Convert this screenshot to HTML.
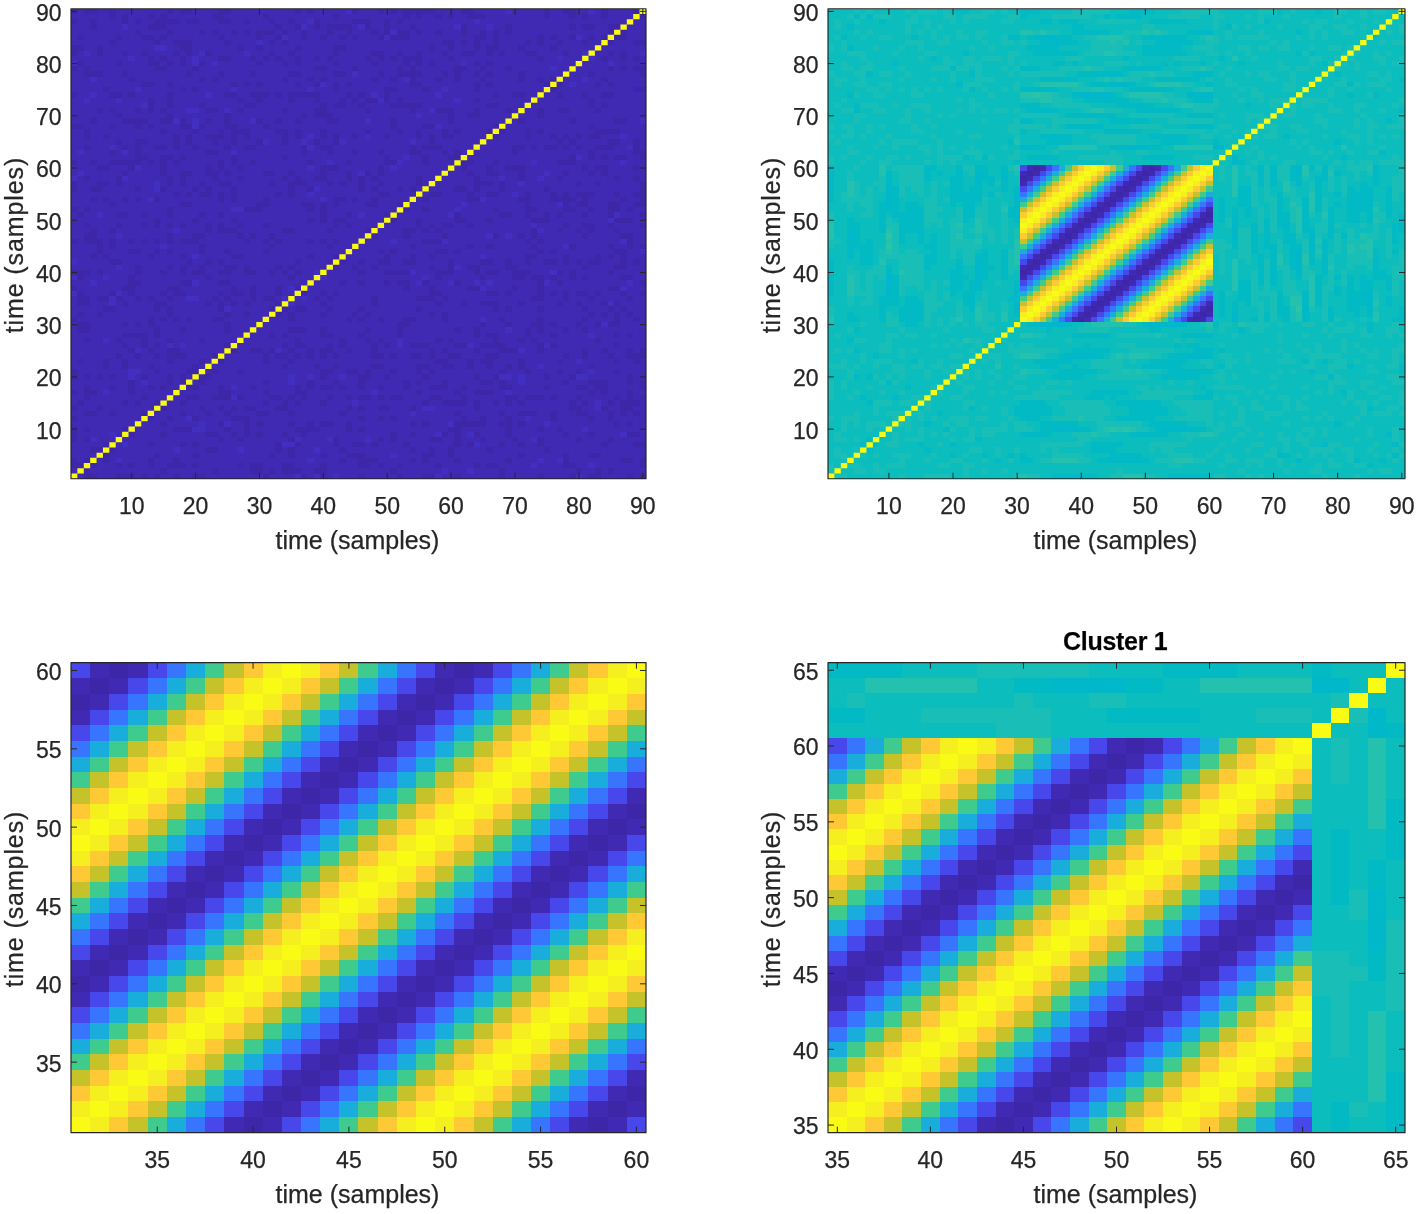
<!DOCTYPE html>
<html lang="en">
<head>
<meta charset="utf-8">
<title>Covariance matrices - time (samples)</title>
<style>
html,body{margin:0;padding:0;background:#fff;}
body{width:1418px;height:1214px;overflow:hidden;}
svg{display:block;}
text{font-kerning:normal;}
</style>
</head>
<body>
<svg width="1418" height="1214" viewBox="0 0 1418 1214">
<rect width="1418" height="1214" fill="#fff"/>
<g shape-rendering="crispEdges">
<rect x="71" y="8.75" width="575" height="470" fill="#402ab4"/>
<path fill="#3e26a8" d="M84 474h13v5h-13zM116 474h19v5h-19zM141 474h7v5h-7zM154 474h6v5h-6zM173 474h7v5h-7zM192 474h13v5h-13zM263 474h6v5h-6zM301 474h6v5h-6zM320 474h7v5h-7zM358 474h7v5h-7zM397 474h6v5h-6zM422 474h13v5h-13zM454 474h7v5h-7zM499 474h6v5h-6zM537 474h7v5h-7zM569 474h7v5h-7zM588 474h13v5h-13zM627 474h6v5h-6zM640 474h6v5h-6zM84 468h6v6h-6zM160 468h7v6h-7zM212 468h6v6h-6zM250 468h13v6h-13zM269 468h6v6h-6zM282 468h19v6h-19zM314 468h13v6h-13zM390 468h7v6h-7zM499 468h6v6h-6zM576 468h6v6h-6zM595 468h6v6h-6zM608 468h6v6h-6zM71 463h13v5h-13zM90 463h7v5h-7zM116 463h6v5h-6zM128 463h7v5h-7zM148 463h6v5h-6zM167 463h19v5h-19zM192 463h7v5h-7zM237 463h7v5h-7zM250 463h13v5h-13zM282 463h13v5h-13zM320 463h7v5h-7zM358 463h13v5h-13zM378 463h6v5h-6zM397 463h6v5h-6zM435 463h7v5h-7zM474 463h6v5h-6zM486 463h13v5h-13zM563 463h13v5h-13zM640 463h6v5h-6zM71 458h6v5h-6zM84 458h6v5h-6zM103 458h6v5h-6zM148 458h6v5h-6zM173 458h7v5h-7zM339 458h7v5h-7zM358 458h20v5h-20zM410 458h6v5h-6zM422 458h7v5h-7zM454 458h7v5h-7zM505 458h7v5h-7zM563 458h6v5h-6zM620 458h13v5h-13zM640 458h6v5h-6zM103 453h6v5h-6zM154 453h6v5h-6zM192 453h7v5h-7zM269 453h6v5h-6zM288 453h7v5h-7zM320 453h7v5h-7zM346 453h19v5h-19zM422 453h13v5h-13zM448 453h6v5h-6zM518 453h7v5h-7zM563 453h6v5h-6zM588 453h13v5h-13zM90 447h13v6h-13zM109 447h7v6h-7zM205 447h13v6h-13zM275 447h7v6h-7zM288 447h7v6h-7zM339 447h7v6h-7zM410 447h6v6h-6zM429 447h6v6h-6zM448 447h6v6h-6zM486 447h7v6h-7zM544 447h6v6h-6zM103 442h6v5h-6zM148 442h6v5h-6zM180 442h6v5h-6zM192 442h7v5h-7zM275 442h7v5h-7zM295 442h6v5h-6zM333 442h6v5h-6zM352 442h13v5h-13zM371 442h7v5h-7zM403 442h7v5h-7zM454 442h7v5h-7zM467 442h7v5h-7zM499 442h6v5h-6zM518 442h7v5h-7zM537 442h7v5h-7zM601 442h7v5h-7zM633 442h13v5h-13zM71 437h6v5h-6zM84 437h6v5h-6zM218 437h6v5h-6zM237 437h7v5h-7zM288 437h7v5h-7zM333 437h6v5h-6zM378 437h6v5h-6zM390 437h7v5h-7zM429 437h13v5h-13zM454 437h7v5h-7zM480 437h6v5h-6zM512 437h6v5h-6zM537 437h7v5h-7zM576 437h6v5h-6zM608 437h6v5h-6zM71 432h6v5h-6zM128 432h7v5h-7zM160 432h7v5h-7zM205 432h13v5h-13zM231 432h6v5h-6zM244 432h6v5h-6zM256 432h7v5h-7zM282 432h6v5h-6zM301 432h6v5h-6zM390 432h7v5h-7zM410 432h6v5h-6zM442 432h6v5h-6zM454 432h7v5h-7zM474 432h6v5h-6zM505 432h7v5h-7zM563 432h6v5h-6zM588 432h7v5h-7zM627 432h13v5h-13zM71 427h6v5h-6zM84 427h6v5h-6zM122 427h6v5h-6zM173 427h19v5h-19zM224 427h7v5h-7zM244 427h6v5h-6zM295 427h25v5h-25zM346 427h6v5h-6zM358 427h7v5h-7zM448 427h13v5h-13zM505 427h7v5h-7zM537 427h7v5h-7zM557 427h6v5h-6zM160 421h7v6h-7zM218 421h6v6h-6zM244 421h6v6h-6zM256 421h7v6h-7zM288 421h7v6h-7zM307 421h7v6h-7zM320 421h13v6h-13zM346 421h6v6h-6zM410 421h6v6h-6zM422 421h7v6h-7zM454 421h32v6h-32zM499 421h13v6h-13zM518 421h7v6h-7zM614 421h6v6h-6zM627 421h6v6h-6zM71 416h6v5h-6zM148 416h6v5h-6zM167 416h6v5h-6zM192 416h7v5h-7zM231 416h19v5h-19zM358 416h7v5h-7zM378 416h6v5h-6zM390 416h7v5h-7zM461 416h6v5h-6zM480 416h6v5h-6zM505 416h7v5h-7zM550 416h7v5h-7zM588 416h7v5h-7zM608 416h6v5h-6zM84 411h13v5h-13zM109 411h7v5h-7zM141 411h7v5h-7zM180 411h6v5h-6zM205 411h7v5h-7zM224 411h7v5h-7zM256 411h13v5h-13zM288 411h7v5h-7zM339 411h7v5h-7zM454 411h7v5h-7zM499 411h6v5h-6zM518 411h19v5h-19zM550 411h7v5h-7zM576 411h12v5h-12zM608 411h6v5h-6zM620 411h7v5h-7zM633 411h7v5h-7zM71 406h6v5h-6zM97 406h6v5h-6zM160 406h7v5h-7zM199 406h6v5h-6zM218 406h6v5h-6zM231 406h6v5h-6zM244 406h12v5h-12zM275 406h13v5h-13zM346 406h6v5h-6zM358 406h7v5h-7zM378 406h12v5h-12zM410 406h6v5h-6zM474 406h6v5h-6zM569 406h13v5h-13zM601 406h7v5h-7zM620 406h13v5h-13zM77 400h7v6h-7zM122 400h6v6h-6zM135 400h6v6h-6zM154 400h6v6h-6zM180 400h6v6h-6zM263 400h6v6h-6zM282 400h6v6h-6zM295 400h6v6h-6zM320 400h7v6h-7zM422 400h7v6h-7zM442 400h25v6h-25zM474 400h6v6h-6zM493 400h6v6h-6zM505 400h7v6h-7zM518 400h7v6h-7zM569 400h7v6h-7zM582 400h6v6h-6zM608 400h6v6h-6zM620 400h20v6h-20zM84 395h6v5h-6zM141 395h7v5h-7zM186 395h13v5h-13zM212 395h19v5h-19zM237 395h7v5h-7zM269 395h13v5h-13zM288 395h7v5h-7zM301 395h6v5h-6zM327 395h6v5h-6zM346 395h6v5h-6zM358 395h13v5h-13zM378 395h6v5h-6zM390 395h13v5h-13zM429 395h13v5h-13zM461 395h6v5h-6zM505 395h13v5h-13zM525 395h19v5h-19zM550 395h7v5h-7zM576 395h6v5h-6zM614 395h6v5h-6zM627 395h6v5h-6zM640 395h6v5h-6zM71 390h6v5h-6zM84 390h13v5h-13zM128 390h7v5h-7zM218 390h13v5h-13zM263 390h6v5h-6zM295 390h12v5h-12zM416 390h6v5h-6zM454 390h7v5h-7zM474 390h19v5h-19zM588 390h7v5h-7zM601 390h7v5h-7zM627 390h6v5h-6zM84 385h6v5h-6zM109 385h7v5h-7zM128 385h7v5h-7zM148 385h6v5h-6zM160 385h7v5h-7zM186 385h13v5h-13zM218 385h6v5h-6zM250 385h6v5h-6zM295 385h6v5h-6zM307 385h7v5h-7zM320 385h13v5h-13zM339 385h7v5h-7zM358 385h7v5h-7zM378 385h6v5h-6zM403 385h7v5h-7zM429 385h19v5h-19zM461 385h6v5h-6zM499 385h13v5h-13zM544 385h6v5h-6zM576 385h12v5h-12zM595 385h13v5h-13zM640 385h6v5h-6zM128 380h7v5h-7zM167 380h6v5h-6zM180 380h6v5h-6zM199 380h6v5h-6zM263 380h6v5h-6zM307 380h7v5h-7zM333 380h6v5h-6zM358 380h7v5h-7zM403 380h7v5h-7zM416 380h6v5h-6zM442 380h6v5h-6zM480 380h13v5h-13zM499 380h6v5h-6zM563 380h6v5h-6zM588 380h20v5h-20zM627 380h6v5h-6zM640 380h6v5h-6zM71 374h6v6h-6zM84 374h6v6h-6zM97 374h6v6h-6zM109 374h7v6h-7zM141 374h7v6h-7zM167 374h6v6h-6zM180 374h6v6h-6zM199 374h13v6h-13zM320 374h7v6h-7zM358 374h13v6h-13zM384 374h6v6h-6zM422 374h7v6h-7zM474 374h6v6h-6zM493 374h6v6h-6zM544 374h6v6h-6zM569 374h7v6h-7zM627 374h6v6h-6zM71 369h6v5h-6zM154 369h6v5h-6zM186 369h13v5h-13zM212 369h6v5h-6zM237 369h7v5h-7zM320 369h13v5h-13zM346 369h12v5h-12zM365 369h6v5h-6zM390 369h7v5h-7zM416 369h6v5h-6zM429 369h6v5h-6zM499 369h6v5h-6zM525 369h6v5h-6zM557 369h6v5h-6zM576 369h6v5h-6zM614 369h6v5h-6zM103 364h6v5h-6zM122 364h6v5h-6zM148 364h6v5h-6zM192 364h7v5h-7zM282 364h6v5h-6zM314 364h6v5h-6zM333 364h6v5h-6zM371 364h13v5h-13zM416 364h13v5h-13zM442 364h12v5h-12zM467 364h7v5h-7zM486 364h7v5h-7zM505 364h7v5h-7zM518 364h7v5h-7zM588 364h7v5h-7zM77 359h7v5h-7zM103 359h6v5h-6zM122 359h6v5h-6zM167 359h6v5h-6zM199 359h6v5h-6zM218 359h6v5h-6zM263 359h6v5h-6zM288 359h7v5h-7zM435 359h13v5h-13zM467 359h7v5h-7zM480 359h13v5h-13zM518 359h7v5h-7zM557 359h6v5h-6zM614 359h6v5h-6zM633 359h7v5h-7zM116 353h6v6h-6zM135 353h6v6h-6zM154 353h6v6h-6zM167 353h19v6h-19zM212 353h6v6h-6zM263 353h6v6h-6zM275 353h13v6h-13zM295 353h6v6h-6zM307 353h7v6h-7zM320 353h7v6h-7zM333 353h6v6h-6zM371 353h13v6h-13zM390 353h7v6h-7zM410 353h12v6h-12zM429 353h6v6h-6zM448 353h13v6h-13zM486 353h13v6h-13zM563 353h6v6h-6zM582 353h6v6h-6zM608 353h6v6h-6zM627 353h19v6h-19zM128 348h7v5h-7zM148 348h6v5h-6zM167 348h13v5h-13zM231 348h6v5h-6zM250 348h13v5h-13zM269 348h6v5h-6zM288 348h7v5h-7zM307 348h7v5h-7zM320 348h13v5h-13zM346 348h6v5h-6zM371 348h7v5h-7zM429 348h6v5h-6zM442 348h6v5h-6zM474 348h6v5h-6zM499 348h19v5h-19zM537 348h7v5h-7zM582 348h6v5h-6zM601 348h7v5h-7zM627 348h6v5h-6zM640 348h6v5h-6zM122 343h6v5h-6zM141 343h7v5h-7zM154 343h6v5h-6zM224 343h7v5h-7zM282 343h6v5h-6zM295 343h12v5h-12zM327 343h6v5h-6zM339 343h7v5h-7zM371 343h7v5h-7zM384 343h6v5h-6zM410 343h19v5h-19zM454 343h13v5h-13zM480 343h25v5h-25zM537 343h7v5h-7zM550 343h7v5h-7zM614 343h6v5h-6zM84 338h6v5h-6zM116 338h6v5h-6zM141 338h7v5h-7zM167 338h6v5h-6zM199 338h6v5h-6zM295 338h6v5h-6zM339 338h7v5h-7zM365 338h6v5h-6zM378 338h6v5h-6zM435 338h7v5h-7zM448 338h6v5h-6zM493 338h6v5h-6zM518 338h7v5h-7zM531 338h6v5h-6zM595 338h6v5h-6zM122 333h26v5h-26zM154 333h6v5h-6zM269 333h6v5h-6zM282 333h6v5h-6zM320 333h13v5h-13zM358 333h7v5h-7zM397 333h6v5h-6zM474 333h6v5h-6zM486 333h13v5h-13zM525 333h6v5h-6zM550 333h7v5h-7zM614 333h6v5h-6zM627 333h6v5h-6zM77 327h13v6h-13zM154 327h6v6h-6zM180 327h6v6h-6zM224 327h7v6h-7zM288 327h19v6h-19zM320 327h7v6h-7zM365 327h6v6h-6zM397 327h6v6h-6zM454 327h7v6h-7zM474 327h6v6h-6zM525 327h6v6h-6zM537 327h7v6h-7zM563 327h6v6h-6zM582 327h6v6h-6zM77 322h13v5h-13zM122 322h6v5h-6zM135 322h6v5h-6zM148 322h6v5h-6zM224 322h7v5h-7zM397 322h13v5h-13zM480 322h6v5h-6zM505 322h7v5h-7zM531 322h13v5h-13zM550 322h7v5h-7zM576 322h6v5h-6zM595 322h6v5h-6zM608 322h12v5h-12zM71 317h6v5h-6zM148 317h6v5h-6zM160 317h7v5h-7zM173 317h7v5h-7zM186 317h6v5h-6zM212 317h12v5h-12zM288 317h7v5h-7zM346 317h6v5h-6zM358 317h7v5h-7zM378 317h6v5h-6zM403 317h13v5h-13zM442 317h6v5h-6zM499 317h6v5h-6zM537 317h7v5h-7zM582 317h6v5h-6zM614 317h6v5h-6zM633 317h7v5h-7zM77 312h7v5h-7zM97 312h6v5h-6zM167 312h6v5h-6zM224 312h7v5h-7zM244 312h6v5h-6zM275 312h7v5h-7zM288 312h7v5h-7zM320 312h7v5h-7zM352 312h6v5h-6zM365 312h6v5h-6zM429 312h6v5h-6zM442 312h6v5h-6zM588 312h7v5h-7zM601 312h7v5h-7zM614 312h6v5h-6zM627 312h6v5h-6zM103 306h13v6h-13zM154 306h6v6h-6zM167 306h6v6h-6zM218 306h6v6h-6zM269 306h6v6h-6zM282 306h6v6h-6zM295 306h12v6h-12zM327 306h6v6h-6zM358 306h7v6h-7zM416 306h6v6h-6zM493 306h6v6h-6zM505 306h7v6h-7zM537 306h7v6h-7zM582 306h6v6h-6zM608 306h6v6h-6zM620 306h7v6h-7zM77 301h13v5h-13zM122 301h6v5h-6zM154 301h13v5h-13zM205 301h7v5h-7zM218 301h6v5h-6zM231 301h6v5h-6zM244 301h6v5h-6zM275 301h7v5h-7zM320 301h7v5h-7zM371 301h7v5h-7zM435 301h7v5h-7zM461 301h6v5h-6zM480 301h19v5h-19zM518 301h7v5h-7zM557 301h6v5h-6zM576 301h6v5h-6zM601 301h7v5h-7zM614 301h6v5h-6zM77 296h13v5h-13zM97 296h12v5h-12zM116 296h6v5h-6zM135 296h6v5h-6zM148 296h6v5h-6zM167 296h6v5h-6zM212 296h6v5h-6zM224 296h7v5h-7zM250 296h6v5h-6zM263 296h12v5h-12zM314 296h6v5h-6zM327 296h6v5h-6zM371 296h7v5h-7zM416 296h19v5h-19zM442 296h6v5h-6zM531 296h13v5h-13zM563 296h6v5h-6zM588 296h7v5h-7zM627 296h6v5h-6zM77 291h7v5h-7zM109 291h7v5h-7zM128 291h7v5h-7zM160 291h7v5h-7zM173 291h13v5h-13zM218 291h6v5h-6zM231 291h13v5h-13zM250 291h6v5h-6zM275 291h7v5h-7zM301 291h6v5h-6zM320 291h7v5h-7zM333 291h6v5h-6zM429 291h13v5h-13zM486 291h13v5h-13zM505 291h7v5h-7zM537 291h7v5h-7zM550 291h7v5h-7zM563 291h6v5h-6zM576 291h12v5h-12zM595 291h6v5h-6zM620 291h7v5h-7zM640 291h6v5h-6zM71 286h6v5h-6zM122 286h13v5h-13zM167 286h13v5h-13zM231 286h6v5h-6zM250 286h6v5h-6zM275 286h7v5h-7zM295 286h6v5h-6zM403 286h7v5h-7zM429 286h6v5h-6zM467 286h13v5h-13zM512 286h6v5h-6zM537 286h7v5h-7zM608 286h12v5h-12zM128 280h13v6h-13zM180 280h12v6h-12zM218 280h13v6h-13zM339 280h7v6h-7zM358 280h7v6h-7zM384 280h6v6h-6zM397 280h13v6h-13zM422 280h7v6h-7zM454 280h7v6h-7zM537 280h7v6h-7zM557 280h6v6h-6zM640 280h6v6h-6zM77 275h7v5h-7zM128 275h7v5h-7zM205 275h7v5h-7zM288 275h7v5h-7zM435 275h7v5h-7zM480 275h6v5h-6zM512 275h13v5h-13zM531 275h13v5h-13zM550 275h7v5h-7zM569 275h7v5h-7zM582 275h6v5h-6zM620 275h13v5h-13zM71 270h19v5h-19zM97 270h6v5h-6zM135 270h6v5h-6zM160 270h7v5h-7zM180 270h6v5h-6zM192 270h13v5h-13zM218 270h13v5h-13zM244 270h12v5h-12zM269 270h6v5h-6zM282 270h6v5h-6zM295 270h6v5h-6zM358 270h7v5h-7zM384 270h26v5h-26zM435 270h19v5h-19zM474 270h6v5h-6zM486 270h13v5h-13zM512 270h19v5h-19zM557 270h6v5h-6zM569 270h7v5h-7zM608 270h6v5h-6zM135 265h6v5h-6zM167 265h6v5h-6zM180 265h6v5h-6zM199 265h6v5h-6zM224 265h13v5h-13zM244 265h6v5h-6zM275 265h7v5h-7zM288 265h7v5h-7zM333 265h6v5h-6zM352 265h6v5h-6zM371 265h7v5h-7zM429 265h6v5h-6zM448 265h6v5h-6zM467 265h13v5h-13zM505 265h13v5h-13zM582 265h6v5h-6zM614 265h13v5h-13zM109 259h13v6h-13zM186 259h6v6h-6zM205 259h7v6h-7zM218 259h6v6h-6zM295 259h6v6h-6zM327 259h6v6h-6zM339 259h7v6h-7zM358 259h7v6h-7zM378 259h12v6h-12zM403 259h13v6h-13zM448 259h6v6h-6zM480 259h13v6h-13zM505 259h7v6h-7zM525 259h6v6h-6zM544 259h13v6h-13zM563 259h6v6h-6zM576 259h6v6h-6zM588 259h13v6h-13zM620 259h7v6h-7zM633 259h7v6h-7zM90 254h7v5h-7zM103 254h6v5h-6zM148 254h6v5h-6zM180 254h6v5h-6zM231 254h13v5h-13zM307 254h7v5h-7zM333 254h6v5h-6zM384 254h6v5h-6zM410 254h6v5h-6zM429 254h6v5h-6zM525 254h12v5h-12zM563 254h6v5h-6zM595 254h6v5h-6zM608 254h6v5h-6zM620 254h7v5h-7zM97 249h6v5h-6zM128 249h13v5h-13zM154 249h6v5h-6zM167 249h6v5h-6zM199 249h6v5h-6zM224 249h7v5h-7zM263 249h6v5h-6zM378 249h6v5h-6zM390 249h7v5h-7zM435 249h13v5h-13zM454 249h7v5h-7zM537 249h7v5h-7zM550 249h7v5h-7zM614 249h13v5h-13zM97 244h6v5h-6zM109 244h7v5h-7zM199 244h6v5h-6zM269 244h6v5h-6zM327 244h6v5h-6zM410 244h6v5h-6zM467 244h7v5h-7zM486 244h7v5h-7zM531 244h6v5h-6zM569 244h7v5h-7zM608 244h6v5h-6zM627 244h6v5h-6zM640 244h6v5h-6zM71 239h6v5h-6zM84 239h19v5h-19zM109 239h7v5h-7zM128 239h7v5h-7zM141 239h7v5h-7zM154 239h6v5h-6zM167 239h6v5h-6zM180 239h19v5h-19zM244 239h6v5h-6zM263 239h6v5h-6zM275 239h7v5h-7zM307 239h7v5h-7zM320 239h7v5h-7zM333 239h6v5h-6zM422 239h20v5h-20zM525 239h6v5h-6zM537 239h7v5h-7zM627 239h6v5h-6zM84 233h13v6h-13zM167 233h6v6h-6zM192 233h13v6h-13zM237 233h7v6h-7zM250 233h6v6h-6zM269 233h6v6h-6zM371 233h7v6h-7zM403 233h7v6h-7zM442 233h6v6h-6zM493 233h6v6h-6zM518 233h7v6h-7zM531 233h6v6h-6zM582 233h6v6h-6zM620 233h13v6h-13zM90 228h7v5h-7zM109 228h7v5h-7zM205 228h7v5h-7zM218 228h19v5h-19zM282 228h13v5h-13zM327 228h6v5h-6zM365 228h6v5h-6zM403 228h13v5h-13zM422 228h7v5h-7zM435 228h7v5h-7zM531 228h6v5h-6zM557 228h6v5h-6zM576 228h6v5h-6zM588 228h7v5h-7zM614 228h6v5h-6zM84 223h6v5h-6zM116 223h6v5h-6zM141 223h7v5h-7zM154 223h6v5h-6zM167 223h6v5h-6zM180 223h6v5h-6zM205 223h7v5h-7zM218 223h6v5h-6zM237 223h7v5h-7zM263 223h6v5h-6zM333 223h6v5h-6zM346 223h6v5h-6zM416 223h6v5h-6zM429 223h6v5h-6zM442 223h12v5h-12zM467 223h7v5h-7zM563 223h6v5h-6zM582 223h13v5h-13zM608 223h6v5h-6zM640 223h6v5h-6zM154 218h6v5h-6zM192 218h7v5h-7zM231 218h6v5h-6zM307 218h7v5h-7zM320 218h7v5h-7zM333 218h13v5h-13zM390 218h7v5h-7zM416 218h6v5h-6zM454 218h13v5h-13zM486 218h7v5h-7zM531 218h19v5h-19zM614 218h19v5h-19zM77 212h7v6h-7zM116 212h12v6h-12zM141 212h7v6h-7zM167 212h6v6h-6zM199 212h6v6h-6zM218 212h6v6h-6zM320 212h7v6h-7zM346 212h6v6h-6zM384 212h6v6h-6zM454 212h7v6h-7zM499 212h13v6h-13zM525 212h6v6h-6zM544 212h6v6h-6zM557 212h6v6h-6zM582 212h6v6h-6zM608 212h6v6h-6zM640 212h6v6h-6zM71 207h6v5h-6zM84 207h6v5h-6zM167 207h6v5h-6zM244 207h19v5h-19zM307 207h7v5h-7zM320 207h7v5h-7zM403 207h7v5h-7zM422 207h7v5h-7zM493 207h6v5h-6zM525 207h12v5h-12zM563 207h13v5h-13zM588 207h7v5h-7zM608 207h12v5h-12zM627 207h6v5h-6zM109 202h7v5h-7zM180 202h12v5h-12zM256 202h13v5h-13zM301 202h13v5h-13zM320 202h7v5h-7zM333 202h6v5h-6zM365 202h13v5h-13zM397 202h6v5h-6zM525 202h6v5h-6zM563 202h6v5h-6zM576 202h12v5h-12zM608 202h12v5h-12zM633 202h13v5h-13zM90 197h7v5h-7zM103 197h6v5h-6zM122 197h6v5h-6zM135 197h6v5h-6zM154 197h6v5h-6zM218 197h6v5h-6zM231 197h6v5h-6zM263 197h6v5h-6zM333 197h13v5h-13zM352 197h6v5h-6zM371 197h7v5h-7zM422 197h7v5h-7zM467 197h13v5h-13zM518 197h13v5h-13zM550 197h26v5h-26zM582 197h6v5h-6zM620 197h7v5h-7zM640 197h6v5h-6zM173 192h7v5h-7zM186 192h6v5h-6zM199 192h13v5h-13zM218 192h6v5h-6zM231 192h6v5h-6zM275 192h7v5h-7zM288 192h7v5h-7zM378 192h12v5h-12zM429 192h13v5h-13zM467 192h7v5h-7zM486 192h13v5h-13zM525 192h6v5h-6zM550 192h7v5h-7zM563 192h6v5h-6zM576 192h19v5h-19zM614 192h6v5h-6zM633 192h13v5h-13zM71 186h6v6h-6zM90 186h13v6h-13zM135 186h6v6h-6zM160 186h7v6h-7zM192 186h7v6h-7zM205 186h7v6h-7zM231 186h6v6h-6zM288 186h7v6h-7zM307 186h7v6h-7zM358 186h7v6h-7zM371 186h7v6h-7zM397 186h6v6h-6zM410 186h6v6h-6zM454 186h13v6h-13zM474 186h6v6h-6zM499 186h6v6h-6zM544 186h6v6h-6zM640 186h6v6h-6zM71 181h6v5h-6zM97 181h12v5h-12zM116 181h6v5h-6zM167 181h6v5h-6zM180 181h6v5h-6zM199 181h6v5h-6zM218 181h13v5h-13zM269 181h6v5h-6zM288 181h19v5h-19zM327 181h6v5h-6zM339 181h7v5h-7zM358 181h7v5h-7zM378 181h6v5h-6zM416 181h6v5h-6zM474 181h19v5h-19zM499 181h6v5h-6zM576 181h6v5h-6zM595 181h6v5h-6zM640 181h6v5h-6zM84 176h6v5h-6zM116 176h6v5h-6zM167 176h6v5h-6zM180 176h6v5h-6zM212 176h6v5h-6zM237 176h7v5h-7zM282 176h6v5h-6zM295 176h6v5h-6zM314 176h13v5h-13zM346 176h6v5h-6zM358 176h7v5h-7zM371 176h7v5h-7zM416 176h6v5h-6zM474 176h6v5h-6zM518 176h7v5h-7zM557 176h6v5h-6zM614 176h6v5h-6zM633 176h7v5h-7zM122 171h6v5h-6zM160 171h7v5h-7zM180 171h12v5h-12zM205 171h13v5h-13zM224 171h7v5h-7zM263 171h12v5h-12zM288 171h7v5h-7zM320 171h7v5h-7zM346 171h6v5h-6zM365 171h6v5h-6zM378 171h6v5h-6zM467 171h7v5h-7zM486 171h13v5h-13zM518 171h7v5h-7zM563 171h6v5h-6zM588 171h7v5h-7zM601 171h7v5h-7zM97 165h12v6h-12zM128 165h7v6h-7zM160 165h7v6h-7zM205 165h7v6h-7zM218 165h6v6h-6zM237 165h7v6h-7zM320 165h19v6h-19zM378 165h6v6h-6zM461 165h6v6h-6zM486 165h7v6h-7zM505 165h20v6h-20zM582 165h6v6h-6zM595 165h13v6h-13zM633 165h7v6h-7zM71 160h6v5h-6zM90 160h7v5h-7zM109 160h32v5h-32zM148 160h6v5h-6zM160 160h7v5h-7zM173 160h7v5h-7zM218 160h6v5h-6zM231 160h6v5h-6zM250 160h6v5h-6zM307 160h7v5h-7zM346 160h6v5h-6zM384 160h13v5h-13zM422 160h7v5h-7zM461 160h13v5h-13zM493 160h6v5h-6zM557 160h19v5h-19zM135 155h13v5h-13zM160 155h13v5h-13zM180 155h6v5h-6zM231 155h6v5h-6zM282 155h6v5h-6zM384 155h6v5h-6zM422 155h7v5h-7zM448 155h13v5h-13zM569 155h7v5h-7zM588 155h7v5h-7zM601 155h7v5h-7zM614 155h13v5h-13zM640 155h6v5h-6zM109 150h7v5h-7zM135 150h6v5h-6zM205 150h13v5h-13zM301 150h6v5h-6zM327 150h6v5h-6zM352 150h6v5h-6zM378 150h6v5h-6zM410 150h12v5h-12zM442 150h6v5h-6zM454 150h7v5h-7zM512 150h6v5h-6zM588 150h7v5h-7zM633 150h13v5h-13zM84 145h6v5h-6zM122 145h6v5h-6zM135 145h6v5h-6zM154 145h13v5h-13zM173 145h7v5h-7zM192 145h7v5h-7zM224 145h7v5h-7zM244 145h12v5h-12zM301 145h6v5h-6zM320 145h13v5h-13zM410 145h6v5h-6zM422 145h20v5h-20zM512 145h13v5h-13zM531 145h6v5h-6zM544 145h13v5h-13zM563 145h6v5h-6zM576 145h6v5h-6zM595 145h19v5h-19zM633 145h7v5h-7zM116 139h6v6h-6zM135 139h13v6h-13zM173 139h7v6h-7zM186 139h6v6h-6zM212 139h6v6h-6zM231 139h6v6h-6zM256 139h7v6h-7zM282 139h6v6h-6zM314 139h6v6h-6zM333 139h6v6h-6zM429 139h6v6h-6zM557 139h6v6h-6zM569 139h7v6h-7zM608 139h12v6h-12zM633 139h7v6h-7zM84 134h6v5h-6zM103 134h6v5h-6zM173 134h7v5h-7zM186 134h6v5h-6zM205 134h19v5h-19zM231 134h6v5h-6zM244 134h6v5h-6zM282 134h6v5h-6zM295 134h6v5h-6zM320 134h7v5h-7zM333 134h6v5h-6zM352 134h6v5h-6zM384 134h6v5h-6zM416 134h6v5h-6zM429 134h6v5h-6zM442 134h12v5h-12zM493 134h6v5h-6zM525 134h6v5h-6zM550 134h7v5h-7zM563 134h6v5h-6zM576 134h6v5h-6zM588 134h13v5h-13zM84 129h6v5h-6zM160 129h7v5h-7zM192 129h7v5h-7zM218 129h6v5h-6zM231 129h19v5h-19zM275 129h13v5h-13zM295 129h6v5h-6zM320 129h7v5h-7zM365 129h6v5h-6zM397 129h6v5h-6zM416 129h6v5h-6zM442 129h6v5h-6zM454 129h7v5h-7zM486 129h7v5h-7zM499 129h6v5h-6zM525 129h6v5h-6zM537 129h7v5h-7zM595 129h25v5h-25zM71 124h13v5h-13zM109 124h7v5h-7zM135 124h6v5h-6zM148 124h6v5h-6zM180 124h12v5h-12zM199 124h6v5h-6zM224 124h13v5h-13zM263 124h6v5h-6zM390 124h7v5h-7zM422 124h13v5h-13zM493 124h6v5h-6zM588 124h7v5h-7zM90 118h7v6h-7zM122 118h26v6h-26zM160 118h13v6h-13zM180 118h6v6h-6zM205 118h7v6h-7zM224 118h7v6h-7zM256 118h7v6h-7zM275 118h7v6h-7zM295 118h6v6h-6zM327 118h12v6h-12zM390 118h7v6h-7zM448 118h6v6h-6zM518 118h7v6h-7zM569 118h7v6h-7zM614 118h13v6h-13zM116 113h6v5h-6zM167 113h6v5h-6zM224 113h7v5h-7zM301 113h6v5h-6zM314 113h19v5h-19zM448 113h6v5h-6zM467 113h13v5h-13zM537 113h7v5h-7zM97 108h6v5h-6zM109 108h7v5h-7zM135 108h6v5h-6zM148 108h6v5h-6zM160 108h7v5h-7zM205 108h13v5h-13zM237 108h7v5h-7zM282 108h6v5h-6zM314 108h13v5h-13zM365 108h6v5h-6zM410 108h6v5h-6zM435 108h19v5h-19zM474 108h6v5h-6zM505 108h7v5h-7zM537 108h7v5h-7zM557 108h12v5h-12zM595 108h6v5h-6zM148 103h6v5h-6zM167 103h6v5h-6zM199 103h6v5h-6zM244 103h12v5h-12zM320 103h7v5h-7zM333 103h13v5h-13zM358 103h7v5h-7zM390 103h32v5h-32zM486 103h13v5h-13zM588 103h7v5h-7zM601 103h7v5h-7zM148 98h6v5h-6zM167 98h6v5h-6zM237 98h7v5h-7zM256 98h7v5h-7zM288 98h7v5h-7zM314 98h6v5h-6zM339 98h7v5h-7zM352 98h6v5h-6zM365 98h13v5h-13zM384 98h6v5h-6zM397 98h6v5h-6zM474 98h6v5h-6zM588 98h7v5h-7zM71 92h6v6h-6zM109 92h13v6h-13zM128 92h7v6h-7zM167 92h6v6h-6zM224 92h13v6h-13zM250 92h19v6h-19zM275 92h7v6h-7zM288 92h32v6h-32zM346 92h6v6h-6zM358 92h7v6h-7zM384 92h6v6h-6zM493 92h6v6h-6zM512 92h13v6h-13zM557 92h6v6h-6zM582 92h6v6h-6zM601 92h13v6h-13zM103 87h6v5h-6zM180 87h6v5h-6zM192 87h7v5h-7zM333 87h6v5h-6zM384 87h13v5h-13zM422 87h7v5h-7zM474 87h6v5h-6zM550 87h7v5h-7zM633 87h13v5h-13zM141 82h13v5h-13zM167 82h6v5h-6zM231 82h6v5h-6zM244 82h6v5h-6zM256 82h7v5h-7zM295 82h6v5h-6zM314 82h6v5h-6zM333 82h6v5h-6zM346 82h6v5h-6zM410 82h12v5h-12zM474 82h6v5h-6zM486 82h7v5h-7zM544 82h6v5h-6zM557 82h6v5h-6zM595 82h6v5h-6zM608 82h6v5h-6zM128 77h7v5h-7zM199 77h6v5h-6zM212 77h6v5h-6zM282 77h6v5h-6zM307 77h7v5h-7zM320 77h7v5h-7zM371 77h7v5h-7zM390 77h7v5h-7zM410 77h6v5h-6zM435 77h7v5h-7zM454 77h7v5h-7zM480 77h6v5h-6zM518 77h7v5h-7zM537 77h7v5h-7zM550 77h7v5h-7zM601 77h7v5h-7zM84 71h19v6h-19zM122 71h6v6h-6zM186 71h6v6h-6zM218 71h6v6h-6zM250 71h6v6h-6zM288 71h13v6h-13zM333 71h13v6h-13zM378 71h6v6h-6zM397 71h25v6h-25zM442 71h6v6h-6zM454 71h7v6h-7zM474 71h6v6h-6zM486 71h7v6h-7zM518 71h7v6h-7zM588 71h7v6h-7zM640 71h6v6h-6zM71 66h6v5h-6zM84 66h6v5h-6zM154 66h13v5h-13zM192 66h7v5h-7zM314 66h13v5h-13zM352 66h6v5h-6zM397 66h6v5h-6zM410 66h6v5h-6zM454 66h13v5h-13zM480 66h6v5h-6zM505 66h7v5h-7zM608 66h6v5h-6zM620 66h7v5h-7zM633 66h13v5h-13zM77 61h7v5h-7zM116 61h6v5h-6zM148 61h12v5h-12zM167 61h6v5h-6zM180 61h6v5h-6zM199 61h6v5h-6zM256 61h7v5h-7zM282 61h6v5h-6zM295 61h6v5h-6zM333 61h6v5h-6zM371 61h7v5h-7zM403 61h7v5h-7zM416 61h6v5h-6zM429 61h6v5h-6zM474 61h6v5h-6zM486 61h7v5h-7zM148 56h6v5h-6zM160 56h7v5h-7zM180 56h6v5h-6zM218 56h13v5h-13zM250 56h6v5h-6zM263 56h6v5h-6zM275 56h7v5h-7zM295 56h6v5h-6zM314 56h6v5h-6zM327 56h6v5h-6zM365 56h6v5h-6zM378 56h6v5h-6zM390 56h7v5h-7zM403 56h19v5h-19zM448 56h6v5h-6zM537 56h7v5h-7zM601 56h7v5h-7zM620 56h7v5h-7zM633 56h7v5h-7zM71 51h6v5h-6zM97 51h6v5h-6zM122 51h6v5h-6zM141 51h7v5h-7zM173 51h7v5h-7zM186 51h6v5h-6zM205 51h7v5h-7zM269 51h6v5h-6zM288 51h7v5h-7zM333 51h6v5h-6zM371 51h13v5h-13zM397 51h6v5h-6zM416 51h6v5h-6zM442 51h6v5h-6zM461 51h13v5h-13zM486 51h7v5h-7zM499 51h6v5h-6zM525 51h12v5h-12zM563 51h6v5h-6zM608 51h6v5h-6zM620 51h7v5h-7zM71 45h13v6h-13zM97 45h6v6h-6zM180 45h12v6h-12zM237 45h7v6h-7zM256 45h7v6h-7zM295 45h6v6h-6zM333 45h13v6h-13zM429 45h6v6h-6zM448 45h6v6h-6zM474 45h6v6h-6zM486 45h13v6h-13zM518 45h7v6h-7zM550 45h7v6h-7zM109 40h7v5h-7zM154 40h6v5h-6zM173 40h19v5h-19zM224 40h7v5h-7zM269 40h6v5h-6zM282 40h6v5h-6zM442 40h12v5h-12zM461 40h6v5h-6zM474 40h6v5h-6zM493 40h6v5h-6zM525 40h6v5h-6zM537 40h7v5h-7zM557 40h6v5h-6zM582 40h6v5h-6zM608 40h6v5h-6zM633 40h13v5h-13zM77 35h7v5h-7zM116 35h6v5h-6zM141 35h13v5h-13zM160 35h7v5h-7zM218 35h6v5h-6zM256 35h7v5h-7zM275 35h7v5h-7zM301 35h6v5h-6zM320 35h7v5h-7zM339 35h7v5h-7zM352 35h6v5h-6zM378 35h6v5h-6zM390 35h20v5h-20zM474 35h12v5h-12zM493 35h6v5h-6zM537 35h7v5h-7zM550 35h7v5h-7zM569 35h7v5h-7zM588 35h7v5h-7zM601 35h7v5h-7zM614 35h13v5h-13zM135 30h6v5h-6zM167 30h6v5h-6zM199 30h6v5h-6zM212 30h6v5h-6zM231 30h6v5h-6zM244 30h6v5h-6zM256 30h19v5h-19zM282 30h6v5h-6zM301 30h6v5h-6zM327 30h6v5h-6zM346 30h6v5h-6zM371 30h7v5h-7zM384 30h6v5h-6zM397 30h13v5h-13zM416 30h6v5h-6zM435 30h7v5h-7zM461 30h6v5h-6zM480 30h6v5h-6zM493 30h6v5h-6zM505 30h7v5h-7zM608 30h6v5h-6zM620 30h7v5h-7zM90 24h7v6h-7zM148 24h19v6h-19zM275 24h7v6h-7zM295 24h6v6h-6zM314 24h6v6h-6zM327 24h25v6h-25zM365 24h6v6h-6zM384 24h6v6h-6zM410 24h6v6h-6zM461 24h6v6h-6zM505 24h7v6h-7zM569 24h7v6h-7zM582 24h13v6h-13zM608 24h12v6h-12zM71 19h6v5h-6zM90 19h7v5h-7zM122 19h6v5h-6zM135 19h6v5h-6zM154 19h26v5h-26zM186 19h13v5h-13zM218 19h13v5h-13zM244 19h6v5h-6zM269 19h6v5h-6zM288 19h7v5h-7zM314 19h6v5h-6zM352 19h19v5h-19zM384 19h6v5h-6zM397 19h6v5h-6zM109 14h7v5h-7zM122 14h6v5h-6zM148 14h6v5h-6zM160 14h7v5h-7zM212 14h12v5h-12zM263 14h6v5h-6zM333 14h6v5h-6zM403 14h7v5h-7zM416 14h6v5h-6zM435 14h7v5h-7zM448 14h6v5h-6zM467 14h19v5h-19zM544 14h6v5h-6zM569 14h7v5h-7zM582 14h6v5h-6zM601 14h7v5h-7zM640 14h6v5h-6zM71 9h6v5h-6zM84 9h13v5h-13zM109 9h7v5h-7zM167 9h6v5h-6zM180 9h12v5h-12zM218 9h13v5h-13zM295 9h6v5h-6zM307 9h7v5h-7zM352 9h6v5h-6zM378 9h6v5h-6zM390 9h7v5h-7zM403 9h32v5h-32zM461 9h13v5h-13zM544 9h6v5h-6zM563 9h13v5h-13zM601 9h7v5h-7zM633 9h7v5h-7z"/>
<path fill="#422ec0" d="M295 474h6v5h-6zM314 474h6v5h-6zM333 474h6v5h-6zM435 474h7v5h-7zM576 474h6v5h-6zM442 468h6v6h-6zM467 468h7v6h-7zM531 463h6v5h-6zM588 463h7v5h-7zM116 458h6v5h-6zM307 458h7v5h-7zM537 458h7v5h-7zM557 458h6v5h-6zM390 453h7v5h-7zM173 447h7v6h-7zM237 447h7v6h-7zM314 447h6v6h-6zM122 442h6v5h-6zM282 442h13v5h-13zM474 442h6v5h-6zM90 437h7v5h-7zM295 437h6v5h-6zM327 437h6v5h-6zM365 437h6v5h-6zM531 437h6v5h-6zM109 432h7v5h-7zM435 432h7v5h-7zM467 432h7v5h-7zM620 432h7v5h-7zM192 427h13v5h-13zM582 427h6v5h-6zM199 421h6v6h-6zM224 421h7v6h-7zM448 421h6v6h-6zM544 421h6v6h-6zM186 416h6v5h-6zM525 416h6v5h-6zM410 411h6v5h-6zM422 406h13v5h-13zM595 406h6v5h-6zM352 400h6v6h-6zM595 400h6v6h-6zM231 395h6v5h-6zM103 390h6v5h-6zM371 390h7v5h-7zM505 390h7v5h-7zM231 385h6v5h-6zM141 380h7v5h-7zM288 380h7v5h-7zM518 380h7v5h-7zM128 374h7v6h-7zM288 374h7v6h-7zM307 374h7v6h-7zM339 374h7v6h-7zM499 374h13v6h-13zM518 374h7v6h-7zM576 374h12v6h-12zM128 369h13v5h-13zM588 369h7v5h-7zM537 364h7v5h-7zM576 359h6v5h-6zM135 348h6v5h-6zM275 348h7v5h-7zM518 348h7v5h-7zM167 343h6v5h-6zM180 343h6v5h-6zM397 343h6v5h-6zM467 343h7v5h-7zM544 343h6v5h-6zM103 338h6v5h-6zM397 338h6v5h-6zM588 333h7v5h-7zM505 327h7v6h-7zM601 322h7v5h-7zM480 317h6v5h-6zM224 306h7v6h-7zM109 301h7v5h-7zM288 301h7v5h-7zM608 301h6v5h-6zM109 296h7v5h-7zM186 296h13v5h-13zM282 296h6v5h-6zM301 296h6v5h-6zM71 291h6v5h-6zM116 291h6v5h-6zM288 286h7v5h-7zM480 286h6v5h-6zM620 286h7v5h-7zM90 280h7v6h-7zM192 280h7v6h-7zM416 280h6v6h-6zM448 280h6v6h-6zM474 280h6v6h-6zM486 280h7v6h-7zM544 280h6v6h-6zM627 280h6v6h-6zM71 275h6v5h-6zM103 275h6v5h-6zM320 275h7v5h-7zM422 275h7v5h-7zM314 270h6v5h-6zM410 270h6v5h-6zM550 270h7v5h-7zM116 265h6v5h-6zM454 265h7v5h-7zM71 259h6v6h-6zM192 254h7v5h-7zM480 254h6v5h-6zM640 249h6v5h-6zM160 244h7v5h-7zM563 244h6v5h-6zM390 239h7v5h-7zM442 239h6v5h-6zM620 239h7v5h-7zM116 233h6v6h-6zM486 233h7v6h-7zM505 233h7v6h-7zM173 228h7v5h-7zM537 228h7v5h-7zM531 223h6v5h-6zM608 218h6v5h-6zM97 212h6v6h-6zM358 212h7v6h-7zM448 212h6v6h-6zM614 212h6v6h-6zM231 207h13v5h-13zM454 207h7v5h-7zM461 202h6v5h-6zM557 202h6v5h-6zM148 197h6v5h-6zM320 197h7v5h-7zM480 197h6v5h-6zM307 192h7v5h-7zM512 192h6v5h-6zM154 186h6v6h-6zM314 186h6v6h-6zM154 181h6v5h-6zM518 181h7v5h-7zM71 176h6v5h-6zM122 176h6v5h-6zM499 176h6v5h-6zM537 176h7v5h-7zM77 171h7v5h-7zM358 171h7v5h-7zM544 171h6v5h-6zM135 165h6v6h-6zM307 165h7v6h-7zM390 165h7v6h-7zM327 160h6v5h-6zM397 160h6v5h-6zM531 160h6v5h-6zM620 160h7v5h-7zM403 155h7v5h-7zM576 155h6v5h-6zM77 150h7v5h-7zM122 150h6v5h-6zM231 150h6v5h-6zM109 145h7v5h-7zM307 145h7v5h-7zM627 145h6v5h-6zM263 139h6v6h-6zM301 139h6v6h-6zM339 139h7v6h-7zM410 139h6v6h-6zM307 134h7v5h-7zM365 134h6v5h-6zM620 134h7v5h-7zM192 124h7v5h-7zM435 124h7v5h-7zM173 118h7v6h-7zM192 118h7v6h-7zM250 118h6v6h-6zM365 118h6v6h-6zM640 118h6v6h-6zM416 113h6v5h-6zM186 108h13v5h-13zM224 108h7v5h-7zM429 108h6v5h-6zM141 103h7v5h-7zM84 98h6v5h-6zM116 98h6v5h-6zM378 98h6v5h-6zM454 98h7v5h-7zM90 92h7v6h-7zM205 92h7v6h-7zM371 92h7v6h-7zM435 92h7v6h-7zM135 87h6v5h-6zM231 87h6v5h-6zM307 87h7v5h-7zM442 87h6v5h-6zM320 82h7v5h-7zM569 82h7v5h-7zM90 77h7v5h-7zM403 77h7v5h-7zM582 77h6v5h-6zM352 71h6v6h-6zM550 66h7v5h-7zM71 61h6v5h-6zM192 61h7v5h-7zM212 61h6v5h-6zM461 61h6v5h-6zM608 61h6v5h-6zM128 56h7v5h-7zM192 56h7v5h-7zM557 56h6v5h-6zM588 56h7v5h-7zM84 51h6v5h-6zM199 51h6v5h-6zM244 51h6v5h-6zM582 51h6v5h-6zM640 51h6v5h-6zM154 45h13v6h-13zM256 40h7v5h-7zM282 35h6v5h-6zM384 35h6v5h-6zM576 35h6v5h-6zM390 30h7v5h-7zM122 24h6v6h-6zM301 24h6v6h-6zM358 24h7v6h-7zM454 24h7v6h-7zM486 24h7v6h-7zM307 19h7v5h-7zM474 19h6v5h-6zM346 9h6v5h-6zM505 9h7v5h-7zM588 9h7v5h-7z"/>
</g>
<g>
<path fill="#f9fb15" d="M71 473.53h6.39v5.22h-6.39zM77.39 468.31h6.39v5.22h-6.39zM83.78 463.08h6.39v5.22h-6.39zM90.17 457.86h6.39v5.22h-6.39zM96.56 452.64h6.39v5.22h-6.39zM102.94 447.42h6.39v5.22h-6.39zM109.33 442.19h6.39v5.22h-6.39zM115.72 436.97h6.39v5.22h-6.39zM122.11 431.75h6.39v5.22h-6.39zM128.5 426.53h6.39v5.22h-6.39zM134.89 421.31h6.39v5.22h-6.39zM141.28 416.08h6.39v5.22h-6.39zM147.67 410.86h6.39v5.22h-6.39zM154.06 405.64h6.39v5.22h-6.39zM160.44 400.42h6.39v5.22h-6.39zM166.83 395.19h6.39v5.22h-6.39zM173.22 389.97h6.39v5.22h-6.39zM179.61 384.75h6.39v5.22h-6.39zM186 379.53h6.39v5.22h-6.39zM192.39 374.31h6.39v5.22h-6.39zM198.78 369.08h6.39v5.22h-6.39zM205.17 363.86h6.39v5.22h-6.39zM211.56 358.64h6.39v5.22h-6.39zM217.94 353.42h6.39v5.22h-6.39zM224.33 348.19h6.39v5.22h-6.39zM230.72 342.97h6.39v5.22h-6.39zM237.11 337.75h6.39v5.22h-6.39zM243.5 332.53h6.39v5.22h-6.39zM249.89 327.31h6.39v5.22h-6.39zM256.28 322.08h6.39v5.22h-6.39zM262.67 316.86h6.39v5.22h-6.39zM269.06 311.64h6.39v5.22h-6.39zM275.44 306.42h6.39v5.22h-6.39zM281.83 301.19h6.39v5.22h-6.39zM288.22 295.97h6.39v5.22h-6.39zM294.61 290.75h6.39v5.22h-6.39zM301 285.53h6.39v5.22h-6.39zM307.39 280.31h6.39v5.22h-6.39zM313.78 275.08h6.39v5.22h-6.39zM320.17 269.86h6.39v5.22h-6.39zM326.56 264.64h6.39v5.22h-6.39zM332.94 259.42h6.39v5.22h-6.39zM339.33 254.19h6.39v5.22h-6.39zM345.72 248.97h6.39v5.22h-6.39zM352.11 243.75h6.39v5.22h-6.39zM358.5 238.53h6.39v5.22h-6.39zM364.89 233.31h6.39v5.22h-6.39zM371.28 228.08h6.39v5.22h-6.39zM377.67 222.86h6.39v5.22h-6.39zM384.06 217.64h6.39v5.22h-6.39zM390.44 212.42h6.39v5.22h-6.39zM396.83 207.19h6.39v5.22h-6.39zM403.22 201.97h6.39v5.22h-6.39zM409.61 196.75h6.39v5.22h-6.39zM416 191.53h6.39v5.22h-6.39zM422.39 186.31h6.39v5.22h-6.39zM428.78 181.08h6.39v5.22h-6.39zM435.17 175.86h6.39v5.22h-6.39zM441.56 170.64h6.39v5.22h-6.39zM447.94 165.42h6.39v5.22h-6.39zM454.33 160.19h6.39v5.22h-6.39zM460.72 154.97h6.39v5.22h-6.39zM467.11 149.75h6.39v5.22h-6.39zM473.5 144.53h6.39v5.22h-6.39zM479.89 139.31h6.39v5.22h-6.39zM486.28 134.08h6.39v5.22h-6.39zM492.67 128.86h6.39v5.22h-6.39zM499.06 123.64h6.39v5.22h-6.39zM505.44 118.42h6.39v5.22h-6.39zM511.83 113.19h6.39v5.22h-6.39zM518.22 107.97h6.39v5.22h-6.39zM524.61 102.75h6.39v5.22h-6.39zM531 97.53h6.39v5.22h-6.39zM537.39 92.31h6.39v5.22h-6.39zM543.78 87.08h6.39v5.22h-6.39zM550.17 81.86h6.39v5.22h-6.39zM556.56 76.64h6.39v5.22h-6.39zM562.94 71.42h6.39v5.22h-6.39zM569.33 66.19h6.39v5.22h-6.39zM575.72 60.97h6.39v5.22h-6.39zM582.11 55.75h6.39v5.22h-6.39zM588.5 50.53h6.39v5.22h-6.39zM594.89 45.31h6.39v5.22h-6.39zM601.28 40.08h6.39v5.22h-6.39zM607.67 34.86h6.39v5.22h-6.39zM614.06 29.64h6.39v5.22h-6.39zM620.44 24.42h6.39v5.22h-6.39zM626.83 19.19h6.39v5.22h-6.39zM633.22 13.97h6.39v5.22h-6.39zM639.61 8.75h6.39v5.22h-6.39z"/>
</g>
<g shape-rendering="crispEdges">
<rect x="828" y="8.75" width="577" height="470" fill="#0bbdbd"/>
<path fill="#01b8ca" d="M1072 474h6v5h-6zM1187 474h6v5h-6zM1123 458h6v5h-6zM1052 427h13v5h-13zM1072 427h6v5h-6zM1161 427h32v5h-32zM1065 353h32v6h-32zM1187 353h19v6h-19zM1193 333h7v5h-7zM1033 322h32v5h-32zM1149 322h32v5h-32zM1232 317h6v5h-6zM1232 312h6v5h-6zM1014 306h6v6h-6zM1302 306h7v6h-7zM1367 306h6v6h-6zM1014 301h6v5h-6zM1367 301h6v5h-6zM1014 296h6v5h-6zM1367 296h6v5h-6zM886 291h6v5h-6zM1014 291h6v5h-6zM1360 291h13v5h-13zM886 286h6v5h-6zM1014 286h6v5h-6zM975 280h7v6h-7zM828 275h6v5h-6zM886 275h6v5h-6zM975 275h7v5h-7zM975 270h7v5h-7zM1296 270h6v5h-6zM975 265h7v5h-7zM1296 265h6v5h-6zM975 259h7v6h-7zM1296 259h6v6h-6zM1296 254h6v5h-6zM1290 249h12v5h-12zM1309 244h6v5h-6zM1309 239h6v5h-6zM847 233h7v6h-7zM1232 233h6v6h-6zM1309 233h6v6h-6zM1232 228h6v5h-6zM1232 223h6v5h-6zM1283 223h7v5h-7zM1232 218h6v5h-6zM1014 212h6v6h-6zM1014 207h6v5h-6zM886 202h6v5h-6zM1014 202h6v5h-6zM1367 202h6v5h-6zM886 197h6v5h-6zM1014 197h6v5h-6zM886 192h6v5h-6zM1014 192h6v5h-6zM1367 192h6v5h-6zM886 186h6v6h-6zM828 181h6v5h-6zM886 181h6v5h-6zM975 181h7v5h-7zM1296 181h6v5h-6zM975 176h7v5h-7zM1001 176h7v5h-7zM975 171h7v5h-7zM1296 171h6v5h-6zM1296 165h6v6h-6zM1373 165h6v6h-6zM1232 160h6v5h-6zM1232 155h6v5h-6zM1020 145h13v5h-13zM1123 145h26v5h-26zM1213 145h12v5h-12zM1136 103h6v5h-6zM1104 98h6v5h-6zM1078 92h32v6h-32zM1187 92h6v6h-6zM1200 92h13v6h-13zM1033 87h7v5h-7zM1110 82h19v5h-19zM1052 40h7v5h-7zM1033 35h26v5h-26zM1161 35h7v5h-7zM1174 35h7v5h-7zM1206 30h7v5h-7z"/>
<path fill="#02bac3" d="M1052 474h20v5h-20zM1078 474h19v5h-19zM1168 474h19v5h-19zM1193 474h20v5h-20zM1367 463h6v5h-6zM995 458h6v5h-6zM1020 458h13v5h-13zM1097 458h26v5h-26zM1129 458h20v5h-20zM1296 458h6v5h-6zM1354 458h6v5h-6zM1379 458h7v5h-7zM950 453h6v5h-6zM982 453h6v5h-6zM1008 453h6v5h-6zM1020 453h7v5h-7zM1110 453h32v5h-32zM1277 453h13v5h-13zM1392 453h7v5h-7zM866 447h7v6h-7zM924 447h7v6h-7zM1091 447h25v6h-25zM860 442h6v5h-6zM873 442h6v5h-6zM918 442h6v5h-6zM950 442h6v5h-6zM1091 442h32v5h-32zM1322 442h6v5h-6zM1392 442h7v5h-7zM866 437h7v5h-7zM975 437h7v5h-7zM1020 432h32v5h-32zM1129 432h39v5h-39zM1386 432h6v5h-6zM943 427h7v5h-7zM1040 427h12v5h-12zM1078 427h13v5h-13zM1155 427h6v5h-6zM1193 427h13v5h-13zM924 421h7v6h-7zM1040 421h38v6h-38zM1149 421h38v6h-38zM1334 421h7v6h-7zM1020 416h20v5h-20zM1116 416h39v5h-39zM937 411h6v5h-6zM1014 411h38v5h-38zM1129 411h39v5h-39zM969 406h6v5h-6zM1014 406h38v5h-38zM1129 406h39v5h-39zM1367 406h6v5h-6zM866 400h7v6h-7zM1020 400h26v6h-26zM1116 400h45v6h-45zM860 395h6v5h-6zM892 395h7v5h-7zM1084 395h20v5h-20zM1110 395h6v5h-6zM1193 395h20v5h-20zM1091 390h38v5h-38zM1206 390h7v5h-7zM1341 390h6v5h-6zM905 385h6v5h-6zM1200 385h6v5h-6zM886 380h6v5h-6zM854 374h6v6h-6zM866 374h7v6h-7zM1052 374h32v6h-32zM1161 374h39v6h-39zM1328 374h6v6h-6zM1059 369h38v5h-38zM1168 369h45v5h-45zM1309 369h6v5h-6zM1399 369h6v5h-6zM1040 364h19v5h-19zM1072 364h6v5h-6zM1142 364h39v5h-39zM1219 364h6v5h-6zM1347 364h7v5h-7zM1399 364h6v5h-6zM911 359h7v5h-7zM1033 359h39v5h-39zM1149 359h38v5h-38zM1302 359h7v5h-7zM1322 359h6v5h-6zM873 353h6v6h-6zM1059 353h6v6h-6zM1097 353h7v6h-7zM1168 353h19v6h-19zM1206 353h7v6h-7zM854 348h6v5h-6zM1072 348h38v5h-38zM1193 348h20v5h-20zM1219 348h6v5h-6zM1084 343h7v5h-7zM1174 343h7v5h-7zM1187 343h13v5h-13zM847 338h7v5h-7zM1072 333h38v5h-38zM1181 333h12v5h-12zM1200 333h13v5h-13zM854 327h6v6h-6zM1046 327h6v6h-6zM1149 327h12v6h-12zM1238 327h7v6h-7zM1367 327h6v6h-6zM905 322h13v5h-13zM1027 322h6v5h-6zM1065 322h7v5h-7zM1142 322h7v5h-7zM1181 322h6v5h-6zM1213 322h6v5h-6zM1367 322h6v5h-6zM847 317h13v5h-13zM879 317h7v5h-7zM899 317h25v5h-25zM1251 317h7v5h-7zM1264 317h6v5h-6zM1283 317h7v5h-7zM1302 317h7v5h-7zM1328 317h6v5h-6zM1392 317h13v5h-13zM847 312h7v5h-7zM879 312h7v5h-7zM899 312h25v5h-25zM1014 312h6v5h-6zM1219 312h6v5h-6zM1264 312h6v5h-6zM1277 312h13v5h-13zM1302 312h7v5h-7zM1328 312h6v5h-6zM1354 312h6v5h-6zM1367 312h6v5h-6zM1399 312h6v5h-6zM879 306h7v6h-7zM899 306h25v6h-25zM969 306h6v6h-6zM1219 306h6v6h-6zM1232 306h6v6h-6zM1277 306h13v6h-13zM1328 306h6v6h-6zM1347 306h13v6h-13zM1399 306h6v6h-6zM879 301h20v5h-20zM905 301h19v5h-19zM963 301h12v5h-12zM1219 301h6v5h-6zM1232 301h6v5h-6zM1245 301h6v5h-6zM1277 301h6v5h-6zM1302 301h7v5h-7zM1315 301h7v5h-7zM1347 301h20v5h-20zM1386 301h6v5h-6zM879 296h20v5h-20zM905 296h13v5h-13zM963 296h12v5h-12zM1008 296h6v5h-6zM1219 296h6v5h-6zM1238 296h13v5h-13zM1277 296h6v5h-6zM1302 296h7v5h-7zM1315 296h7v5h-7zM1347 296h20v5h-20zM1386 296h6v5h-6zM828 291h6v5h-6zM892 291h7v5h-7zM950 291h6v5h-6zM963 291h12v5h-12zM1219 291h6v5h-6zM1238 291h13v5h-13zM1277 291h6v5h-6zM1302 291h7v5h-7zM1315 291h7v5h-7zM1334 291h7v5h-7zM1347 291h13v5h-13zM828 286h6v5h-6zM892 286h7v5h-7zM950 286h13v5h-13zM969 286h13v5h-13zM1238 286h13v5h-13zM1315 286h7v5h-7zM1334 286h7v5h-7zM1347 286h7v5h-7zM1360 286h13v5h-13zM1386 286h6v5h-6zM828 280h6v6h-6zM892 280h7v6h-7zM950 280h13v6h-13zM969 280h6v6h-6zM1014 280h6v6h-6zM1238 280h13v6h-13zM1258 280h6v6h-6zM1270 280h7v6h-7zM1315 280h7v6h-7zM1347 280h7v6h-7zM1360 280h13v6h-13zM1386 280h6v6h-6zM892 275h7v5h-7zM950 275h19v5h-19zM982 275h6v5h-6zM1001 275h7v5h-7zM1258 275h6v5h-6zM1270 275h7v5h-7zM1296 275h6v5h-6zM1315 275h7v5h-7zM1334 275h7v5h-7zM1347 275h7v5h-7zM1360 275h7v5h-7zM1373 275h19v5h-19zM828 270h6v5h-6zM886 270h6v5h-6zM950 270h13v5h-13zM982 270h6v5h-6zM1001 270h7v5h-7zM1258 270h6v5h-6zM1270 270h7v5h-7zM1322 270h6v5h-6zM1373 270h13v5h-13zM828 265h6v5h-6zM886 265h6v5h-6zM924 265h7v5h-7zM956 265h7v5h-7zM982 265h13v5h-13zM1001 265h7v5h-7zM1258 265h6v5h-6zM1270 265h7v5h-7zM1290 265h6v5h-6zM1322 265h6v5h-6zM1373 265h6v5h-6zM828 259h6v6h-6zM860 259h13v6h-13zM924 259h13v6h-13zM956 259h7v6h-7zM982 259h6v6h-6zM1001 259h7v6h-7zM1258 259h6v6h-6zM1270 259h7v6h-7zM1290 259h6v6h-6zM1309 259h6v6h-6zM1322 259h6v6h-6zM1373 259h6v6h-6zM847 254h7v5h-7zM860 254h13v5h-13zM924 254h13v5h-13zM975 254h13v5h-13zM1001 254h7v5h-7zM1258 254h6v5h-6zM1270 254h7v5h-7zM1290 254h6v5h-6zM1309 254h6v5h-6zM1322 254h6v5h-6zM1373 254h6v5h-6zM847 249h7v5h-7zM860 249h13v5h-13zM931 249h6v5h-6zM982 249h6v5h-6zM1001 249h7v5h-7zM1251 249h7v5h-7zM1270 249h7v5h-7zM1309 249h6v5h-6zM1322 249h6v5h-6zM1373 249h6v5h-6zM1392 249h7v5h-7zM847 244h26v5h-26zM924 244h13v5h-13zM1232 244h6v5h-6zM1251 244h7v5h-7zM1264 244h13v5h-13zM1290 244h12v5h-12zM1322 244h6v5h-6zM847 239h13v5h-13zM866 239h7v5h-7zM899 239h6v5h-6zM918 239h6v5h-6zM931 239h6v5h-6zM1232 239h6v5h-6zM1251 239h7v5h-7zM1264 239h6v5h-6zM1283 239h13v5h-13zM1322 239h6v5h-6zM1392 239h7v5h-7zM854 233h6v6h-6zM899 233h6v6h-6zM918 233h6v6h-6zM931 233h6v6h-6zM1251 233h7v6h-7zM1264 233h6v6h-6zM1283 233h13v6h-13zM1328 233h6v6h-6zM1341 233h6v6h-6zM1392 233h7v6h-7zM847 228h13v5h-13zM879 228h7v5h-7zM899 228h25v5h-25zM1251 228h7v5h-7zM1264 228h6v5h-6zM1283 228h7v5h-7zM1302 228h13v5h-13zM1328 228h6v5h-6zM1392 228h13v5h-13zM847 223h13v5h-13zM879 223h7v5h-7zM899 223h25v5h-25zM1251 223h7v5h-7zM1264 223h6v5h-6zM1277 223h6v5h-6zM1302 223h7v5h-7zM1328 223h6v5h-6zM1392 223h13v5h-13zM847 218h7v5h-7zM879 218h7v5h-7zM899 218h25v5h-25zM963 218h6v5h-6zM1014 218h6v5h-6zM1219 218h6v5h-6zM1264 218h6v5h-6zM1277 218h13v5h-13zM1302 218h7v5h-7zM1328 218h6v5h-6zM1347 218h13v5h-13zM1367 218h6v5h-6zM1399 218h6v5h-6zM879 212h7v6h-7zM892 212h32v6h-32zM963 212h12v6h-12zM1008 212h6v6h-6zM1219 212h6v6h-6zM1232 212h6v6h-6zM1245 212h6v6h-6zM1277 212h13v6h-13zM1302 212h7v6h-7zM1328 212h6v6h-6zM1347 212h13v6h-13zM1367 212h6v6h-6zM1386 212h6v6h-6zM1399 212h6v6h-6zM879 207h20v5h-20zM905 207h19v5h-19zM963 207h12v5h-12zM1008 207h6v5h-6zM1219 207h6v5h-6zM1232 207h6v5h-6zM1245 207h6v5h-6zM1277 207h6v5h-6zM1302 207h7v5h-7zM1315 207h7v5h-7zM1328 207h6v5h-6zM1347 207h26v5h-26zM1386 207h6v5h-6zM879 202h7v5h-7zM892 202h7v5h-7zM905 202h13v5h-13zM950 202h6v5h-6zM963 202h12v5h-12zM1219 202h6v5h-6zM1238 202h13v5h-13zM1277 202h6v5h-6zM1302 202h7v5h-7zM1315 202h7v5h-7zM1334 202h7v5h-7zM1347 202h20v5h-20zM1386 202h6v5h-6zM828 197h6v5h-6zM892 197h7v5h-7zM950 197h32v5h-32zM1219 197h6v5h-6zM1238 197h13v5h-13zM1277 197h6v5h-6zM1302 197h7v5h-7zM1315 197h7v5h-7zM1347 197h26v5h-26zM1386 197h6v5h-6zM828 192h6v5h-6zM892 192h7v5h-7zM950 192h32v5h-32zM988 192h7v5h-7zM1238 192h13v5h-13zM1277 192h6v5h-6zM1315 192h7v5h-7zM1334 192h7v5h-7zM1347 192h20v5h-20zM1386 192h6v5h-6zM828 186h6v6h-6zM892 186h7v6h-7zM950 186h13v6h-13zM969 186h13v6h-13zM1001 186h7v6h-7zM1014 186h6v6h-6zM1238 186h13v6h-13zM1315 186h7v6h-7zM1347 186h7v6h-7zM1360 186h13v6h-13zM1386 186h6v6h-6zM950 181h13v5h-13zM988 181h7v5h-7zM1001 181h7v5h-7zM1258 181h6v5h-6zM1270 181h7v5h-7zM1315 181h7v5h-7zM1360 181h7v5h-7zM1373 181h6v5h-6zM828 176h6v5h-6zM886 176h6v5h-6zM924 176h7v5h-7zM950 176h13v5h-13zM982 176h13v5h-13zM1258 176h6v5h-6zM1270 176h7v5h-7zM1290 176h12v5h-12zM1315 176h13v5h-13zM1373 176h6v5h-6zM828 171h6v5h-6zM886 171h6v5h-6zM924 171h7v5h-7zM937 171h6v5h-6zM956 171h7v5h-7zM982 171h6v5h-6zM1001 171h7v5h-7zM1258 171h6v5h-6zM1270 171h7v5h-7zM1290 171h6v5h-6zM1322 171h6v5h-6zM1334 171h7v5h-7zM1373 171h6v5h-6zM828 165h6v6h-6zM924 165h13v6h-13zM956 165h7v6h-7zM975 165h13v6h-13zM1001 165h7v6h-7zM1258 165h6v6h-6zM1270 165h7v6h-7zM1290 165h6v6h-6zM1309 165h6v6h-6zM1322 165h6v6h-6zM1014 160h6v5h-6zM1238 160h7v5h-7zM963 155h6v5h-6zM982 155h6v5h-6zM1027 155h32v5h-32zM1142 155h32v5h-32zM1341 155h6v5h-6zM1379 150h7v5h-7zM1033 145h13v5h-13zM1110 145h13v5h-13zM1149 145h12v5h-12zM1008 139h6v6h-6zM1046 139h26v6h-26zM1161 139h26v6h-26zM1213 139h6v6h-6zM1334 139h7v6h-7zM1040 134h32v5h-32zM1149 134h38v5h-38zM1283 134h7v5h-7zM1020 129h7v5h-7zM1104 129h38v5h-38zM1065 124h39v5h-39zM1187 124h26v5h-26zM1020 118h13v6h-13zM1110 118h39v6h-39zM1386 118h6v6h-6zM1065 113h51v5h-51zM1187 113h26v5h-26zM854 108h6v5h-6zM1027 108h32v5h-32zM1136 108h45v5h-45zM1399 108h6v5h-6zM854 103h6v5h-6zM1020 103h20v5h-20zM1116 103h20v5h-20zM1142 103h13v5h-13zM1245 103h6v5h-6zM1084 98h20v5h-20zM1110 98h19v5h-19zM1193 98h20v5h-20zM847 92h7v6h-7zM1072 92h6v6h-6zM1110 92h6v6h-6zM1193 92h7v6h-7zM1347 92h7v6h-7zM1373 92h6v6h-6zM969 87h6v5h-6zM1020 87h13v5h-13zM1040 87h19v5h-19zM1129 87h45v5h-45zM956 82h7v5h-7zM1091 82h19v5h-19zM1129 82h7v5h-7zM1206 82h7v5h-7zM1347 82h7v5h-7zM1040 77h38v5h-38zM1155 77h45v5h-45zM1399 77h6v5h-6zM866 71h7v6h-7zM969 71h6v6h-6zM1078 71h45v6h-45zM1193 71h20v6h-20zM1334 71h7v6h-7zM950 66h6v5h-6zM1020 66h20v5h-20zM1123 66h38v5h-38zM892 61h7v5h-7zM1052 61h13v5h-13zM1072 61h6v5h-6zM1161 61h7v5h-7zM1174 61h7v5h-7zM1200 61h6v5h-6zM1238 61h7v5h-7zM1322 61h6v5h-6zM931 56h6v5h-6zM1123 56h6v5h-6zM1219 56h6v5h-6zM963 51h6v5h-6zM1033 51h45v5h-45zM1142 51h45v5h-45zM1296 51h6v5h-6zM1309 51h6v5h-6zM847 45h7v6h-7zM1027 45h32v6h-32zM1142 45h39v6h-39zM1040 40h12v5h-12zM1059 40h19v5h-19zM1155 40h38v5h-38zM841 35h6v5h-6zM911 35h7v5h-7zM1008 35h12v5h-12zM1027 35h6v5h-6zM1059 35h13v5h-13zM1142 35h19v5h-19zM1168 35h6v5h-6zM1181 35h6v5h-6zM1373 35h6v5h-6zM1072 30h38v5h-38zM1187 30h19v5h-19zM1296 30h6v5h-6zM1367 30h6v5h-6zM847 24h7v6h-7zM1072 24h12v6h-12zM1225 24h7v6h-7zM879 19h7v5h-7zM1040 19h12v5h-12zM1059 19h19v5h-19zM1149 19h38v5h-38zM1264 19h6v5h-6zM854 14h6v5h-6zM866 14h7v5h-7zM1020 14h7v5h-7zM1104 14h6v5h-6zM1116 14h26v5h-26zM956 9h13v5h-13zM1020 9h20v5h-20zM1129 9h26v5h-26zM1277 9h6v5h-6zM1315 9h7v5h-7z"/>
<path fill="#08b5d0" d="M1065 427h7v5h-7zM886 280h6v6h-6z"/>
<path fill="#18addb" d="M1052 317h7v5h-7zM1104 317h6v5h-6zM1168 317h6v5h-6zM1059 312h6v5h-6zM1110 312h6v5h-6zM1174 312h7v5h-7zM1065 306h7v6h-7zM1116 306h7v6h-7zM1181 306h6v6h-6zM1072 301h6v5h-6zM1123 301h6v5h-6zM1187 301h6v5h-6zM1078 296h6v5h-6zM1129 296h7v5h-7zM1193 296h7v5h-7zM1020 291h7v5h-7zM1084 291h7v5h-7zM1136 291h6v5h-6zM1200 291h6v5h-6zM1027 286h6v5h-6zM1091 286h6v5h-6zM1142 286h7v5h-7zM1206 286h7v5h-7zM1033 280h7v6h-7zM1097 280h7v6h-7zM1149 280h6v6h-6zM1040 275h6v5h-6zM1104 275h6v5h-6zM1155 275h6v5h-6zM1046 270h6v5h-6zM1110 270h6v5h-6zM1161 270h7v5h-7zM1052 265h7v5h-7zM1116 265h7v5h-7zM1168 265h6v5h-6zM1059 259h6v6h-6zM1123 259h6v6h-6zM1174 259h7v6h-7zM1065 254h7v5h-7zM1129 254h7v5h-7zM1181 254h6v5h-6zM1020 249h7v5h-7zM1072 249h6v5h-6zM1136 249h6v5h-6zM1187 249h6v5h-6zM1027 244h6v5h-6zM1078 244h6v5h-6zM1142 244h7v5h-7zM1193 244h7v5h-7zM1033 239h7v5h-7zM1084 239h7v5h-7zM1149 239h6v5h-6zM1200 239h6v5h-6zM1040 233h6v6h-6zM1091 233h6v6h-6zM1155 233h6v6h-6zM1206 233h7v6h-7zM1046 228h6v5h-6zM1097 228h7v5h-7zM1161 228h7v5h-7zM1052 223h7v5h-7zM1104 223h6v5h-6zM1168 223h6v5h-6zM1059 218h6v5h-6zM1110 218h6v5h-6zM1174 218h7v5h-7zM1065 212h7v6h-7zM1116 212h7v6h-7zM1181 212h6v6h-6zM1072 207h6v5h-6zM1123 207h6v5h-6zM1187 207h6v5h-6zM1078 202h6v5h-6zM1129 202h7v5h-7zM1193 202h7v5h-7zM1020 197h7v5h-7zM1084 197h7v5h-7zM1136 197h6v5h-6zM1200 197h6v5h-6zM1027 192h6v5h-6zM1091 192h6v5h-6zM1142 192h7v5h-7zM1206 192h7v5h-7zM1033 186h7v6h-7zM1097 186h7v6h-7zM1149 186h6v6h-6zM1040 181h6v5h-6zM1104 181h6v5h-6zM1155 181h6v5h-6zM1046 176h6v5h-6zM1110 176h6v5h-6zM1161 176h7v5h-7zM1052 171h7v5h-7zM1116 171h7v5h-7zM1168 171h6v5h-6zM1059 165h6v6h-6zM1123 165h6v6h-6zM1174 165h7v6h-7z"/>
<path fill="#19bfb6" d="M834 474h13v5h-13zM899 474h6v5h-6zM924 474h26v5h-26zM963 474h6v5h-6zM1014 474h6v5h-6zM1027 474h13v5h-13zM1110 474h13v5h-13zM1142 474h13v5h-13zM1213 474h12v5h-12zM1245 474h6v5h-6zM1258 474h6v5h-6zM1322 474h6v5h-6zM1354 474h6v5h-6zM828 468h6v6h-6zM854 468h12v6h-12zM873 468h13v6h-13zM963 468h6v6h-6zM982 468h6v6h-6zM1001 468h7v6h-7zM1116 468h7v6h-7zM1238 468h7v6h-7zM1283 468h7v6h-7zM1309 468h13v6h-13zM1367 468h6v6h-6zM1379 468h13v6h-13zM828 463h6v5h-6zM847 463h13v5h-13zM873 463h6v5h-6zM886 463h19v5h-19zM937 463h13v5h-13zM963 463h12v5h-12zM1168 463h13v5h-13zM1219 463h6v5h-6zM1245 463h6v5h-6zM1258 463h6v5h-6zM1277 463h6v5h-6zM1290 463h6v5h-6zM1315 463h7v5h-7zM1328 463h13v5h-13zM1354 463h13v5h-13zM841 458h6v5h-6zM899 458h6v5h-6zM924 458h7v5h-7zM950 458h13v5h-13zM982 458h6v5h-6zM1008 458h6v5h-6zM1040 458h12v5h-12zM1078 458h13v5h-13zM1155 458h19v5h-19zM1193 458h13v5h-13zM1225 458h13v5h-13zM1245 458h19v5h-19zM1277 458h6v5h-6zM1328 458h6v5h-6zM1347 458h7v5h-7zM1392 458h7v5h-7zM834 453h13v5h-13zM860 453h6v5h-6zM873 453h6v5h-6zM892 453h19v5h-19zM931 453h6v5h-6zM963 453h6v5h-6zM995 453h6v5h-6zM1052 453h32v5h-32zM1168 453h25v5h-25zM1206 453h7v5h-7zM1225 453h7v5h-7zM1264 453h13v5h-13zM1296 453h6v5h-6zM1309 453h6v5h-6zM1322 453h6v5h-6zM1347 453h7v5h-7zM1373 453h6v5h-6zM1386 453h6v5h-6zM1399 453h6v5h-6zM834 447h7v6h-7zM854 447h6v6h-6zM969 447h13v6h-13zM995 447h6v6h-6zM1014 447h6v6h-6zM1040 447h6v6h-6zM1052 447h7v6h-7zM1149 447h6v6h-6zM1161 447h13v6h-13zM1213 447h6v6h-6zM1245 447h6v6h-6zM1270 447h7v6h-7zM1283 447h7v6h-7zM1309 447h25v6h-25zM1341 447h13v6h-13zM1367 447h6v6h-6zM1392 447h7v6h-7zM886 442h13v5h-13zM937 442h6v5h-6zM1040 442h44v5h-44zM1149 442h38v5h-38zM1219 442h6v5h-6zM1251 442h13v5h-13zM1283 442h7v5h-7zM1302 442h7v5h-7zM1328 442h13v5h-13zM1373 442h6v5h-6zM1399 442h6v5h-6zM834 437h13v5h-13zM854 437h6v5h-6zM892 437h7v5h-7zM905 437h19v5h-19zM950 437h6v5h-6zM963 437h12v5h-12zM1078 437h13v5h-13zM1187 437h6v5h-6zM1232 437h6v5h-6zM1277 437h13v5h-13zM1296 437h13v5h-13zM1354 437h6v5h-6zM1392 437h7v5h-7zM834 432h7v5h-7zM892 432h7v5h-7zM918 432h6v5h-6zM931 432h6v5h-6zM943 432h7v5h-7zM969 432h6v5h-6zM982 432h13v5h-13zM1072 432h19v5h-19zM1097 432h13v5h-13zM1181 432h19v5h-19zM1213 432h6v5h-6zM1238 432h7v5h-7zM1258 432h6v5h-6zM1277 432h6v5h-6zM1296 432h6v5h-6zM1309 432h6v5h-6zM1322 432h6v5h-6zM1367 432h6v5h-6zM1392 432h7v5h-7zM841 427h6v5h-6zM866 427h7v5h-7zM905 427h6v5h-6zM918 427h6v5h-6zM950 427h6v5h-6zM969 427h6v5h-6zM982 427h26v5h-26zM1014 427h19v5h-19zM1097 427h7v5h-7zM1136 427h13v5h-13zM1213 427h12v5h-12zM1245 427h6v5h-6zM1302 427h13v5h-13zM1322 427h6v5h-6zM1367 427h6v5h-6zM1392 427h7v5h-7zM841 421h6v6h-6zM854 421h6v6h-6zM866 421h20v6h-20zM899 421h12v6h-12zM943 421h7v6h-7zM956 421h13v6h-13zM1001 421h7v6h-7zM1014 421h13v6h-13zM1097 421h45v6h-45zM1206 421h7v6h-7zM1219 421h6v6h-6zM1232 421h13v6h-13zM1283 421h7v6h-7zM1347 421h7v6h-7zM828 416h6v5h-6zM841 416h19v5h-19zM892 416h7v5h-7zM905 416h6v5h-6zM918 416h6v5h-6zM931 416h6v5h-6zM950 416h19v5h-19zM975 416h13v5h-13zM1008 416h6v5h-6zM1052 416h26v5h-26zM1084 416h20v5h-20zM1174 416h39v5h-39zM1238 416h7v5h-7zM1264 416h6v5h-6zM1302 416h7v5h-7zM1315 416h7v5h-7zM1328 416h6v5h-6zM1354 416h6v5h-6zM854 411h6v5h-6zM873 411h6v5h-6zM886 411h19v5h-19zM918 411h6v5h-6zM1001 411h7v5h-7zM1065 411h45v5h-45zM1187 411h26v5h-26zM1219 411h6v5h-6zM1238 411h7v5h-7zM1264 411h19v5h-19zM1322 411h6v5h-6zM1360 411h7v5h-7zM1373 411h19v5h-19zM1399 411h6v5h-6zM873 406h6v5h-6zM924 406h7v5h-7zM963 406h6v5h-6zM982 406h6v5h-6zM1001 406h7v5h-7zM1065 406h45v5h-45zM1181 406h32v5h-32zM1238 406h7v5h-7zM1251 406h13v5h-13zM1283 406h7v5h-7zM1296 406h13v5h-13zM1360 406h7v5h-7zM1386 406h13v5h-13zM873 400h19v6h-19zM899 400h12v6h-12zM924 400h7v6h-7zM963 400h12v6h-12zM1059 400h45v6h-45zM1174 400h39v6h-39zM1232 400h6v6h-6zM1251 400h7v6h-7zM1283 400h7v6h-7zM1296 400h6v6h-6zM1341 400h6v6h-6zM1354 400h13v6h-13zM1373 400h6v6h-6zM1399 400h6v6h-6zM828 395h6v5h-6zM847 395h7v5h-7zM911 395h13v5h-13zM950 395h13v5h-13zM1014 395h45v5h-45zM1136 395h38v5h-38zM1213 395h6v5h-6zM1225 395h13v5h-13zM1264 395h6v5h-6zM1277 395h13v5h-13zM1302 395h7v5h-7zM1347 395h7v5h-7zM1379 395h13v5h-13zM1399 395h6v5h-6zM828 390h6v5h-6zM854 390h6v5h-6zM879 390h7v5h-7zM899 390h6v5h-6zM937 390h6v5h-6zM963 390h6v5h-6zM988 390h7v5h-7zM1001 390h7v5h-7zM1033 390h39v5h-39zM1142 390h51v5h-51zM1245 390h6v5h-6zM1258 390h6v5h-6zM1315 390h7v5h-7zM1328 390h6v5h-6zM1347 390h7v5h-7zM1367 390h12v5h-12zM1399 390h6v5h-6zM828 385h6v5h-6zM841 385h6v5h-6zM866 385h7v5h-7zM931 385h6v5h-6zM963 385h12v5h-12zM1014 385h13v5h-13zM1040 385h6v5h-6zM1136 385h13v5h-13zM1155 385h6v5h-6zM1213 385h32v5h-32zM1270 385h7v5h-7zM1302 385h7v5h-7zM1328 385h6v5h-6zM1360 385h7v5h-7zM1379 385h7v5h-7zM828 380h6v5h-6zM841 380h6v5h-6zM879 380h7v5h-7zM892 380h7v5h-7zM956 380h7v5h-7zM988 380h7v5h-7zM1008 380h6v5h-6zM1046 380h13v5h-13zM1065 380h7v5h-7zM1168 380h6v5h-6zM1187 380h6v5h-6zM1219 380h6v5h-6zM1328 380h19v5h-19zM1360 380h13v5h-13zM1392 380h13v5h-13zM847 374h7v6h-7zM873 374h6v6h-6zM886 374h6v6h-6zM899 374h6v6h-6zM924 374h7v6h-7zM963 374h6v6h-6zM975 374h7v6h-7zM995 374h6v6h-6zM1014 374h13v6h-13zM1097 374h52v6h-52zM1213 374h12v6h-12zM1232 374h6v6h-6zM1270 374h7v6h-7zM1315 374h13v6h-13zM1334 374h7v6h-7zM1386 374h13v6h-13zM847 369h7v5h-7zM892 369h13v5h-13zM924 369h7v5h-7zM943 369h7v5h-7zM963 369h6v5h-6zM975 369h7v5h-7zM988 369h7v5h-7zM1027 369h19v5h-19zM1110 369h13v5h-13zM1129 369h7v5h-7zM1142 369h19v5h-19zM1219 369h6v5h-6zM1251 369h7v5h-7zM1277 369h6v5h-6zM1290 369h6v5h-6zM1328 369h6v5h-6zM1367 369h12v5h-12zM828 364h19v5h-19zM854 364h6v5h-6zM873 364h6v5h-6zM892 364h13v5h-13zM911 364h13v5h-13zM931 364h12v5h-12zM950 364h13v5h-13zM1014 364h6v5h-6zM1091 364h32v5h-32zM1206 364h7v5h-7zM1225 364h7v5h-7zM1302 364h13v5h-13zM1328 364h19v5h-19zM1367 364h6v5h-6zM1386 364h13v5h-13zM841 359h6v5h-6zM860 359h6v5h-6zM873 359h19v5h-19zM918 359h6v5h-6zM937 359h6v5h-6zM982 359h6v5h-6zM995 359h6v5h-6zM1091 359h32v5h-32zM1129 359h7v5h-7zM1200 359h13v5h-13zM1225 359h13v5h-13zM1245 359h6v5h-6zM1277 359h19v5h-19zM1309 359h6v5h-6zM1334 359h13v5h-13zM1354 359h6v5h-6zM1392 359h7v5h-7zM860 353h6v6h-6zM899 353h6v6h-6zM950 353h13v6h-13zM988 353h13v6h-13zM1014 353h6v6h-6zM1040 353h6v6h-6zM1110 353h6v6h-6zM1123 353h6v6h-6zM1149 353h12v6h-12zM1219 353h13v6h-13zM1245 353h6v6h-6zM1283 353h7v6h-7zM1309 353h32v6h-32zM1367 353h12v6h-12zM1392 353h7v6h-7zM834 348h7v5h-7zM847 348h7v5h-7zM879 348h13v5h-13zM899 348h6v5h-6zM911 348h7v5h-7zM969 348h6v5h-6zM1008 348h51v5h-51zM1129 348h45v5h-45zM1264 348h6v5h-6zM1277 348h6v5h-6zM1302 348h7v5h-7zM1315 348h7v5h-7zM1341 348h6v5h-6zM1360 348h7v5h-7zM1373 348h6v5h-6zM1392 348h13v5h-13zM879 343h13v5h-13zM931 343h6v5h-6zM943 343h7v5h-7zM956 343h7v5h-7zM975 343h7v5h-7zM1008 343h6v5h-6zM1020 343h13v5h-13zM1116 343h20v5h-20zM1219 343h6v5h-6zM1296 343h6v5h-6zM1315 343h7v5h-7zM1341 343h6v5h-6zM1354 343h6v5h-6zM1399 343h6v5h-6zM854 338h12v5h-12zM886 338h6v5h-6zM950 338h6v5h-6zM969 338h13v5h-13zM1065 338h7v5h-7zM1174 338h7v5h-7zM1187 338h6v5h-6zM1277 338h6v5h-6zM1341 338h6v5h-6zM834 333h7v5h-7zM886 333h13v5h-13zM905 333h13v5h-13zM931 333h6v5h-6zM1033 333h13v5h-13zM1116 333h39v5h-39zM1161 333h7v5h-7zM1232 333h6v5h-6zM1277 333h6v5h-6zM1302 333h7v5h-7zM1328 333h6v5h-6zM1360 333h13v5h-13zM1386 333h6v5h-6zM1399 333h6v5h-6zM847 327h7v6h-7zM899 327h6v6h-6zM943 327h7v6h-7zM982 327h13v6h-13zM1078 327h32v6h-32zM1206 327h7v6h-7zM1219 327h6v6h-6zM1251 327h13v6h-13zM1322 327h6v6h-6zM1334 327h20v6h-20zM1360 327h7v6h-7zM1386 327h13v6h-13zM828 322h6v5h-6zM860 322h6v5h-6zM886 322h13v5h-13zM924 322h7v5h-7zM937 322h6v5h-6zM950 322h6v5h-6zM963 322h6v5h-6zM975 322h13v5h-13zM1084 322h7v5h-7zM1123 322h13v5h-13zM1200 322h6v5h-6zM1219 322h13v5h-13zM1245 322h25v5h-25zM1277 322h6v5h-6zM1302 322h13v5h-13zM1328 322h6v5h-6zM1347 322h7v5h-7zM1392 322h7v5h-7zM886 317h13v5h-13zM924 317h7v5h-7zM937 317h6v5h-6zM950 317h6v5h-6zM982 317h13v5h-13zM1258 317h6v5h-6zM1270 317h7v5h-7zM1290 317h6v5h-6zM1322 317h6v5h-6zM1334 317h7v5h-7zM1360 317h7v5h-7zM828 312h6v5h-6zM886 312h6v5h-6zM924 312h7v5h-7zM956 312h7v5h-7zM982 312h13v5h-13zM1258 312h6v5h-6zM1270 312h7v5h-7zM1290 312h6v5h-6zM1322 312h6v5h-6zM828 306h6v6h-6zM924 306h13v6h-13zM956 306h7v6h-7zM982 306h6v6h-6zM1001 306h7v6h-7zM1258 306h6v6h-6zM1270 306h7v6h-7zM1290 306h6v6h-6zM1309 306h6v6h-6zM1322 306h6v6h-6zM1373 306h6v6h-6zM847 301h7v5h-7zM860 301h13v5h-13zM924 301h19v5h-19zM956 301h7v5h-7zM975 301h13v5h-13zM1001 301h7v5h-7zM1251 301h13v5h-13zM1270 301h7v5h-7zM1322 301h6v5h-6zM847 296h7v5h-7zM866 296h7v5h-7zM924 296h13v5h-13zM943 296h7v5h-7zM982 296h6v5h-6zM1251 296h7v5h-7zM1270 296h7v5h-7zM1322 296h6v5h-6zM1373 296h6v5h-6zM854 291h19v5h-19zM899 291h6v5h-6zM924 291h13v5h-13zM943 291h7v5h-7zM982 291h6v5h-6zM1225 291h7v5h-7zM1251 291h26v5h-26zM1283 291h19v5h-19zM1322 291h6v5h-6zM1373 291h6v5h-6zM1392 291h7v5h-7zM854 286h6v5h-6zM866 286h7v5h-7zM899 286h6v5h-6zM918 286h6v5h-6zM931 286h6v5h-6zM1251 286h7v5h-7zM1264 286h6v5h-6zM1283 286h13v5h-13zM1322 286h12v5h-12zM1392 286h7v5h-7zM854 280h6v6h-6zM866 280h7v6h-7zM899 280h25v6h-25zM931 280h6v6h-6zM943 280h7v6h-7zM995 280h6v6h-6zM1251 280h7v6h-7zM1264 280h6v6h-6zM1283 280h13v6h-13zM1328 280h6v6h-6zM1341 280h6v6h-6zM1392 280h7v6h-7zM854 275h6v5h-6zM866 275h7v5h-7zM879 275h7v5h-7zM899 275h25v5h-25zM1251 275h7v5h-7zM1264 275h6v5h-6zM1283 275h7v5h-7zM1302 275h7v5h-7zM1328 275h6v5h-6zM1341 275h6v5h-6zM1392 275h13v5h-13zM847 270h13v5h-13zM866 270h20v5h-20zM905 270h19v5h-19zM1008 270h6v5h-6zM1219 270h6v5h-6zM1251 270h7v5h-7zM1264 270h6v5h-6zM1283 270h7v5h-7zM1302 270h13v5h-13zM1328 270h6v5h-6zM1341 270h6v5h-6zM1392 270h13v5h-13zM847 265h7v5h-7zM873 265h13v5h-13zM899 265h25v5h-25zM1008 265h12v5h-12zM1219 265h6v5h-6zM1264 265h6v5h-6zM1277 265h13v5h-13zM1302 265h7v5h-7zM1347 265h7v5h-7zM1367 265h6v5h-6zM1392 265h13v5h-13zM899 259h25v6h-25zM963 259h12v6h-12zM1008 259h6v6h-6zM1219 259h6v6h-6zM1245 259h6v6h-6zM1264 259h6v6h-6zM1328 259h6v6h-6zM1347 259h26v6h-26zM1399 259h6v6h-6zM879 254h45v5h-45zM950 254h6v5h-6zM963 254h12v5h-12zM1008 254h6v5h-6zM1219 254h6v5h-6zM1238 254h13v5h-13zM1315 254h7v5h-7zM1328 254h6v5h-6zM1347 254h20v5h-20zM1386 254h6v5h-6zM1399 254h6v5h-6zM879 249h7v5h-7zM892 249h7v5h-7zM905 249h13v5h-13zM950 249h6v5h-6zM963 249h12v5h-12zM1008 249h6v5h-6zM1213 249h12v5h-12zM1238 249h13v5h-13zM1277 249h6v5h-6zM1302 249h7v5h-7zM1334 249h7v5h-7zM1354 249h13v5h-13zM1386 249h6v5h-6zM1399 249h6v5h-6zM828 244h6v5h-6zM892 244h7v5h-7zM950 244h32v5h-32zM1213 244h19v5h-19zM1238 244h13v5h-13zM1277 244h6v5h-6zM1302 244h7v5h-7zM1315 244h7v5h-7zM1334 244h7v5h-7zM1354 244h6v5h-6zM1386 244h6v5h-6zM828 239h13v5h-13zM892 239h7v5h-7zM950 239h25v5h-25zM988 239h7v5h-7zM1001 239h7v5h-7zM1213 239h12v5h-12zM1238 239h13v5h-13zM1277 239h6v5h-6zM1302 239h7v5h-7zM1334 239h7v5h-7zM1347 239h20v5h-20zM1386 239h6v5h-6zM892 233h7v6h-7zM950 233h6v6h-6zM975 233h7v6h-7zM988 233h7v6h-7zM1001 233h7v6h-7zM1014 233h6v6h-6zM1238 233h13v6h-13zM1296 233h6v6h-6zM1315 233h7v6h-7zM1334 233h7v6h-7zM1347 233h7v6h-7zM1367 233h12v6h-12zM1386 233h6v6h-6zM892 228h7v5h-7zM950 228h13v5h-13zM969 228h6v5h-6zM982 228h13v5h-13zM1001 228h7v5h-7zM1014 228h6v5h-6zM1238 228h13v5h-13zM1258 228h6v5h-6zM1270 228h7v5h-7zM1315 228h13v5h-13zM1347 228h7v5h-7zM1373 228h6v5h-6zM1386 228h6v5h-6zM886 223h13v5h-13zM924 223h7v5h-7zM937 223h6v5h-6zM950 223h6v5h-6zM982 223h6v5h-6zM1001 223h7v5h-7zM1225 223h7v5h-7zM1258 223h6v5h-6zM1270 223h7v5h-7zM1315 223h13v5h-13zM1334 223h7v5h-7zM1360 223h7v5h-7zM1373 223h6v5h-6zM828 218h6v5h-6zM886 218h6v5h-6zM924 218h19v5h-19zM950 218h13v5h-13zM982 218h6v5h-6zM1001 218h7v5h-7zM1225 218h7v5h-7zM1258 218h6v5h-6zM1270 218h7v5h-7zM1290 218h6v5h-6zM1322 218h6v5h-6zM1379 218h7v5h-7zM828 212h6v6h-6zM860 212h13v6h-13zM924 212h13v6h-13zM956 212h7v6h-7zM975 212h13v6h-13zM1001 212h7v6h-7zM1258 212h6v6h-6zM1270 212h7v6h-7zM1290 212h6v6h-6zM1309 212h6v6h-6zM1373 212h13v6h-13zM847 207h7v5h-7zM866 207h7v5h-7zM924 207h19v5h-19zM956 207h7v5h-7zM975 207h13v5h-13zM1258 207h6v5h-6zM1270 207h7v5h-7zM1290 207h6v5h-6zM1322 207h6v5h-6zM847 202h7v5h-7zM860 202h13v5h-13zM924 202h13v5h-13zM982 202h6v5h-6zM1001 202h7v5h-7zM1251 202h7v5h-7zM1270 202h7v5h-7zM1296 202h6v5h-6zM1322 202h6v5h-6zM1373 202h6v5h-6zM841 197h32v5h-32zM924 197h13v5h-13zM943 197h7v5h-7zM982 197h6v5h-6zM1251 197h7v5h-7zM1264 197h13v5h-13zM1290 197h12v5h-12zM1322 197h6v5h-6zM1392 197h7v5h-7zM841 192h6v5h-6zM854 192h6v5h-6zM866 192h7v5h-7zM899 192h6v5h-6zM918 192h6v5h-6zM931 192h6v5h-6zM995 192h6v5h-6zM1251 192h7v5h-7zM1264 192h6v5h-6zM1283 192h13v5h-13zM1341 192h6v5h-6zM1392 192h7v5h-7zM854 186h6v6h-6zM866 186h7v6h-7zM879 186h7v6h-7zM899 186h6v6h-6zM911 186h13v6h-13zM931 186h6v6h-6zM1251 186h7v6h-7zM1264 186h6v6h-6zM1290 186h6v6h-6zM1309 186h6v6h-6zM1328 186h6v6h-6zM1341 186h6v6h-6zM1392 186h13v6h-13zM854 181h6v5h-6zM873 181h13v5h-13zM899 181h25v5h-25zM931 181h6v5h-6zM943 181h7v5h-7zM995 181h6v5h-6zM1251 181h7v5h-7zM1264 181h6v5h-6zM1309 181h6v5h-6zM1328 181h6v5h-6zM1341 181h6v5h-6zM1392 181h13v5h-13zM847 176h7v5h-7zM879 176h7v5h-7zM899 176h25v5h-25zM1219 176h6v5h-6zM1251 176h7v5h-7zM1264 176h6v5h-6zM1277 176h13v5h-13zM1302 176h7v5h-7zM1328 176h6v5h-6zM1341 176h6v5h-6zM1354 176h6v5h-6zM1392 176h13v5h-13zM847 171h7v5h-7zM899 171h25v5h-25zM969 171h6v5h-6zM1014 171h6v5h-6zM1219 171h6v5h-6zM1245 171h13v5h-13zM1264 171h6v5h-6zM1277 171h13v5h-13zM1354 171h6v5h-6zM1367 171h6v5h-6zM1399 171h6v5h-6zM854 165h6v6h-6zM892 165h32v6h-32zM963 165h12v6h-12zM1008 165h6v6h-6zM1219 165h6v6h-6zM1245 165h6v6h-6zM1264 165h6v6h-6zM1277 165h13v6h-13zM1315 165h7v6h-7zM1328 165h6v6h-6zM1347 165h20v6h-20zM1399 165h6v6h-6zM828 160h6v5h-6zM860 160h6v5h-6zM879 160h13v5h-13zM924 160h7v5h-7zM937 160h6v5h-6zM950 160h6v5h-6zM1104 160h19v5h-19zM1251 160h7v5h-7zM1283 160h13v5h-13zM1334 160h7v5h-7zM1347 160h7v5h-7zM1360 160h13v5h-13zM1379 160h26v5h-26zM828 155h6v5h-6zM841 155h6v5h-6zM866 155h7v5h-7zM886 155h13v5h-13zM905 155h6v5h-6zM937 155h26v5h-26zM975 155h7v5h-7zM988 155h7v5h-7zM1008 155h12v5h-12zM1078 155h45v5h-45zM1193 155h20v5h-20zM1225 155h7v5h-7zM1258 155h6v5h-6zM1270 155h7v5h-7zM1322 155h6v5h-6zM1392 155h7v5h-7zM847 150h13v5h-13zM924 150h7v5h-7zM937 150h6v5h-6zM963 150h19v5h-19zM1014 150h6v5h-6zM1052 150h7v5h-7zM1110 150h6v5h-6zM1136 150h13v5h-13zM1219 150h6v5h-6zM1245 150h6v5h-6zM1258 150h6v5h-6zM1309 150h13v5h-13zM1328 150h6v5h-6zM1347 150h7v5h-7zM1367 150h12v5h-12zM847 145h7v5h-7zM873 145h6v5h-6zM892 145h7v5h-7zM918 145h13v5h-13zM937 145h6v5h-6zM950 145h6v5h-6zM969 145h6v5h-6zM1001 145h7v5h-7zM1251 145h7v5h-7zM1296 145h6v5h-6zM1309 145h6v5h-6zM1379 145h7v5h-7zM834 139h7v6h-7zM879 139h7v6h-7zM892 139h26v6h-26zM937 139h6v6h-6zM1097 139h39v6h-39zM1290 139h6v6h-6zM1302 139h7v6h-7zM1354 139h6v6h-6zM1367 139h6v6h-6zM828 134h6v5h-6zM841 134h13v5h-13zM860 134h6v5h-6zM886 134h6v5h-6zM931 134h6v5h-6zM969 134h13v5h-13zM1014 134h6v5h-6zM1091 134h45v5h-45zM1200 134h13v5h-13zM1225 134h7v5h-7zM1251 134h7v5h-7zM1264 134h13v5h-13zM1322 134h6v5h-6zM1347 134h13v5h-13zM1367 134h6v5h-6zM1379 134h7v5h-7zM1392 134h7v5h-7zM847 129h7v5h-7zM866 129h7v5h-7zM911 129h13v5h-13zM956 129h7v5h-7zM1008 129h12v5h-12zM1040 129h44v5h-44zM1161 129h45v5h-45zM1213 129h6v5h-6zM1232 129h6v5h-6zM1245 129h6v5h-6zM1270 129h7v5h-7zM1296 129h13v5h-13zM1341 129h6v5h-6zM1367 129h6v5h-6zM828 124h6v5h-6zM841 124h13v5h-13zM866 124h7v5h-7zM879 124h7v5h-7zM911 124h7v5h-7zM931 124h6v5h-6zM1008 124h38v5h-38zM1052 124h7v5h-7zM1129 124h32v5h-32zM1219 124h13v5h-13zM1264 124h13v5h-13zM1290 124h12v5h-12zM1322 124h6v5h-6zM1354 124h6v5h-6zM1367 124h12v5h-12zM1386 124h19v5h-19zM854 118h6v6h-6zM899 118h12v6h-12zM924 118h7v6h-7zM982 118h6v6h-6zM1014 118h6v6h-6zM1052 118h45v6h-45zM1168 118h45v6h-45zM1245 118h6v6h-6zM1258 118h6v6h-6zM1315 118h13v6h-13zM1354 118h6v6h-6zM1367 118h6v6h-6zM1399 118h6v6h-6zM854 113h12v5h-12zM905 113h6v5h-6zM937 113h6v5h-6zM950 113h6v5h-6zM1020 113h39v5h-39zM1129 113h45v5h-45zM1219 113h6v5h-6zM1245 113h19v5h-19zM1283 113h13v5h-13zM1315 113h7v5h-7zM1360 113h7v5h-7zM1399 113h6v5h-6zM841 108h13v5h-13zM873 108h13v5h-13zM905 108h6v5h-6zM924 108h7v5h-7zM956 108h7v5h-7zM969 108h6v5h-6zM982 108h6v5h-6zM995 108h13v5h-13zM1014 108h6v5h-6zM1084 108h7v5h-7zM1104 108h19v5h-19zM1193 108h20v5h-20zM1290 108h6v5h-6zM1328 108h13v5h-13zM1354 108h6v5h-6zM1379 108h7v5h-7zM834 103h7v5h-7zM860 103h19v5h-19zM892 103h7v5h-7zM911 103h20v5h-20zM969 103h13v5h-13zM1052 103h39v5h-39zM1174 103h7v5h-7zM1193 103h26v5h-26zM1270 103h7v5h-7zM1290 103h6v5h-6zM1302 103h13v5h-13zM1328 103h6v5h-6zM1354 103h13v5h-13zM1392 103h7v5h-7zM841 98h6v5h-6zM956 98h7v5h-7zM969 98h6v5h-6zM1020 98h20v5h-20zM1052 98h20v5h-20zM1142 98h19v5h-19zM1168 98h19v5h-19zM1213 98h6v5h-6zM1238 98h7v5h-7zM1258 98h6v5h-6zM1270 98h20v5h-20zM1302 98h26v5h-26zM1399 98h6v5h-6zM854 92h6v6h-6zM873 92h13v6h-13zM911 92h13v6h-13zM988 92h7v6h-7zM1052 92h7v6h-7zM1123 92h6v6h-6zM1161 92h13v6h-13zM1232 92h6v6h-6zM1251 92h13v6h-13zM1328 92h6v6h-6zM1367 92h6v6h-6zM866 87h13v5h-13zM886 87h6v5h-6zM899 87h6v5h-6zM911 87h7v5h-7zM924 87h7v5h-7zM937 87h6v5h-6zM963 87h6v5h-6zM982 87h6v5h-6zM1001 87h7v5h-7zM1014 87h6v5h-6zM1072 87h19v5h-19zM1104 87h19v5h-19zM1193 87h7v5h-7zM1238 87h7v5h-7zM1251 87h7v5h-7zM1283 87h13v5h-13zM1328 87h6v5h-6zM1347 87h7v5h-7zM1386 87h6v5h-6zM834 82h7v5h-7zM854 82h12v5h-12zM879 82h13v5h-13zM963 82h19v5h-19zM1014 82h6v5h-6zM1033 82h7v5h-7zM1078 82h6v5h-6zM1149 82h6v5h-6zM1181 82h12v5h-12zM1225 82h13v5h-13zM1283 82h13v5h-13zM1334 82h13v5h-13zM1354 82h6v5h-6zM1367 82h19v5h-19zM834 77h13v5h-13zM860 77h6v5h-6zM899 77h6v5h-6zM931 77h6v5h-6zM950 77h6v5h-6zM975 77h20v5h-20zM1097 77h7v5h-7zM1110 77h6v5h-6zM1123 77h19v5h-19zM1206 77h7v5h-7zM1225 77h7v5h-7zM1264 77h13v5h-13zM1290 77h6v5h-6zM1341 77h6v5h-6zM1379 77h13v5h-13zM828 71h6v6h-6zM854 71h12v6h-12zM879 71h13v6h-13zM905 71h6v6h-6zM950 71h6v6h-6zM975 71h7v6h-7zM1008 71h6v6h-6zM1020 71h45v6h-45zM1129 71h20v6h-20zM1155 71h19v6h-19zM1219 71h6v6h-6zM1245 71h6v6h-6zM1258 71h12v6h-12zM1290 71h6v6h-6zM1367 71h12v6h-12zM1386 71h6v6h-6zM841 66h13v5h-13zM860 66h13v5h-13zM899 66h6v5h-6zM931 66h19v5h-19zM956 66h13v5h-13zM975 66h7v5h-7zM1001 66h7v5h-7zM1014 66h6v5h-6zM1059 66h25v5h-25zM1091 66h13v5h-13zM1181 66h19v5h-19zM1206 66h7v5h-7zM1225 66h7v5h-7zM1277 66h13v5h-13zM1296 66h13v5h-13zM1334 66h7v5h-7zM1354 66h6v5h-6zM841 61h6v5h-6zM866 61h7v5h-7zM943 61h13v5h-13zM963 61h19v5h-19zM1008 61h6v5h-6zM1020 61h7v5h-7zM1104 61h25v5h-25zM1136 61h6v5h-6zM1213 61h6v5h-6zM1277 61h6v5h-6zM1309 61h6v5h-6zM1328 61h6v5h-6zM1341 61h6v5h-6zM1354 61h6v5h-6zM1379 61h7v5h-7zM1392 61h13v5h-13zM860 56h6v5h-6zM918 56h6v5h-6zM943 56h7v5h-7zM963 56h12v5h-12zM982 56h19v5h-19zM1008 56h6v5h-6zM1065 56h19v5h-19zM1174 56h26v5h-26zM1251 56h7v5h-7zM1309 56h13v5h-13zM1334 56h7v5h-7zM1347 56h7v5h-7zM1373 56h13v5h-13zM1399 56h6v5h-6zM847 51h19v5h-19zM892 51h7v5h-7zM924 51h13v5h-13zM1008 51h12v5h-12zM1084 51h20v5h-20zM1116 51h20v5h-20zM1206 51h13v5h-13zM1225 51h7v5h-7zM1245 51h6v5h-6zM1302 51h7v5h-7zM1341 51h6v5h-6zM1354 51h6v5h-6zM1373 51h6v5h-6zM1386 51h6v5h-6zM828 45h6v6h-6zM841 45h6v6h-6zM873 45h6v6h-6zM899 45h6v6h-6zM918 45h6v6h-6zM969 45h6v6h-6zM988 45h7v6h-7zM1091 45h32v6h-32zM1193 45h20v6h-20zM1238 45h13v6h-13zM1258 45h12v6h-12zM1277 45h13v6h-13zM1309 45h6v6h-6zM1328 45h13v6h-13zM1347 45h7v6h-7zM841 40h6v5h-6zM905 40h19v5h-19zM937 40h13v5h-13zM982 40h6v5h-6zM1001 40h13v5h-13zM1020 40h7v5h-7zM1091 40h19v5h-19zM1116 40h7v5h-7zM1136 40h6v5h-6zM1206 40h13v5h-13zM1270 40h7v5h-7zM1283 40h7v5h-7zM1379 40h7v5h-7zM1392 40h13v5h-13zM834 35h7v5h-7zM860 35h6v5h-6zM879 35h13v5h-13zM931 35h6v5h-6zM943 35h7v5h-7zM956 35h13v5h-13zM975 35h7v5h-7zM1001 35h7v5h-7zM1084 35h13v5h-13zM1123 35h6v5h-6zM1200 35h6v5h-6zM1213 35h6v5h-6zM1225 35h7v5h-7zM1238 35h32v5h-32zM1296 35h6v5h-6zM1309 35h6v5h-6zM1322 35h6v5h-6zM854 30h6v5h-6zM866 30h7v5h-7zM905 30h6v5h-6zM918 30h6v5h-6zM931 30h6v5h-6zM956 30h7v5h-7zM975 30h13v5h-13zM1033 30h7v5h-7zM1046 30h13v5h-13zM1123 30h19v5h-19zM1149 30h6v5h-6zM1161 30h7v5h-7zM1225 30h7v5h-7zM1258 30h6v5h-6zM1309 30h6v5h-6zM1322 30h6v5h-6zM1341 30h13v5h-13zM1386 30h6v5h-6zM1399 30h6v5h-6zM834 24h7v6h-7zM905 24h6v6h-6zM924 24h7v6h-7zM937 24h6v6h-6zM1142 24h13v6h-13zM1213 24h6v6h-6zM1232 24h6v6h-6zM1245 24h6v6h-6zM1277 24h6v6h-6zM1309 24h13v6h-13zM1334 24h13v6h-13zM1360 24h7v6h-7zM1399 24h6v6h-6zM834 19h7v5h-7zM854 19h6v5h-6zM905 19h13v5h-13zM924 19h7v5h-7zM950 19h6v5h-6zM963 19h6v5h-6zM1001 19h13v5h-13zM1097 19h39v5h-39zM1213 19h6v5h-6zM1258 19h6v5h-6zM1302 19h7v5h-7zM1315 19h13v5h-13zM1347 19h7v5h-7zM1373 19h6v5h-6zM847 14h7v5h-7zM860 14h6v5h-6zM873 14h19v5h-19zM911 14h7v5h-7zM943 14h13v5h-13zM963 14h25v5h-25zM1008 14h12v5h-12zM1052 14h39v5h-39zM1168 14h32v5h-32zM1213 14h12v5h-12zM1245 14h6v5h-6zM1258 14h6v5h-6zM1283 14h7v5h-7zM1334 14h7v5h-7zM1360 14h7v5h-7zM854 9h6v5h-6zM866 9h7v5h-7zM905 9h6v5h-6zM918 9h19v5h-19zM943 9h7v5h-7zM982 9h13v5h-13zM1001 9h7v5h-7zM1072 9h38v5h-38zM1181 9h38v5h-38zM1258 9h19v5h-19zM1290 9h6v5h-6zM1334 9h13v5h-13zM1360 9h7v5h-7zM1373 9h13v5h-13z"/>
<path fill="#24c1ae" d="M1020 474h7v5h-7zM1123 474h19v5h-19zM1052 458h26v5h-26zM1174 458h19v5h-19zM1091 432h6v5h-6zM1200 432h13v5h-13zM1104 427h6v5h-6zM1116 427h7v5h-7zM1129 427h7v5h-7zM1078 416h6v5h-6zM1020 369h7v5h-7zM1123 369h6v5h-6zM1136 369h6v5h-6zM995 364h6v5h-6zM1020 353h20v6h-20zM1116 353h7v6h-7zM1129 353h20v6h-20zM963 338h6v5h-6zM1020 333h13v5h-13zM1155 333h6v5h-6zM1091 322h32v5h-32zM1206 322h7v5h-7zM1238 322h7v5h-7zM828 317h6v5h-6zM956 317h7v5h-7zM975 317h7v5h-7zM1001 317h7v5h-7zM1296 317h6v5h-6zM1373 317h6v5h-6zM975 312h7v5h-7zM1001 312h7v5h-7zM1296 312h6v5h-6zM1373 312h6v5h-6zM975 306h7v6h-7zM1290 301h12v5h-12zM1309 301h6v5h-6zM1373 301h6v5h-6zM1290 296h12v5h-12zM1309 296h6v5h-6zM847 291h7v5h-7zM1309 291h6v5h-6zM847 286h7v5h-7zM1232 286h6v5h-6zM1309 286h6v5h-6zM847 280h7v6h-7zM1232 280h6v6h-6zM1309 280h6v6h-6zM847 275h7v5h-7zM1232 275h6v5h-6zM1309 275h6v5h-6zM899 270h6v5h-6zM1232 270h6v5h-6zM1232 265h6v5h-6zM1328 265h6v5h-6zM879 259h7v6h-7zM1014 259h6v6h-6zM1232 259h6v6h-6zM1277 259h6v6h-6zM1302 259h7v6h-7zM1014 254h6v5h-6zM1277 254h6v5h-6zM1302 254h7v5h-7zM1367 254h6v5h-6zM886 249h6v5h-6zM1014 249h6v5h-6zM1315 249h7v5h-7zM1347 249h7v5h-7zM1367 249h6v5h-6zM1014 244h6v5h-6zM1347 244h7v5h-7zM1360 244h13v5h-13zM886 239h6v5h-6zM975 239h7v5h-7zM1014 239h6v5h-6zM1315 239h7v5h-7zM1367 239h6v5h-6zM828 233h6v6h-6zM956 233h7v6h-7zM1360 233h7v6h-7zM828 228h6v5h-6zM886 228h6v5h-6zM975 228h7v5h-7zM1296 228h6v5h-6zM828 223h6v5h-6zM956 223h7v5h-7zM975 223h7v5h-7zM1296 223h6v5h-6zM975 218h7v5h-7zM1296 218h6v5h-6zM1373 218h6v5h-6zM1296 212h6v6h-6zM1322 212h6v6h-6zM1001 207h7v5h-7zM1296 207h6v5h-6zM1309 207h6v5h-6zM1373 207h6v5h-6zM1290 202h6v5h-6zM1309 202h6v5h-6zM1309 197h6v5h-6zM847 192h7v5h-7zM1232 192h6v5h-6zM1309 192h6v5h-6zM847 186h7v6h-7zM1232 186h6v6h-6zM1283 186h7v6h-7zM847 181h7v5h-7zM1232 181h6v5h-6zM1283 181h7v5h-7zM1232 176h6v5h-6zM879 171h7v5h-7zM1232 171h6v5h-6zM1302 171h7v5h-7zM1328 171h6v5h-6zM879 165h7v6h-7zM1014 165h6v6h-6zM1232 165h6v6h-6zM1302 165h7v6h-7zM1367 165h6v6h-6zM1059 145h38v5h-38zM1174 145h39v5h-39zM1341 145h6v5h-6zM1014 139h6v6h-6zM1091 108h13v5h-13zM1181 103h12v5h-12zM1040 98h12v5h-12zM1161 98h7v5h-7zM1020 92h13v6h-13zM1040 92h12v6h-12zM1129 92h32v6h-32zM1091 87h13v5h-13zM1200 87h13v5h-13zM1040 82h38v5h-38zM1155 82h26v5h-26zM1104 77h6v5h-6zM1116 77h7v5h-7zM1149 71h6v6h-6zM1084 66h7v5h-7zM1200 66h6v5h-6zM1232 56h6v5h-6zM1104 51h12v5h-12zM1110 40h6v5h-6zM1123 40h6v5h-6zM1097 35h26v5h-26zM1206 35h7v5h-7zM1020 30h13v5h-13zM1040 30h6v5h-6zM1142 30h7v5h-7zM1155 30h6v5h-6z"/>
<path fill="#2cc4a7" d="M1110 427h6v5h-6zM1123 427h6v5h-6zM1296 306h6v6h-6zM886 244h6v5h-6zM886 233h6v6h-6zM1033 92h7v6h-7z"/>
<path fill="#3875fe" d="M1059 317h6v5h-6zM1097 317h7v5h-7zM1174 317h7v5h-7zM1065 312h7v5h-7zM1104 312h6v5h-6zM1181 312h6v5h-6zM1072 306h6v6h-6zM1110 306h6v6h-6zM1187 306h6v6h-6zM1078 301h6v5h-6zM1116 301h7v5h-7zM1193 301h7v5h-7zM1084 296h7v5h-7zM1123 296h6v5h-6zM1200 296h6v5h-6zM1091 291h6v5h-6zM1129 291h7v5h-7zM1206 291h7v5h-7zM1020 286h7v5h-7zM1097 286h7v5h-7zM1136 286h6v5h-6zM1027 280h6v6h-6zM1104 280h6v6h-6zM1142 280h7v6h-7zM1033 275h7v5h-7zM1110 275h6v5h-6zM1149 275h6v5h-6zM1040 270h6v5h-6zM1116 270h7v5h-7zM1155 270h6v5h-6zM1046 265h6v5h-6zM1123 265h6v5h-6zM1161 265h7v5h-7zM1052 259h7v6h-7zM1129 259h7v6h-7zM1168 259h6v6h-6zM1020 254h7v5h-7zM1059 254h6v5h-6zM1136 254h6v5h-6zM1174 254h7v5h-7zM1027 249h6v5h-6zM1065 249h7v5h-7zM1142 249h7v5h-7zM1181 249h6v5h-6zM1033 244h7v5h-7zM1072 244h6v5h-6zM1149 244h6v5h-6zM1187 244h6v5h-6zM1040 239h6v5h-6zM1078 239h6v5h-6zM1155 239h6v5h-6zM1193 239h7v5h-7zM1046 233h6v6h-6zM1084 233h7v6h-7zM1161 233h7v6h-7zM1200 233h6v6h-6zM1052 228h7v5h-7zM1091 228h6v5h-6zM1168 228h6v5h-6zM1206 228h7v5h-7zM1059 223h6v5h-6zM1097 223h7v5h-7zM1174 223h7v5h-7zM1065 218h7v5h-7zM1104 218h6v5h-6zM1181 218h6v5h-6zM1072 212h6v6h-6zM1110 212h6v6h-6zM1187 212h6v6h-6zM1078 207h6v5h-6zM1116 207h7v5h-7zM1193 207h7v5h-7zM1084 202h7v5h-7zM1123 202h6v5h-6zM1200 202h6v5h-6zM1091 197h6v5h-6zM1129 197h7v5h-7zM1206 197h7v5h-7zM1020 192h7v5h-7zM1097 192h7v5h-7zM1136 192h6v5h-6zM1027 186h6v6h-6zM1104 186h6v6h-6zM1142 186h7v6h-7zM1033 181h7v5h-7zM1110 181h6v5h-6zM1149 181h6v5h-6zM1040 176h6v5h-6zM1116 176h7v5h-7zM1155 176h6v5h-6zM1046 171h6v5h-6zM1123 171h6v5h-6zM1161 171h7v5h-7zM1052 165h7v6h-7zM1129 165h7v6h-7zM1168 165h6v6h-6z"/>
<path fill="#3e26a8" d="M1078 317h6v5h-6zM1193 317h7v5h-7zM1084 312h7v5h-7zM1200 312h6v5h-6zM1091 306h6v6h-6zM1206 306h7v6h-7zM1097 301h7v5h-7zM1104 296h6v5h-6zM1110 291h6v5h-6zM1116 286h7v5h-7zM1123 280h6v6h-6zM1129 275h7v5h-7zM1020 270h7v5h-7zM1136 270h6v5h-6zM1027 265h6v5h-6zM1142 265h7v5h-7zM1033 259h7v6h-7zM1149 259h6v6h-6zM1040 254h6v5h-6zM1155 254h6v5h-6zM1046 249h6v5h-6zM1161 249h7v5h-7zM1052 244h7v5h-7zM1168 244h6v5h-6zM1059 239h6v5h-6zM1174 239h7v5h-7zM1065 233h7v6h-7zM1181 233h6v6h-6zM1072 228h6v5h-6zM1187 228h6v5h-6zM1078 223h6v5h-6zM1193 223h7v5h-7zM1084 218h7v5h-7zM1200 218h6v5h-6zM1091 212h6v6h-6zM1206 212h7v6h-7zM1097 207h7v5h-7zM1104 202h6v5h-6zM1110 197h6v5h-6zM1116 192h7v5h-7zM1123 186h6v6h-6zM1129 181h7v5h-7zM1020 176h7v5h-7zM1136 176h6v5h-6zM1027 171h6v5h-6zM1142 171h7v5h-7zM1033 165h7v6h-7zM1149 165h6v6h-6z"/>
<path fill="#3fca8e" d="M1046 317h6v5h-6zM1110 317h6v5h-6zM1161 317h7v5h-7zM1052 312h7v5h-7zM1116 312h7v5h-7zM1168 312h6v5h-6zM1059 306h6v6h-6zM1123 306h6v6h-6zM1174 306h7v6h-7zM1065 301h7v5h-7zM1129 301h7v5h-7zM1181 301h6v5h-6zM1020 296h7v5h-7zM1072 296h6v5h-6zM1136 296h6v5h-6zM1187 296h6v5h-6zM1027 291h6v5h-6zM1078 291h6v5h-6zM1142 291h7v5h-7zM1193 291h7v5h-7zM1033 286h7v5h-7zM1084 286h7v5h-7zM1149 286h6v5h-6zM1200 286h6v5h-6zM1040 280h6v6h-6zM1091 280h6v6h-6zM1155 280h6v6h-6zM1206 280h7v6h-7zM1046 275h6v5h-6zM1097 275h7v5h-7zM1161 275h7v5h-7zM1052 270h7v5h-7zM1104 270h6v5h-6zM1168 270h6v5h-6zM1059 265h6v5h-6zM1110 265h6v5h-6zM1174 265h7v5h-7zM1065 259h7v6h-7zM1116 259h7v6h-7zM1181 259h6v6h-6zM1072 254h6v5h-6zM1123 254h6v5h-6zM1187 254h6v5h-6zM1078 249h6v5h-6zM1129 249h7v5h-7zM1193 249h7v5h-7zM1020 244h7v5h-7zM1084 244h7v5h-7zM1136 244h6v5h-6zM1200 244h6v5h-6zM1027 239h6v5h-6zM1091 239h6v5h-6zM1142 239h7v5h-7zM1206 239h7v5h-7zM1033 233h7v6h-7zM1097 233h7v6h-7zM1149 233h6v6h-6zM1040 228h6v5h-6zM1104 228h6v5h-6zM1155 228h6v5h-6zM1046 223h6v5h-6zM1110 223h6v5h-6zM1161 223h7v5h-7zM1052 218h7v5h-7zM1116 218h7v5h-7zM1168 218h6v5h-6zM1059 212h6v6h-6zM1123 212h6v6h-6zM1174 212h7v6h-7zM1065 207h7v5h-7zM1129 207h7v5h-7zM1181 207h6v5h-6zM1020 202h7v5h-7zM1072 202h6v5h-6zM1136 202h6v5h-6zM1187 202h6v5h-6zM1027 197h6v5h-6zM1078 197h6v5h-6zM1142 197h7v5h-7zM1193 197h7v5h-7zM1033 192h7v5h-7zM1084 192h7v5h-7zM1149 192h6v5h-6zM1200 192h6v5h-6zM1040 186h6v6h-6zM1091 186h6v6h-6zM1155 186h6v6h-6zM1206 186h7v6h-7zM1046 181h6v5h-6zM1097 181h7v5h-7zM1161 181h7v5h-7zM1052 176h7v5h-7zM1104 176h6v5h-6zM1168 176h6v5h-6zM1059 171h6v5h-6zM1110 171h6v5h-6zM1174 171h7v5h-7zM1065 165h7v6h-7zM1116 165h7v6h-7zM1181 165h6v6h-6z"/>
<path fill="#402ab4" d="M1072 317h6v5h-6zM1084 317h7v5h-7zM1187 317h6v5h-6zM1200 317h6v5h-6zM1078 312h6v5h-6zM1091 312h6v5h-6zM1193 312h7v5h-7zM1206 312h7v5h-7zM1084 306h7v6h-7zM1097 306h7v6h-7zM1200 306h6v6h-6zM1091 301h6v5h-6zM1104 301h6v5h-6zM1206 301h7v5h-7zM1097 296h7v5h-7zM1110 296h6v5h-6zM1104 291h6v5h-6zM1116 291h7v5h-7zM1110 286h6v5h-6zM1123 286h6v5h-6zM1116 280h7v6h-7zM1129 280h7v6h-7zM1020 275h7v5h-7zM1123 275h6v5h-6zM1136 275h6v5h-6zM1027 270h6v5h-6zM1129 270h7v5h-7zM1142 270h7v5h-7zM1020 265h7v5h-7zM1033 265h7v5h-7zM1136 265h6v5h-6zM1149 265h6v5h-6zM1027 259h6v6h-6zM1040 259h6v6h-6zM1142 259h7v6h-7zM1155 259h6v6h-6zM1033 254h7v5h-7zM1046 254h6v5h-6zM1149 254h6v5h-6zM1161 254h7v5h-7zM1040 249h6v5h-6zM1052 249h7v5h-7zM1155 249h6v5h-6zM1168 249h6v5h-6zM1046 244h6v5h-6zM1059 244h6v5h-6zM1161 244h7v5h-7zM1174 244h7v5h-7zM1052 239h7v5h-7zM1065 239h7v5h-7zM1168 239h6v5h-6zM1181 239h6v5h-6zM1059 233h6v6h-6zM1072 233h6v6h-6zM1174 233h7v6h-7zM1187 233h6v6h-6zM1065 228h7v5h-7zM1078 228h6v5h-6zM1181 228h6v5h-6zM1193 228h7v5h-7zM1072 223h6v5h-6zM1084 223h7v5h-7zM1187 223h6v5h-6zM1200 223h6v5h-6zM1078 218h6v5h-6zM1091 218h6v5h-6zM1193 218h7v5h-7zM1206 218h7v5h-7zM1084 212h7v6h-7zM1097 212h7v6h-7zM1200 212h6v6h-6zM1091 207h6v5h-6zM1104 207h6v5h-6zM1206 207h7v5h-7zM1097 202h7v5h-7zM1110 202h6v5h-6zM1104 197h6v5h-6zM1116 197h7v5h-7zM1110 192h6v5h-6zM1123 192h6v5h-6zM1116 186h7v6h-7zM1129 186h7v6h-7zM1020 181h7v5h-7zM1123 181h6v5h-6zM1136 181h6v5h-6zM1027 176h6v5h-6zM1129 176h7v5h-7zM1142 176h7v5h-7zM1020 171h7v5h-7zM1033 171h7v5h-7zM1136 171h6v5h-6zM1149 171h6v5h-6zM1027 165h6v6h-6zM1040 165h6v6h-6zM1142 165h7v6h-7zM1155 165h6v6h-6z"/>
<path fill="#4747eb" d="M1065 317h7v5h-7zM1091 317h6v5h-6zM1181 317h6v5h-6zM1206 317h7v5h-7zM1072 312h6v5h-6zM1097 312h7v5h-7zM1187 312h6v5h-6zM1078 306h6v6h-6zM1104 306h6v6h-6zM1193 306h7v6h-7zM1084 301h7v5h-7zM1110 301h6v5h-6zM1200 301h6v5h-6zM1091 296h6v5h-6zM1116 296h7v5h-7zM1206 296h7v5h-7zM1097 291h7v5h-7zM1123 291h6v5h-6zM1104 286h6v5h-6zM1129 286h7v5h-7zM1020 280h7v6h-7zM1110 280h6v6h-6zM1136 280h6v6h-6zM1027 275h6v5h-6zM1116 275h7v5h-7zM1142 275h7v5h-7zM1033 270h7v5h-7zM1123 270h6v5h-6zM1149 270h6v5h-6zM1040 265h6v5h-6zM1129 265h7v5h-7zM1155 265h6v5h-6zM1020 259h7v6h-7zM1046 259h6v6h-6zM1136 259h6v6h-6zM1161 259h7v6h-7zM1027 254h6v5h-6zM1052 254h7v5h-7zM1142 254h7v5h-7zM1168 254h6v5h-6zM1033 249h7v5h-7zM1059 249h6v5h-6zM1149 249h6v5h-6zM1174 249h7v5h-7zM1040 244h6v5h-6zM1065 244h7v5h-7zM1155 244h6v5h-6zM1181 244h6v5h-6zM1046 239h6v5h-6zM1072 239h6v5h-6zM1161 239h7v5h-7zM1187 239h6v5h-6zM1052 233h7v6h-7zM1078 233h6v6h-6zM1168 233h6v6h-6zM1193 233h7v6h-7zM1059 228h6v5h-6zM1084 228h7v5h-7zM1174 228h7v5h-7zM1200 228h6v5h-6zM1065 223h7v5h-7zM1091 223h6v5h-6zM1181 223h6v5h-6zM1206 223h7v5h-7zM1072 218h6v5h-6zM1097 218h7v5h-7zM1187 218h6v5h-6zM1078 212h6v6h-6zM1104 212h6v6h-6zM1193 212h7v6h-7zM1084 207h7v5h-7zM1110 207h6v5h-6zM1200 207h6v5h-6zM1091 202h6v5h-6zM1116 202h7v5h-7zM1206 202h7v5h-7zM1097 197h7v5h-7zM1123 197h6v5h-6zM1104 192h6v5h-6zM1129 192h7v5h-7zM1020 186h7v6h-7zM1110 186h6v6h-6zM1136 186h6v6h-6zM1027 181h6v5h-6zM1116 181h7v5h-7zM1142 181h7v5h-7zM1033 176h7v5h-7zM1123 176h6v5h-6zM1149 176h6v5h-6zM1040 171h6v5h-6zM1129 171h7v5h-7zM1155 171h6v5h-6zM1020 165h7v6h-7zM1046 165h6v6h-6zM1136 165h6v6h-6zM1161 165h7v6h-7z"/>
<path fill="#c5c22a" d="M1040 317h6v5h-6zM1116 317h7v5h-7zM1155 317h6v5h-6zM1046 312h6v5h-6zM1123 312h6v5h-6zM1161 312h7v5h-7zM1052 306h7v6h-7zM1129 306h7v6h-7zM1168 306h6v6h-6zM1020 301h7v5h-7zM1059 301h6v5h-6zM1136 301h6v5h-6zM1174 301h7v5h-7zM1027 296h6v5h-6zM1065 296h7v5h-7zM1142 296h7v5h-7zM1181 296h6v5h-6zM1033 291h7v5h-7zM1072 291h6v5h-6zM1149 291h6v5h-6zM1187 291h6v5h-6zM1040 286h6v5h-6zM1078 286h6v5h-6zM1155 286h6v5h-6zM1193 286h7v5h-7zM1046 280h6v6h-6zM1084 280h7v6h-7zM1161 280h7v6h-7zM1200 280h6v6h-6zM1052 275h7v5h-7zM1091 275h6v5h-6zM1168 275h6v5h-6zM1206 275h7v5h-7zM1059 270h6v5h-6zM1097 270h7v5h-7zM1174 270h7v5h-7zM1065 265h7v5h-7zM1104 265h6v5h-6zM1181 265h6v5h-6zM1072 259h6v6h-6zM1110 259h6v6h-6zM1187 259h6v6h-6zM1078 254h6v5h-6zM1116 254h7v5h-7zM1193 254h7v5h-7zM1084 249h7v5h-7zM1123 249h6v5h-6zM1200 249h6v5h-6zM1091 244h6v5h-6zM1129 244h7v5h-7zM1206 244h7v5h-7zM1020 239h7v5h-7zM1097 239h7v5h-7zM1136 239h6v5h-6zM1027 233h6v6h-6zM1104 233h6v6h-6zM1142 233h7v6h-7zM1033 228h7v5h-7zM1110 228h6v5h-6zM1149 228h6v5h-6zM1040 223h6v5h-6zM1116 223h7v5h-7zM1155 223h6v5h-6zM1046 218h6v5h-6zM1123 218h6v5h-6zM1161 218h7v5h-7zM1052 212h7v6h-7zM1129 212h7v6h-7zM1168 212h6v6h-6zM1020 207h7v5h-7zM1059 207h6v5h-6zM1136 207h6v5h-6zM1174 207h7v5h-7zM1027 202h6v5h-6zM1065 202h7v5h-7zM1142 202h7v5h-7zM1181 202h6v5h-6zM1033 197h7v5h-7zM1072 197h6v5h-6zM1149 197h6v5h-6zM1187 197h6v5h-6zM1040 192h6v5h-6zM1078 192h6v5h-6zM1155 192h6v5h-6zM1193 192h7v5h-7zM1046 186h6v6h-6zM1084 186h7v6h-7zM1161 186h7v6h-7zM1200 186h6v6h-6zM1052 181h7v5h-7zM1091 181h6v5h-6zM1168 181h6v5h-6zM1206 181h7v5h-7zM1059 176h6v5h-6zM1097 176h7v5h-7zM1174 176h7v5h-7zM1065 171h7v5h-7zM1104 171h6v5h-6zM1181 171h6v5h-6zM1072 165h6v6h-6zM1110 165h6v6h-6zM1187 165h6v6h-6z"/>
<path fill="#f6ef20" d="M1027 317h6v5h-6zM1129 317h7v5h-7zM1142 317h7v5h-7zM1020 312h7v5h-7zM1033 312h7v5h-7zM1136 312h6v5h-6zM1149 312h6v5h-6zM1027 306h6v6h-6zM1040 306h6v6h-6zM1142 306h7v6h-7zM1155 306h6v6h-6zM1033 301h7v5h-7zM1046 301h6v5h-6zM1149 301h6v5h-6zM1161 301h7v5h-7zM1040 296h6v5h-6zM1052 296h7v5h-7zM1155 296h6v5h-6zM1168 296h6v5h-6zM1046 291h6v5h-6zM1059 291h6v5h-6zM1161 291h7v5h-7zM1174 291h7v5h-7zM1052 286h7v5h-7zM1065 286h7v5h-7zM1168 286h6v5h-6zM1181 286h6v5h-6zM1059 280h6v6h-6zM1072 280h6v6h-6zM1174 280h7v6h-7zM1187 280h6v6h-6zM1065 275h7v5h-7zM1078 275h6v5h-6zM1181 275h6v5h-6zM1193 275h7v5h-7zM1072 270h6v5h-6zM1084 270h7v5h-7zM1187 270h6v5h-6zM1200 270h6v5h-6zM1078 265h6v5h-6zM1091 265h6v5h-6zM1193 265h7v5h-7zM1206 265h7v5h-7zM1084 259h7v6h-7zM1097 259h7v6h-7zM1200 259h6v6h-6zM1091 254h6v5h-6zM1104 254h6v5h-6zM1206 254h7v5h-7zM1097 249h7v5h-7zM1110 249h6v5h-6zM1104 244h6v5h-6zM1116 244h7v5h-7zM1110 239h6v5h-6zM1123 239h6v5h-6zM1116 233h7v6h-7zM1129 233h7v6h-7zM1020 228h7v5h-7zM1123 228h6v5h-6zM1136 228h6v5h-6zM1027 223h6v5h-6zM1129 223h7v5h-7zM1142 223h7v5h-7zM1020 218h7v5h-7zM1033 218h7v5h-7zM1136 218h6v5h-6zM1149 218h6v5h-6zM1027 212h6v6h-6zM1040 212h6v6h-6zM1142 212h7v6h-7zM1155 212h6v6h-6zM1033 207h7v5h-7zM1046 207h6v5h-6zM1149 207h6v5h-6zM1161 207h7v5h-7zM1040 202h6v5h-6zM1052 202h7v5h-7zM1155 202h6v5h-6zM1168 202h6v5h-6zM1046 197h6v5h-6zM1059 197h6v5h-6zM1161 197h7v5h-7zM1174 197h7v5h-7zM1052 192h7v5h-7zM1065 192h7v5h-7zM1168 192h6v5h-6zM1181 192h6v5h-6zM1059 186h6v6h-6zM1072 186h6v6h-6zM1174 186h7v6h-7zM1187 186h6v6h-6zM1065 181h7v5h-7zM1078 181h6v5h-6zM1181 181h6v5h-6zM1193 181h7v5h-7zM1072 176h6v5h-6zM1084 176h7v5h-7zM1187 176h6v5h-6zM1200 176h6v5h-6zM1078 171h6v5h-6zM1091 171h6v5h-6zM1193 171h7v5h-7zM1206 171h7v5h-7zM1084 165h7v6h-7zM1097 165h7v6h-7zM1200 165h6v6h-6z"/>
<path fill="#f9fb15" d="M1020 317h7v5h-7zM1136 317h6v5h-6zM1027 312h6v5h-6zM1142 312h7v5h-7zM1033 306h7v6h-7zM1149 306h6v6h-6zM1040 301h6v5h-6zM1155 301h6v5h-6zM1046 296h6v5h-6zM1161 296h7v5h-7zM1052 291h7v5h-7zM1168 291h6v5h-6zM1059 286h6v5h-6zM1174 286h7v5h-7zM1065 280h7v6h-7zM1181 280h6v6h-6zM1072 275h6v5h-6zM1187 275h6v5h-6zM1078 270h6v5h-6zM1193 270h7v5h-7zM1084 265h7v5h-7zM1200 265h6v5h-6zM1091 259h6v6h-6zM1206 259h7v6h-7zM1097 254h7v5h-7zM1104 249h6v5h-6zM1110 244h6v5h-6zM1116 239h7v5h-7zM1123 233h6v6h-6zM1129 228h7v5h-7zM1020 223h7v5h-7zM1136 223h6v5h-6zM1027 218h6v5h-6zM1142 218h7v5h-7zM1033 212h7v6h-7zM1149 212h6v6h-6zM1040 207h6v5h-6zM1155 207h6v5h-6zM1046 202h6v5h-6zM1161 202h7v5h-7zM1052 197h7v5h-7zM1168 197h6v5h-6zM1059 192h6v5h-6zM1174 192h7v5h-7zM1065 186h7v6h-7zM1181 186h6v6h-6zM1072 181h6v5h-6zM1187 181h6v5h-6zM1078 176h6v5h-6zM1193 176h7v5h-7zM1084 171h7v5h-7zM1200 171h6v5h-6zM1091 165h6v6h-6zM1206 165h7v6h-7z"/>
<path fill="#fec934" d="M1033 317h7v5h-7zM1123 317h6v5h-6zM1149 317h6v5h-6zM1040 312h6v5h-6zM1129 312h7v5h-7zM1155 312h6v5h-6zM1020 306h7v6h-7zM1046 306h6v6h-6zM1136 306h6v6h-6zM1161 306h7v6h-7zM1027 301h6v5h-6zM1052 301h7v5h-7zM1142 301h7v5h-7zM1168 301h6v5h-6zM1033 296h7v5h-7zM1059 296h6v5h-6zM1149 296h6v5h-6zM1174 296h7v5h-7zM1040 291h6v5h-6zM1065 291h7v5h-7zM1155 291h6v5h-6zM1181 291h6v5h-6zM1046 286h6v5h-6zM1072 286h6v5h-6zM1161 286h7v5h-7zM1187 286h6v5h-6zM1052 280h7v6h-7zM1078 280h6v6h-6zM1168 280h6v6h-6zM1193 280h7v6h-7zM1059 275h6v5h-6zM1084 275h7v5h-7zM1174 275h7v5h-7zM1200 275h6v5h-6zM1065 270h7v5h-7zM1091 270h6v5h-6zM1181 270h6v5h-6zM1206 270h7v5h-7zM1072 265h6v5h-6zM1097 265h7v5h-7zM1187 265h6v5h-6zM1078 259h6v6h-6zM1104 259h6v6h-6zM1193 259h7v6h-7zM1084 254h7v5h-7zM1110 254h6v5h-6zM1200 254h6v5h-6zM1091 249h6v5h-6zM1116 249h7v5h-7zM1206 249h7v5h-7zM1097 244h7v5h-7zM1123 244h6v5h-6zM1104 239h6v5h-6zM1129 239h7v5h-7zM1020 233h7v6h-7zM1110 233h6v6h-6zM1136 233h6v6h-6zM1027 228h6v5h-6zM1116 228h7v5h-7zM1142 228h7v5h-7zM1033 223h7v5h-7zM1123 223h6v5h-6zM1149 223h6v5h-6zM1040 218h6v5h-6zM1129 218h7v5h-7zM1155 218h6v5h-6zM1020 212h7v6h-7zM1046 212h6v6h-6zM1136 212h6v6h-6zM1161 212h7v6h-7zM1027 207h6v5h-6zM1052 207h7v5h-7zM1142 207h7v5h-7zM1168 207h6v5h-6zM1033 202h7v5h-7zM1059 202h6v5h-6zM1149 202h6v5h-6zM1174 202h7v5h-7zM1040 197h6v5h-6zM1065 197h7v5h-7zM1155 197h6v5h-6zM1181 197h6v5h-6zM1046 192h6v5h-6zM1072 192h6v5h-6zM1161 192h7v5h-7zM1187 192h6v5h-6zM1052 186h7v6h-7zM1078 186h6v6h-6zM1168 186h6v6h-6zM1193 186h7v6h-7zM1059 181h6v5h-6zM1084 181h7v5h-7zM1174 181h7v5h-7zM1200 181h6v5h-6zM1065 176h7v5h-7zM1091 176h6v5h-6zM1181 176h6v5h-6zM1206 176h7v5h-7zM1072 171h6v5h-6zM1097 171h7v5h-7zM1187 171h6v5h-6zM1078 165h6v6h-6zM1104 165h6v6h-6zM1193 165h7v6h-7z"/>
</g>
<g>
<path fill="#f9fb15" d="M828 473.53h6.41v5.22h-6.41zM834.41 468.31h6.41v5.22h-6.41zM840.82 463.08h6.41v5.22h-6.41zM847.23 457.86h6.41v5.22h-6.41zM853.64 452.64h6.41v5.22h-6.41zM860.06 447.42h6.41v5.22h-6.41zM866.47 442.19h6.41v5.22h-6.41zM872.88 436.97h6.41v5.22h-6.41zM879.29 431.75h6.41v5.22h-6.41zM885.7 426.53h6.41v5.22h-6.41zM892.11 421.31h6.41v5.22h-6.41zM898.52 416.08h6.41v5.22h-6.41zM904.93 410.86h6.41v5.22h-6.41zM911.34 405.64h6.41v5.22h-6.41zM917.76 400.42h6.41v5.22h-6.41zM924.17 395.19h6.41v5.22h-6.41zM930.58 389.97h6.41v5.22h-6.41zM936.99 384.75h6.41v5.22h-6.41zM943.4 379.53h6.41v5.22h-6.41zM949.81 374.31h6.41v5.22h-6.41zM956.22 369.08h6.41v5.22h-6.41zM962.63 363.86h6.41v5.22h-6.41zM969.04 358.64h6.41v5.22h-6.41zM975.46 353.42h6.41v5.22h-6.41zM981.87 348.19h6.41v5.22h-6.41zM988.28 342.97h6.41v5.22h-6.41zM994.69 337.75h6.41v5.22h-6.41zM1001.1 332.53h6.41v5.22h-6.41zM1007.51 327.31h6.41v5.22h-6.41zM1013.92 322.08h6.41v5.22h-6.41zM1212.67 160.19h6.41v5.22h-6.41zM1219.08 154.97h6.41v5.22h-6.41zM1225.49 149.75h6.41v5.22h-6.41zM1231.9 144.53h6.41v5.22h-6.41zM1238.31 139.31h6.41v5.22h-6.41zM1244.72 134.08h6.41v5.22h-6.41zM1251.13 128.86h6.41v5.22h-6.41zM1257.54 123.64h6.41v5.22h-6.41zM1263.96 118.42h6.41v5.22h-6.41zM1270.37 113.19h6.41v5.22h-6.41zM1276.78 107.97h6.41v5.22h-6.41zM1283.19 102.75h6.41v5.22h-6.41zM1289.6 97.53h6.41v5.22h-6.41zM1296.01 92.31h6.41v5.22h-6.41zM1302.42 87.08h6.41v5.22h-6.41zM1308.83 81.86h6.41v5.22h-6.41zM1315.24 76.64h6.41v5.22h-6.41zM1321.66 71.42h6.41v5.22h-6.41zM1328.07 66.19h6.41v5.22h-6.41zM1334.48 60.97h6.41v5.22h-6.41zM1340.89 55.75h6.41v5.22h-6.41zM1347.3 50.53h6.41v5.22h-6.41zM1353.71 45.31h6.41v5.22h-6.41zM1360.12 40.08h6.41v5.22h-6.41zM1366.53 34.86h6.41v5.22h-6.41zM1372.94 29.64h6.41v5.22h-6.41zM1379.36 24.42h6.41v5.22h-6.41zM1385.77 19.19h6.41v5.22h-6.41zM1392.18 13.97h6.41v5.22h-6.41zM1398.59 8.75h6.41v5.22h-6.41z"/>
</g>
<g shape-rendering="crispEdges">
<path fill="#18addb" d="M167 1117h19v16h-19zM320 1117h19v16h-19zM512 1117h19v16h-19zM186 1101h19v16h-19zM339 1101h19v16h-19zM531 1101h19v16h-19zM205 1086h19v15h-19zM358 1086h20v15h-20zM550 1086h19v15h-19zM224 1070h20v16h-20zM378 1070h19v16h-19zM569 1070h19v16h-19zM244 1054h19v16h-19zM397 1054h19v16h-19zM588 1054h20v16h-20zM71 1039h19v15h-19zM263 1039h19v15h-19zM416 1039h19v15h-19zM608 1039h19v15h-19zM90 1023h19v16h-19zM282 1023h19v16h-19zM435 1023h19v16h-19zM627 1023h19v16h-19zM109 1007h19v16h-19zM301 1007h19v16h-19zM454 1007h20v16h-20zM128 992h20v15h-20zM320 992h19v15h-19zM474 992h19v15h-19zM148 976h19v16h-19zM339 976h19v16h-19zM493 976h19v16h-19zM167 960h19v16h-19zM358 960h20v16h-20zM512 960h19v16h-19zM186 945h19v15h-19zM378 945h19v15h-19zM531 945h19v15h-19zM205 929h19v16h-19zM397 929h19v16h-19zM550 929h19v16h-19zM71 913h19v16h-19zM224 913h20v16h-20zM416 913h19v16h-19zM569 913h19v16h-19zM90 898h19v15h-19zM244 898h19v15h-19zM435 898h19v15h-19zM588 898h20v15h-20zM109 882h19v16h-19zM263 882h19v16h-19zM454 882h20v16h-20zM608 882h19v16h-19zM128 866h20v16h-20zM282 866h19v16h-19zM474 866h19v16h-19zM627 866h19v16h-19zM148 851h19v15h-19zM301 851h19v15h-19zM493 851h19v15h-19zM167 835h19v16h-19zM320 835h19v16h-19zM512 835h19v16h-19zM186 819h19v16h-19zM339 819h19v16h-19zM531 819h19v16h-19zM205 804h19v15h-19zM358 804h20v15h-20zM550 804h19v15h-19zM224 788h20v16h-20zM378 788h19v16h-19zM569 788h19v16h-19zM244 772h19v16h-19zM397 772h19v16h-19zM588 772h20v16h-20zM71 757h19v15h-19zM263 757h19v15h-19zM416 757h19v15h-19zM608 757h19v15h-19zM90 741h19v16h-19zM282 741h19v16h-19zM435 741h19v16h-19zM627 741h19v16h-19zM109 725h19v16h-19zM301 725h19v16h-19zM454 725h20v16h-20zM128 710h20v15h-20zM320 710h19v15h-19zM474 710h19v15h-19zM148 694h19v16h-19zM339 694h19v16h-19zM493 694h19v16h-19zM167 678h19v16h-19zM358 678h20v16h-20zM512 678h19v16h-19zM186 663h19v15h-19zM378 663h19v15h-19zM531 663h19v15h-19z"/>
<path fill="#3875fe" d="M186 1117h19v16h-19zM301 1117h19v16h-19zM531 1117h19v16h-19zM205 1101h19v16h-19zM320 1101h19v16h-19zM550 1101h19v16h-19zM224 1086h20v15h-20zM339 1086h19v15h-19zM569 1086h19v15h-19zM244 1070h19v16h-19zM358 1070h20v16h-20zM588 1070h20v16h-20zM263 1054h19v16h-19zM378 1054h19v16h-19zM608 1054h19v16h-19zM282 1039h19v15h-19zM397 1039h19v15h-19zM627 1039h19v15h-19zM71 1023h19v16h-19zM301 1023h19v16h-19zM416 1023h19v16h-19zM90 1007h19v16h-19zM320 1007h19v16h-19zM435 1007h19v16h-19zM109 992h19v15h-19zM339 992h19v15h-19zM454 992h20v15h-20zM128 976h20v16h-20zM358 976h20v16h-20zM474 976h19v16h-19zM148 960h19v16h-19zM378 960h19v16h-19zM493 960h19v16h-19zM167 945h19v15h-19zM397 945h19v15h-19zM512 945h19v15h-19zM71 929h19v16h-19zM186 929h19v16h-19zM416 929h19v16h-19zM531 929h19v16h-19zM90 913h19v16h-19zM205 913h19v16h-19zM435 913h19v16h-19zM550 913h19v16h-19zM109 898h19v15h-19zM224 898h20v15h-20zM454 898h20v15h-20zM569 898h19v15h-19zM128 882h20v16h-20zM244 882h19v16h-19zM474 882h19v16h-19zM588 882h20v16h-20zM148 866h19v16h-19zM263 866h19v16h-19zM493 866h19v16h-19zM608 866h19v16h-19zM167 851h19v15h-19zM282 851h19v15h-19zM512 851h19v15h-19zM627 851h19v15h-19zM186 835h19v16h-19zM301 835h19v16h-19zM531 835h19v16h-19zM205 819h19v16h-19zM320 819h19v16h-19zM550 819h19v16h-19zM224 804h20v15h-20zM339 804h19v15h-19zM569 804h19v15h-19zM244 788h19v16h-19zM358 788h20v16h-20zM588 788h20v16h-20zM263 772h19v16h-19zM378 772h19v16h-19zM608 772h19v16h-19zM282 757h19v15h-19zM397 757h19v15h-19zM627 757h19v15h-19zM71 741h19v16h-19zM301 741h19v16h-19zM416 741h19v16h-19zM90 725h19v16h-19zM320 725h19v16h-19zM435 725h19v16h-19zM109 710h19v15h-19zM339 710h19v15h-19zM454 710h20v15h-20zM128 694h20v16h-20zM358 694h20v16h-20zM474 694h19v16h-19zM148 678h19v16h-19zM378 678h19v16h-19zM493 678h19v16h-19zM167 663h19v15h-19zM397 663h19v15h-19zM512 663h19v15h-19z"/>
<path fill="#3e26a8" d="M244 1117h19v16h-19zM588 1117h20v16h-20zM263 1101h19v16h-19zM608 1101h19v16h-19zM282 1086h19v15h-19zM627 1086h19v15h-19zM301 1070h19v16h-19zM320 1054h19v16h-19zM339 1039h19v15h-19zM358 1023h20v16h-20zM378 1007h19v16h-19zM397 992h19v15h-19zM71 976h19v16h-19zM416 976h19v16h-19zM90 960h19v16h-19zM435 960h19v16h-19zM109 945h19v15h-19zM454 945h20v15h-20zM128 929h20v16h-20zM474 929h19v16h-19zM148 913h19v16h-19zM493 913h19v16h-19zM167 898h19v15h-19zM512 898h19v15h-19zM186 882h19v16h-19zM531 882h19v16h-19zM205 866h19v16h-19zM550 866h19v16h-19zM224 851h20v15h-20zM569 851h19v15h-19zM244 835h19v16h-19zM588 835h20v16h-20zM263 819h19v16h-19zM608 819h19v16h-19zM282 804h19v15h-19zM627 804h19v15h-19zM301 788h19v16h-19zM320 772h19v16h-19zM339 757h19v15h-19zM358 741h20v16h-20zM378 725h19v16h-19zM397 710h19v15h-19zM71 694h19v16h-19zM416 694h19v16h-19zM90 678h19v16h-19zM435 678h19v16h-19zM109 663h19v15h-19zM454 663h20v15h-20z"/>
<path fill="#3fca8e" d="M148 1117h19v16h-19zM339 1117h19v16h-19zM493 1117h19v16h-19zM167 1101h19v16h-19zM358 1101h20v16h-20zM512 1101h19v16h-19zM186 1086h19v15h-19zM378 1086h19v15h-19zM531 1086h19v15h-19zM205 1070h19v16h-19zM397 1070h19v16h-19zM550 1070h19v16h-19zM71 1054h19v16h-19zM224 1054h20v16h-20zM416 1054h19v16h-19zM569 1054h19v16h-19zM90 1039h19v15h-19zM244 1039h19v15h-19zM435 1039h19v15h-19zM588 1039h20v15h-20zM109 1023h19v16h-19zM263 1023h19v16h-19zM454 1023h20v16h-20zM608 1023h19v16h-19zM128 1007h20v16h-20zM282 1007h19v16h-19zM474 1007h19v16h-19zM627 1007h19v16h-19zM148 992h19v15h-19zM301 992h19v15h-19zM493 992h19v15h-19zM167 976h19v16h-19zM320 976h19v16h-19zM512 976h19v16h-19zM186 960h19v16h-19zM339 960h19v16h-19zM531 960h19v16h-19zM205 945h19v15h-19zM358 945h20v15h-20zM550 945h19v15h-19zM224 929h20v16h-20zM378 929h19v16h-19zM569 929h19v16h-19zM244 913h19v16h-19zM397 913h19v16h-19zM588 913h20v16h-20zM71 898h19v15h-19zM263 898h19v15h-19zM416 898h19v15h-19zM608 898h19v15h-19zM90 882h19v16h-19zM282 882h19v16h-19zM435 882h19v16h-19zM627 882h19v16h-19zM109 866h19v16h-19zM301 866h19v16h-19zM454 866h20v16h-20zM128 851h20v15h-20zM320 851h19v15h-19zM474 851h19v15h-19zM148 835h19v16h-19zM339 835h19v16h-19zM493 835h19v16h-19zM167 819h19v16h-19zM358 819h20v16h-20zM512 819h19v16h-19zM186 804h19v15h-19zM378 804h19v15h-19zM531 804h19v15h-19zM205 788h19v16h-19zM397 788h19v16h-19zM550 788h19v16h-19zM71 772h19v16h-19zM224 772h20v16h-20zM416 772h19v16h-19zM569 772h19v16h-19zM90 757h19v15h-19zM244 757h19v15h-19zM435 757h19v15h-19zM588 757h20v15h-20zM109 741h19v16h-19zM263 741h19v16h-19zM454 741h20v16h-20zM608 741h19v16h-19zM128 725h20v16h-20zM282 725h19v16h-19zM474 725h19v16h-19zM627 725h19v16h-19zM148 710h19v15h-19zM301 710h19v15h-19zM493 710h19v15h-19zM167 694h19v16h-19zM320 694h19v16h-19zM512 694h19v16h-19zM186 678h19v16h-19zM339 678h19v16h-19zM531 678h19v16h-19zM205 663h19v15h-19zM358 663h20v15h-20zM550 663h19v15h-19z"/>
<path fill="#402ab4" d="M224 1117h20v16h-20zM263 1117h19v16h-19zM569 1117h19v16h-19zM608 1117h19v16h-19zM244 1101h19v16h-19zM282 1101h19v16h-19zM588 1101h20v16h-20zM627 1101h19v16h-19zM263 1086h19v15h-19zM301 1086h19v15h-19zM608 1086h19v15h-19zM282 1070h19v16h-19zM320 1070h19v16h-19zM627 1070h19v16h-19zM301 1054h19v16h-19zM339 1054h19v16h-19zM320 1039h19v15h-19zM358 1039h20v15h-20zM339 1023h19v16h-19zM378 1023h19v16h-19zM358 1007h20v16h-20zM397 1007h19v16h-19zM71 992h19v15h-19zM378 992h19v15h-19zM416 992h19v15h-19zM90 976h19v16h-19zM397 976h19v16h-19zM435 976h19v16h-19zM71 960h19v16h-19zM109 960h19v16h-19zM416 960h19v16h-19zM454 960h20v16h-20zM90 945h19v15h-19zM128 945h20v15h-20zM435 945h19v15h-19zM474 945h19v15h-19zM109 929h19v16h-19zM148 929h19v16h-19zM454 929h20v16h-20zM493 929h19v16h-19zM128 913h20v16h-20zM167 913h19v16h-19zM474 913h19v16h-19zM512 913h19v16h-19zM148 898h19v15h-19zM186 898h19v15h-19zM493 898h19v15h-19zM531 898h19v15h-19zM167 882h19v16h-19zM205 882h19v16h-19zM512 882h19v16h-19zM550 882h19v16h-19zM186 866h19v16h-19zM224 866h20v16h-20zM531 866h19v16h-19zM569 866h19v16h-19zM205 851h19v15h-19zM244 851h19v15h-19zM550 851h19v15h-19zM588 851h20v15h-20zM224 835h20v16h-20zM263 835h19v16h-19zM569 835h19v16h-19zM608 835h19v16h-19zM244 819h19v16h-19zM282 819h19v16h-19zM588 819h20v16h-20zM627 819h19v16h-19zM263 804h19v15h-19zM301 804h19v15h-19zM608 804h19v15h-19zM282 788h19v16h-19zM320 788h19v16h-19zM627 788h19v16h-19zM301 772h19v16h-19zM339 772h19v16h-19zM320 757h19v15h-19zM358 757h20v15h-20zM339 741h19v16h-19zM378 741h19v16h-19zM358 725h20v16h-20zM397 725h19v16h-19zM71 710h19v15h-19zM378 710h19v15h-19zM416 710h19v15h-19zM90 694h19v16h-19zM397 694h19v16h-19zM435 694h19v16h-19zM71 678h19v16h-19zM109 678h19v16h-19zM416 678h19v16h-19zM454 678h20v16h-20zM90 663h19v15h-19zM128 663h20v15h-20zM435 663h19v15h-19zM474 663h19v15h-19z"/>
<path fill="#4747eb" d="M205 1117h19v16h-19zM282 1117h19v16h-19zM550 1117h19v16h-19zM627 1117h19v16h-19zM224 1101h20v16h-20zM301 1101h19v16h-19zM569 1101h19v16h-19zM244 1086h19v15h-19zM320 1086h19v15h-19zM588 1086h20v15h-20zM263 1070h19v16h-19zM339 1070h19v16h-19zM608 1070h19v16h-19zM282 1054h19v16h-19zM358 1054h20v16h-20zM627 1054h19v16h-19zM301 1039h19v15h-19zM378 1039h19v15h-19zM320 1023h19v16h-19zM397 1023h19v16h-19zM71 1007h19v16h-19zM339 1007h19v16h-19zM416 1007h19v16h-19zM90 992h19v15h-19zM358 992h20v15h-20zM435 992h19v15h-19zM109 976h19v16h-19zM378 976h19v16h-19zM454 976h20v16h-20zM128 960h20v16h-20zM397 960h19v16h-19zM474 960h19v16h-19zM71 945h19v15h-19zM148 945h19v15h-19zM416 945h19v15h-19zM493 945h19v15h-19zM90 929h19v16h-19zM167 929h19v16h-19zM435 929h19v16h-19zM512 929h19v16h-19zM109 913h19v16h-19zM186 913h19v16h-19zM454 913h20v16h-20zM531 913h19v16h-19zM128 898h20v15h-20zM205 898h19v15h-19zM474 898h19v15h-19zM550 898h19v15h-19zM148 882h19v16h-19zM224 882h20v16h-20zM493 882h19v16h-19zM569 882h19v16h-19zM167 866h19v16h-19zM244 866h19v16h-19zM512 866h19v16h-19zM588 866h20v16h-20zM186 851h19v15h-19zM263 851h19v15h-19zM531 851h19v15h-19zM608 851h19v15h-19zM205 835h19v16h-19zM282 835h19v16h-19zM550 835h19v16h-19zM627 835h19v16h-19zM224 819h20v16h-20zM301 819h19v16h-19zM569 819h19v16h-19zM244 804h19v15h-19zM320 804h19v15h-19zM588 804h20v15h-20zM263 788h19v16h-19zM339 788h19v16h-19zM608 788h19v16h-19zM282 772h19v16h-19zM358 772h20v16h-20zM627 772h19v16h-19zM301 757h19v15h-19zM378 757h19v15h-19zM320 741h19v16h-19zM397 741h19v16h-19zM71 725h19v16h-19zM339 725h19v16h-19zM416 725h19v16h-19zM90 710h19v15h-19zM358 710h20v15h-20zM435 710h19v15h-19zM109 694h19v16h-19zM378 694h19v16h-19zM454 694h20v16h-20zM128 678h20v16h-20zM397 678h19v16h-19zM474 678h19v16h-19zM71 663h19v15h-19zM148 663h19v15h-19zM416 663h19v15h-19zM493 663h19v15h-19z"/>
<path fill="#c5c22a" d="M128 1117h20v16h-20zM358 1117h20v16h-20zM474 1117h19v16h-19zM148 1101h19v16h-19zM378 1101h19v16h-19zM493 1101h19v16h-19zM167 1086h19v15h-19zM397 1086h19v15h-19zM512 1086h19v15h-19zM71 1070h19v16h-19zM186 1070h19v16h-19zM416 1070h19v16h-19zM531 1070h19v16h-19zM90 1054h19v16h-19zM205 1054h19v16h-19zM435 1054h19v16h-19zM550 1054h19v16h-19zM109 1039h19v15h-19zM224 1039h20v15h-20zM454 1039h20v15h-20zM569 1039h19v15h-19zM128 1023h20v16h-20zM244 1023h19v16h-19zM474 1023h19v16h-19zM588 1023h20v16h-20zM148 1007h19v16h-19zM263 1007h19v16h-19zM493 1007h19v16h-19zM608 1007h19v16h-19zM167 992h19v15h-19zM282 992h19v15h-19zM512 992h19v15h-19zM627 992h19v15h-19zM186 976h19v16h-19zM301 976h19v16h-19zM531 976h19v16h-19zM205 960h19v16h-19zM320 960h19v16h-19zM550 960h19v16h-19zM224 945h20v15h-20zM339 945h19v15h-19zM569 945h19v15h-19zM244 929h19v16h-19zM358 929h20v16h-20zM588 929h20v16h-20zM263 913h19v16h-19zM378 913h19v16h-19zM608 913h19v16h-19zM282 898h19v15h-19zM397 898h19v15h-19zM627 898h19v15h-19zM71 882h19v16h-19zM301 882h19v16h-19zM416 882h19v16h-19zM90 866h19v16h-19zM320 866h19v16h-19zM435 866h19v16h-19zM109 851h19v15h-19zM339 851h19v15h-19zM454 851h20v15h-20zM128 835h20v16h-20zM358 835h20v16h-20zM474 835h19v16h-19zM148 819h19v16h-19zM378 819h19v16h-19zM493 819h19v16h-19zM167 804h19v15h-19zM397 804h19v15h-19zM512 804h19v15h-19zM71 788h19v16h-19zM186 788h19v16h-19zM416 788h19v16h-19zM531 788h19v16h-19zM90 772h19v16h-19zM205 772h19v16h-19zM435 772h19v16h-19zM550 772h19v16h-19zM109 757h19v15h-19zM224 757h20v15h-20zM454 757h20v15h-20zM569 757h19v15h-19zM128 741h20v16h-20zM244 741h19v16h-19zM474 741h19v16h-19zM588 741h20v16h-20zM148 725h19v16h-19zM263 725h19v16h-19zM493 725h19v16h-19zM608 725h19v16h-19zM167 710h19v15h-19zM282 710h19v15h-19zM512 710h19v15h-19zM627 710h19v15h-19zM186 694h19v16h-19zM301 694h19v16h-19zM531 694h19v16h-19zM205 678h19v16h-19zM320 678h19v16h-19zM550 678h19v16h-19zM224 663h20v15h-20zM339 663h19v15h-19zM569 663h19v15h-19z"/>
<path fill="#f6ef20" d="M90 1117h19v16h-19zM397 1117h19v16h-19zM435 1117h19v16h-19zM71 1101h19v16h-19zM109 1101h19v16h-19zM416 1101h19v16h-19zM454 1101h20v16h-20zM90 1086h19v15h-19zM128 1086h20v15h-20zM435 1086h19v15h-19zM474 1086h19v15h-19zM109 1070h19v16h-19zM148 1070h19v16h-19zM454 1070h20v16h-20zM493 1070h19v16h-19zM128 1054h20v16h-20zM167 1054h19v16h-19zM474 1054h19v16h-19zM512 1054h19v16h-19zM148 1039h19v15h-19zM186 1039h19v15h-19zM493 1039h19v15h-19zM531 1039h19v15h-19zM167 1023h19v16h-19zM205 1023h19v16h-19zM512 1023h19v16h-19zM550 1023h19v16h-19zM186 1007h19v16h-19zM224 1007h20v16h-20zM531 1007h19v16h-19zM569 1007h19v16h-19zM205 992h19v15h-19zM244 992h19v15h-19zM550 992h19v15h-19zM588 992h20v15h-20zM224 976h20v16h-20zM263 976h19v16h-19zM569 976h19v16h-19zM608 976h19v16h-19zM244 960h19v16h-19zM282 960h19v16h-19zM588 960h20v16h-20zM627 960h19v16h-19zM263 945h19v15h-19zM301 945h19v15h-19zM608 945h19v15h-19zM282 929h19v16h-19zM320 929h19v16h-19zM627 929h19v16h-19zM301 913h19v16h-19zM339 913h19v16h-19zM320 898h19v15h-19zM358 898h20v15h-20zM339 882h19v16h-19zM378 882h19v16h-19zM358 866h20v16h-20zM397 866h19v16h-19zM71 851h19v15h-19zM378 851h19v15h-19zM416 851h19v15h-19zM90 835h19v16h-19zM397 835h19v16h-19zM435 835h19v16h-19zM71 819h19v16h-19zM109 819h19v16h-19zM416 819h19v16h-19zM454 819h20v16h-20zM90 804h19v15h-19zM128 804h20v15h-20zM435 804h19v15h-19zM474 804h19v15h-19zM109 788h19v16h-19zM148 788h19v16h-19zM454 788h20v16h-20zM493 788h19v16h-19zM128 772h20v16h-20zM167 772h19v16h-19zM474 772h19v16h-19zM512 772h19v16h-19zM148 757h19v15h-19zM186 757h19v15h-19zM493 757h19v15h-19zM531 757h19v15h-19zM167 741h19v16h-19zM205 741h19v16h-19zM512 741h19v16h-19zM550 741h19v16h-19zM186 725h19v16h-19zM224 725h20v16h-20zM531 725h19v16h-19zM569 725h19v16h-19zM205 710h19v15h-19zM244 710h19v15h-19zM550 710h19v15h-19zM588 710h20v15h-20zM224 694h20v16h-20zM263 694h19v16h-19zM569 694h19v16h-19zM608 694h19v16h-19zM244 678h19v16h-19zM282 678h19v16h-19zM588 678h20v16h-20zM627 678h19v16h-19zM263 663h19v15h-19zM301 663h19v15h-19zM608 663h19v15h-19z"/>
<path fill="#f9fb15" d="M71 1117h19v16h-19zM416 1117h19v16h-19zM90 1101h19v16h-19zM435 1101h19v16h-19zM109 1086h19v15h-19zM454 1086h20v15h-20zM128 1070h20v16h-20zM474 1070h19v16h-19zM148 1054h19v16h-19zM493 1054h19v16h-19zM167 1039h19v15h-19zM512 1039h19v15h-19zM186 1023h19v16h-19zM531 1023h19v16h-19zM205 1007h19v16h-19zM550 1007h19v16h-19zM224 992h20v15h-20zM569 992h19v15h-19zM244 976h19v16h-19zM588 976h20v16h-20zM263 960h19v16h-19zM608 960h19v16h-19zM282 945h19v15h-19zM627 945h19v15h-19zM301 929h19v16h-19zM320 913h19v16h-19zM339 898h19v15h-19zM358 882h20v16h-20zM378 866h19v16h-19zM397 851h19v15h-19zM71 835h19v16h-19zM416 835h19v16h-19zM90 819h19v16h-19zM435 819h19v16h-19zM109 804h19v15h-19zM454 804h20v15h-20zM128 788h20v16h-20zM474 788h19v16h-19zM148 772h19v16h-19zM493 772h19v16h-19zM167 757h19v15h-19zM512 757h19v15h-19zM186 741h19v16h-19zM531 741h19v16h-19zM205 725h19v16h-19zM550 725h19v16h-19zM224 710h20v15h-20zM569 710h19v15h-19zM244 694h19v16h-19zM588 694h20v16h-20zM263 678h19v16h-19zM608 678h19v16h-19zM282 663h19v15h-19zM627 663h19v15h-19z"/>
<path fill="#fec934" d="M109 1117h19v16h-19zM378 1117h19v16h-19zM454 1117h20v16h-20zM128 1101h20v16h-20zM397 1101h19v16h-19zM474 1101h19v16h-19zM71 1086h19v15h-19zM148 1086h19v15h-19zM416 1086h19v15h-19zM493 1086h19v15h-19zM90 1070h19v16h-19zM167 1070h19v16h-19zM435 1070h19v16h-19zM512 1070h19v16h-19zM109 1054h19v16h-19zM186 1054h19v16h-19zM454 1054h20v16h-20zM531 1054h19v16h-19zM128 1039h20v15h-20zM205 1039h19v15h-19zM474 1039h19v15h-19zM550 1039h19v15h-19zM148 1023h19v16h-19zM224 1023h20v16h-20zM493 1023h19v16h-19zM569 1023h19v16h-19zM167 1007h19v16h-19zM244 1007h19v16h-19zM512 1007h19v16h-19zM588 1007h20v16h-20zM186 992h19v15h-19zM263 992h19v15h-19zM531 992h19v15h-19zM608 992h19v15h-19zM205 976h19v16h-19zM282 976h19v16h-19zM550 976h19v16h-19zM627 976h19v16h-19zM224 960h20v16h-20zM301 960h19v16h-19zM569 960h19v16h-19zM244 945h19v15h-19zM320 945h19v15h-19zM588 945h20v15h-20zM263 929h19v16h-19zM339 929h19v16h-19zM608 929h19v16h-19zM282 913h19v16h-19zM358 913h20v16h-20zM627 913h19v16h-19zM301 898h19v15h-19zM378 898h19v15h-19zM320 882h19v16h-19zM397 882h19v16h-19zM71 866h19v16h-19zM339 866h19v16h-19zM416 866h19v16h-19zM90 851h19v15h-19zM358 851h20v15h-20zM435 851h19v15h-19zM109 835h19v16h-19zM378 835h19v16h-19zM454 835h20v16h-20zM128 819h20v16h-20zM397 819h19v16h-19zM474 819h19v16h-19zM71 804h19v15h-19zM148 804h19v15h-19zM416 804h19v15h-19zM493 804h19v15h-19zM90 788h19v16h-19zM167 788h19v16h-19zM435 788h19v16h-19zM512 788h19v16h-19zM109 772h19v16h-19zM186 772h19v16h-19zM454 772h20v16h-20zM531 772h19v16h-19zM128 757h20v15h-20zM205 757h19v15h-19zM474 757h19v15h-19zM550 757h19v15h-19zM148 741h19v16h-19zM224 741h20v16h-20zM493 741h19v16h-19zM569 741h19v16h-19zM167 725h19v16h-19zM244 725h19v16h-19zM512 725h19v16h-19zM588 725h20v16h-20zM186 710h19v15h-19zM263 710h19v15h-19zM531 710h19v15h-19zM608 710h19v15h-19zM205 694h19v16h-19zM282 694h19v16h-19zM550 694h19v16h-19zM627 694h19v16h-19zM224 678h20v16h-20zM301 678h19v16h-19zM569 678h19v16h-19zM244 663h19v15h-19zM320 663h19v15h-19zM588 663h20v15h-20z"/>
</g>
<g shape-rendering="crispEdges">
<rect x="828" y="662.65" width="577" height="470" fill="#0bbdbd"/>
<path fill="#01b8ca" d="M1368 936h18v15h-18zM1368 920h18v16h-18zM1368 905h18v15h-18zM1368 890h18v15h-18zM1368 723h18v15h-18zM1368 708h18v15h-18zM1051 678h75v15h-75zM1312 678h37v15h-37z"/>
<path fill="#02bac3" d="M1331 1117h18v16h-18zM1386 1117h19v16h-19zM1331 1102h18v15h-18zM1386 1102h19v15h-19zM1386 1087h19v15h-19zM1386 1072h19v15h-19zM1368 966h18v15h-18zM1368 951h18v15h-18zM1331 890h18v15h-18zM1331 875h18v15h-18zM1368 875h18v15h-18zM1331 860h18v15h-18zM1368 860h18v15h-18zM1331 845h18v15h-18zM1386 845h19v15h-19zM1331 829h18v16h-18zM1386 829h19v16h-19zM1386 814h19v15h-19zM1386 799h19v15h-19zM1386 723h19v15h-19zM828 708h37v15h-37zM1107 708h93v15h-93zM1014 678h37v15h-37zM1126 678h37v15h-37zM828 663h74v15h-74zM1163 663h74v15h-74zM1312 663h19v15h-19z"/>
<path fill="#18addb" d="M921 1117h19v16h-19zM1070 1117h19v16h-19zM1256 1117h19v16h-19zM940 1102h18v15h-18zM1089 1102h18v15h-18zM1275 1102h18v15h-18zM958 1087h19v15h-19zM1107 1087h19v15h-19zM1293 1087h19v15h-19zM977 1072h19v15h-19zM1126 1072h18v15h-18zM996 1057h18v15h-18zM1144 1057h19v15h-19zM828 1042h19v15h-19zM1014 1042h19v15h-19zM1163 1042h19v15h-19zM847 1027h18v15h-18zM1033 1027h18v15h-18zM1182 1027h18v15h-18zM865 1011h19v16h-19zM1051 1011h19v16h-19zM1200 1011h19v16h-19zM884 996h18v15h-18zM1070 996h19v15h-19zM1219 996h18v15h-18zM902 981h19v15h-19zM1089 981h18v15h-18zM1237 981h19v15h-19zM921 966h19v15h-19zM1107 966h19v15h-19zM1256 966h19v15h-19zM940 951h18v15h-18zM1126 951h18v15h-18zM1275 951h18v15h-18zM958 936h19v15h-19zM1144 936h19v15h-19zM1293 936h19v15h-19zM828 920h19v16h-19zM977 920h19v16h-19zM1163 920h19v16h-19zM847 905h18v15h-18zM996 905h18v15h-18zM1182 905h18v15h-18zM865 890h19v15h-19zM1014 890h19v15h-19zM1200 890h19v15h-19zM884 875h18v15h-18zM1033 875h18v15h-18zM1219 875h18v15h-18zM902 860h19v15h-19zM1051 860h19v15h-19zM1237 860h19v15h-19zM921 845h19v15h-19zM1070 845h19v15h-19zM1256 845h19v15h-19zM940 829h18v16h-18zM1089 829h18v16h-18zM1275 829h18v16h-18zM958 814h19v15h-19zM1107 814h19v15h-19zM1293 814h19v15h-19zM977 799h19v15h-19zM1126 799h18v15h-18zM996 784h18v15h-18zM1144 784h19v15h-19zM828 769h19v15h-19zM1014 769h19v15h-19zM1163 769h19v15h-19zM847 754h18v15h-18zM1033 754h18v15h-18zM1182 754h18v15h-18zM865 738h19v16h-19zM1051 738h19v16h-19zM1200 738h19v16h-19z"/>
<path fill="#19bfb6" d="M1349 1102h19v15h-19zM1331 1042h18v15h-18zM1331 1027h18v15h-18zM1331 1011h18v16h-18zM1331 996h18v15h-18zM1386 996h19v15h-19zM1312 981h37v15h-37zM1386 981h19v15h-19zM1312 966h56v15h-56zM1386 966h19v15h-19zM1312 951h37v15h-37zM1386 951h19v15h-19zM1386 936h19v15h-19zM1386 920h19v16h-19zM1349 905h19v15h-19zM1349 890h19v15h-19zM1331 769h18v15h-18zM1331 754h18v15h-18zM1331 738h18v16h-18zM996 723h55v15h-55zM921 708h130v15h-130zM1256 708h56v15h-56zM1349 708h19v15h-19zM847 693h18v15h-18zM1014 693h19v15h-19zM1089 693h37v15h-37zM1331 693h18v15h-18zM977 663h112v15h-112z"/>
<path fill="#24c1ae" d="M1368 1087h18v15h-18zM1368 1072h18v15h-18zM1368 1057h18v15h-18zM1368 1042h18v15h-18zM1368 1027h18v15h-18zM1368 1011h18v16h-18zM1368 814h18v15h-18zM1368 799h18v15h-18zM1368 784h18v15h-18zM1368 769h18v15h-18zM1368 754h18v15h-18zM1368 738h18v16h-18zM865 678h112v15h-112zM1200 678h112v15h-112z"/>
<path fill="#3875fe" d="M940 1117h18v16h-18zM1051 1117h19v16h-19zM1275 1117h18v16h-18zM958 1102h19v15h-19zM1070 1102h19v15h-19zM1293 1102h19v15h-19zM977 1087h19v15h-19zM1089 1087h18v15h-18zM996 1072h18v15h-18zM1107 1072h19v15h-19zM1014 1057h19v15h-19zM1126 1057h18v15h-18zM1033 1042h18v15h-18zM1144 1042h19v15h-19zM828 1027h19v15h-19zM1051 1027h19v15h-19zM1163 1027h19v15h-19zM847 1011h18v16h-18zM1070 1011h19v16h-19zM1182 1011h18v16h-18zM865 996h19v15h-19zM1089 996h18v15h-18zM1200 996h19v15h-19zM884 981h18v15h-18zM1107 981h19v15h-19zM1219 981h18v15h-18zM902 966h19v15h-19zM1126 966h18v15h-18zM1237 966h19v15h-19zM921 951h19v15h-19zM1144 951h19v15h-19zM1256 951h19v15h-19zM828 936h19v15h-19zM940 936h18v15h-18zM1163 936h19v15h-19zM1275 936h18v15h-18zM847 920h18v16h-18zM958 920h19v16h-19zM1182 920h18v16h-18zM1293 920h19v16h-19zM865 905h19v15h-19zM977 905h19v15h-19zM1200 905h19v15h-19zM884 890h18v15h-18zM996 890h18v15h-18zM1219 890h18v15h-18zM902 875h19v15h-19zM1014 875h19v15h-19zM1237 875h19v15h-19zM921 860h19v15h-19zM1033 860h18v15h-18zM1256 860h19v15h-19zM940 845h18v15h-18zM1051 845h19v15h-19zM1275 845h18v15h-18zM958 829h19v16h-19zM1070 829h19v16h-19zM1293 829h19v16h-19zM977 814h19v15h-19zM1089 814h18v15h-18zM996 799h18v15h-18zM1107 799h19v15h-19zM1014 784h19v15h-19zM1126 784h18v15h-18zM1033 769h18v15h-18zM1144 769h19v15h-19zM828 754h19v15h-19zM1051 754h19v15h-19zM1163 754h19v15h-19zM847 738h18v16h-18zM1070 738h19v16h-19zM1182 738h18v16h-18z"/>
<path fill="#3e26a8" d="M996 1117h18v16h-18zM1014 1102h19v15h-19zM1033 1087h18v15h-18zM1051 1072h19v15h-19zM1070 1057h19v15h-19zM1089 1042h18v15h-18zM1107 1027h19v15h-19zM1126 1011h18v16h-18zM1144 996h19v15h-19zM828 981h19v15h-19zM1163 981h19v15h-19zM847 966h18v15h-18zM1182 966h18v15h-18zM865 951h19v15h-19zM1200 951h19v15h-19zM884 936h18v15h-18zM1219 936h18v15h-18zM902 920h19v16h-19zM1237 920h19v16h-19zM921 905h19v15h-19zM1256 905h19v15h-19zM940 890h18v15h-18zM1275 890h18v15h-18zM958 875h19v15h-19zM1293 875h19v15h-19zM977 860h19v15h-19zM996 845h18v15h-18zM1014 829h19v16h-19zM1033 814h18v15h-18zM1051 799h19v15h-19zM1070 784h19v15h-19zM1089 769h18v15h-18zM1107 754h19v15h-19zM1126 738h18v16h-18z"/>
<path fill="#3fca8e" d="M902 1117h19v16h-19zM1089 1117h18v16h-18zM1237 1117h19v16h-19zM921 1102h19v15h-19zM1107 1102h19v15h-19zM1256 1102h19v15h-19zM940 1087h18v15h-18zM1126 1087h18v15h-18zM1275 1087h18v15h-18zM958 1072h19v15h-19zM1144 1072h19v15h-19zM1293 1072h19v15h-19zM828 1057h19v15h-19zM977 1057h19v15h-19zM1163 1057h19v15h-19zM847 1042h18v15h-18zM996 1042h18v15h-18zM1182 1042h18v15h-18zM865 1027h19v15h-19zM1014 1027h19v15h-19zM1200 1027h19v15h-19zM884 1011h18v16h-18zM1033 1011h18v16h-18zM1219 1011h18v16h-18zM902 996h19v15h-19zM1051 996h19v15h-19zM1237 996h19v15h-19zM921 981h19v15h-19zM1070 981h19v15h-19zM1256 981h19v15h-19zM940 966h18v15h-18zM1089 966h18v15h-18zM1275 966h18v15h-18zM958 951h19v15h-19zM1107 951h19v15h-19zM1293 951h19v15h-19zM977 936h19v15h-19zM1126 936h18v15h-18zM996 920h18v16h-18zM1144 920h19v16h-19zM828 905h19v15h-19zM1014 905h19v15h-19zM1163 905h19v15h-19zM847 890h18v15h-18zM1033 890h18v15h-18zM1182 890h18v15h-18zM865 875h19v15h-19zM1051 875h19v15h-19zM1200 875h19v15h-19zM884 860h18v15h-18zM1070 860h19v15h-19zM1219 860h18v15h-18zM902 845h19v15h-19zM1089 845h18v15h-18zM1237 845h19v15h-19zM921 829h19v16h-19zM1107 829h19v16h-19zM1256 829h19v16h-19zM940 814h18v15h-18zM1126 814h18v15h-18zM1275 814h18v15h-18zM958 799h19v15h-19zM1144 799h19v15h-19zM1293 799h19v15h-19zM828 784h19v15h-19zM977 784h19v15h-19zM1163 784h19v15h-19zM847 769h18v15h-18zM996 769h18v15h-18zM1182 769h18v15h-18zM865 754h19v15h-19zM1014 754h19v15h-19zM1200 754h19v15h-19zM884 738h18v16h-18zM1033 738h18v16h-18zM1219 738h18v16h-18z"/>
<path fill="#402ab4" d="M977 1117h19v16h-19zM1014 1117h19v16h-19zM996 1102h18v15h-18zM1033 1102h18v15h-18zM1014 1087h19v15h-19zM1051 1087h19v15h-19zM1033 1072h18v15h-18zM1070 1072h19v15h-19zM1051 1057h19v15h-19zM1089 1057h18v15h-18zM1070 1042h19v15h-19zM1107 1042h19v15h-19zM1089 1027h18v15h-18zM1126 1027h18v15h-18zM1107 1011h19v16h-19zM1144 1011h19v16h-19zM828 996h19v15h-19zM1126 996h18v15h-18zM1163 996h19v15h-19zM847 981h18v15h-18zM1144 981h19v15h-19zM1182 981h18v15h-18zM828 966h19v15h-19zM865 966h19v15h-19zM1163 966h19v15h-19zM1200 966h19v15h-19zM847 951h18v15h-18zM884 951h18v15h-18zM1182 951h18v15h-18zM1219 951h18v15h-18zM865 936h19v15h-19zM902 936h19v15h-19zM1200 936h19v15h-19zM1237 936h19v15h-19zM884 920h18v16h-18zM921 920h19v16h-19zM1219 920h18v16h-18zM1256 920h19v16h-19zM902 905h19v15h-19zM940 905h18v15h-18zM1237 905h19v15h-19zM1275 905h18v15h-18zM921 890h19v15h-19zM958 890h19v15h-19zM1256 890h19v15h-19zM1293 890h19v15h-19zM940 875h18v15h-18zM977 875h19v15h-19zM1275 875h18v15h-18zM958 860h19v15h-19zM996 860h18v15h-18zM1293 860h19v15h-19zM977 845h19v15h-19zM1014 845h19v15h-19zM996 829h18v16h-18zM1033 829h18v16h-18zM1014 814h19v15h-19zM1051 814h19v15h-19zM1033 799h18v15h-18zM1070 799h19v15h-19zM1051 784h19v15h-19zM1089 784h18v15h-18zM1070 769h19v15h-19zM1107 769h19v15h-19zM1089 754h18v15h-18zM1126 754h18v15h-18zM1107 738h19v16h-19zM1144 738h19v16h-19z"/>
<path fill="#4747eb" d="M958 1117h19v16h-19zM1033 1117h18v16h-18zM1293 1117h19v16h-19zM977 1102h19v15h-19zM1051 1102h19v15h-19zM996 1087h18v15h-18zM1070 1087h19v15h-19zM1014 1072h19v15h-19zM1089 1072h18v15h-18zM1033 1057h18v15h-18zM1107 1057h19v15h-19zM1051 1042h19v15h-19zM1126 1042h18v15h-18zM1070 1027h19v15h-19zM1144 1027h19v15h-19zM828 1011h19v16h-19zM1089 1011h18v16h-18zM1163 1011h19v16h-19zM847 996h18v15h-18zM1107 996h19v15h-19zM1182 996h18v15h-18zM865 981h19v15h-19zM1126 981h18v15h-18zM1200 981h19v15h-19zM884 966h18v15h-18zM1144 966h19v15h-19zM1219 966h18v15h-18zM828 951h19v15h-19zM902 951h19v15h-19zM1163 951h19v15h-19zM1237 951h19v15h-19zM847 936h18v15h-18zM921 936h19v15h-19zM1182 936h18v15h-18zM1256 936h19v15h-19zM865 920h19v16h-19zM940 920h18v16h-18zM1200 920h19v16h-19zM1275 920h18v16h-18zM884 905h18v15h-18zM958 905h19v15h-19zM1219 905h18v15h-18zM1293 905h19v15h-19zM902 890h19v15h-19zM977 890h19v15h-19zM1237 890h19v15h-19zM921 875h19v15h-19zM996 875h18v15h-18zM1256 875h19v15h-19zM940 860h18v15h-18zM1014 860h19v15h-19zM1275 860h18v15h-18zM958 845h19v15h-19zM1033 845h18v15h-18zM1293 845h19v15h-19zM977 829h19v16h-19zM1051 829h19v16h-19zM996 814h18v15h-18zM1070 814h19v15h-19zM1014 799h19v15h-19zM1089 799h18v15h-18zM1033 784h18v15h-18zM1107 784h19v15h-19zM1051 769h19v15h-19zM1126 769h18v15h-18zM1070 754h19v15h-19zM1144 754h19v15h-19zM828 738h19v16h-19zM1089 738h18v16h-18zM1163 738h19v16h-19z"/>
<path fill="#c5c22a" d="M884 1117h18v16h-18zM1107 1117h19v16h-19zM1219 1117h18v16h-18zM902 1102h19v15h-19zM1126 1102h18v15h-18zM1237 1102h19v15h-19zM921 1087h19v15h-19zM1144 1087h19v15h-19zM1256 1087h19v15h-19zM828 1072h19v15h-19zM940 1072h18v15h-18zM1163 1072h19v15h-19zM1275 1072h18v15h-18zM847 1057h18v15h-18zM958 1057h19v15h-19zM1182 1057h18v15h-18zM1293 1057h19v15h-19zM865 1042h19v15h-19zM977 1042h19v15h-19zM1200 1042h19v15h-19zM884 1027h18v15h-18zM996 1027h18v15h-18zM1219 1027h18v15h-18zM902 1011h19v16h-19zM1014 1011h19v16h-19zM1237 1011h19v16h-19zM921 996h19v15h-19zM1033 996h18v15h-18zM1256 996h19v15h-19zM940 981h18v15h-18zM1051 981h19v15h-19zM1275 981h18v15h-18zM958 966h19v15h-19zM1070 966h19v15h-19zM1293 966h19v15h-19zM977 951h19v15h-19zM1089 951h18v15h-18zM996 936h18v15h-18zM1107 936h19v15h-19zM1014 920h19v16h-19zM1126 920h18v16h-18zM1033 905h18v15h-18zM1144 905h19v15h-19zM828 890h19v15h-19zM1051 890h19v15h-19zM1163 890h19v15h-19zM847 875h18v15h-18zM1070 875h19v15h-19zM1182 875h18v15h-18zM865 860h19v15h-19zM1089 860h18v15h-18zM1200 860h19v15h-19zM884 845h18v15h-18zM1107 845h19v15h-19zM1219 845h18v15h-18zM902 829h19v16h-19zM1126 829h18v16h-18zM1237 829h19v16h-19zM921 814h19v15h-19zM1144 814h19v15h-19zM1256 814h19v15h-19zM828 799h19v15h-19zM940 799h18v15h-18zM1163 799h19v15h-19zM1275 799h18v15h-18zM847 784h18v15h-18zM958 784h19v15h-19zM1182 784h18v15h-18zM1293 784h19v15h-19zM865 769h19v15h-19zM977 769h19v15h-19zM1200 769h19v15h-19zM884 754h18v15h-18zM996 754h18v15h-18zM1219 754h18v15h-18zM902 738h19v16h-19zM1014 738h19v16h-19zM1237 738h19v16h-19z"/>
<path fill="#f6ef20" d="M847 1117h18v16h-18zM1144 1117h19v16h-19zM1182 1117h18v16h-18zM828 1102h19v15h-19zM865 1102h19v15h-19zM1163 1102h19v15h-19zM1200 1102h19v15h-19zM847 1087h18v15h-18zM884 1087h18v15h-18zM1182 1087h18v15h-18zM1219 1087h18v15h-18zM865 1072h19v15h-19zM902 1072h19v15h-19zM1200 1072h19v15h-19zM1237 1072h19v15h-19zM884 1057h18v15h-18zM921 1057h19v15h-19zM1219 1057h18v15h-18zM1256 1057h19v15h-19zM902 1042h19v15h-19zM940 1042h18v15h-18zM1237 1042h19v15h-19zM1275 1042h18v15h-18zM921 1027h19v15h-19zM958 1027h19v15h-19zM1256 1027h19v15h-19zM1293 1027h19v15h-19zM940 1011h18v16h-18zM977 1011h19v16h-19zM1275 1011h18v16h-18zM958 996h19v15h-19zM996 996h18v15h-18zM1293 996h19v15h-19zM977 981h19v15h-19zM1014 981h19v15h-19zM996 966h18v15h-18zM1033 966h18v15h-18zM1014 951h19v15h-19zM1051 951h19v15h-19zM1033 936h18v15h-18zM1070 936h19v15h-19zM1051 920h19v16h-19zM1089 920h18v16h-18zM1070 905h19v15h-19zM1107 905h19v15h-19zM1089 890h18v15h-18zM1126 890h18v15h-18zM1107 875h19v15h-19zM1144 875h19v15h-19zM828 860h19v15h-19zM1126 860h18v15h-18zM1163 860h19v15h-19zM847 845h18v15h-18zM1144 845h19v15h-19zM1182 845h18v15h-18zM828 829h19v16h-19zM865 829h19v16h-19zM1163 829h19v16h-19zM1200 829h19v16h-19zM847 814h18v15h-18zM884 814h18v15h-18zM1182 814h18v15h-18zM1219 814h18v15h-18zM865 799h19v15h-19zM902 799h19v15h-19zM1200 799h19v15h-19zM1237 799h19v15h-19zM884 784h18v15h-18zM921 784h19v15h-19zM1219 784h18v15h-18zM1256 784h19v15h-19zM902 769h19v15h-19zM940 769h18v15h-18zM1237 769h19v15h-19zM1275 769h18v15h-18zM921 754h19v15h-19zM958 754h19v15h-19zM1256 754h19v15h-19zM1293 754h19v15h-19zM940 738h18v16h-18zM977 738h19v16h-19zM1275 738h18v16h-18z"/>
<path fill="#f9fb15" d="M828 1117h19v16h-19zM1163 1117h19v16h-19zM847 1102h18v15h-18zM1182 1102h18v15h-18zM865 1087h19v15h-19zM1200 1087h19v15h-19zM884 1072h18v15h-18zM1219 1072h18v15h-18zM902 1057h19v15h-19zM1237 1057h19v15h-19zM921 1042h19v15h-19zM1256 1042h19v15h-19zM940 1027h18v15h-18zM1275 1027h18v15h-18zM958 1011h19v16h-19zM1293 1011h19v16h-19zM977 996h19v15h-19zM996 981h18v15h-18zM1014 966h19v15h-19zM1033 951h18v15h-18zM1051 936h19v15h-19zM1070 920h19v16h-19zM1089 905h18v15h-18zM1107 890h19v15h-19zM1126 875h18v15h-18zM1144 860h19v15h-19zM828 845h19v15h-19zM1163 845h19v15h-19zM847 829h18v16h-18zM1182 829h18v16h-18zM865 814h19v15h-19zM1200 814h19v15h-19zM884 799h18v15h-18zM1219 799h18v15h-18zM902 784h19v15h-19zM1237 784h19v15h-19zM921 769h19v15h-19zM1256 769h19v15h-19zM940 754h18v15h-18zM1275 754h18v15h-18zM958 738h19v16h-19zM1293 738h19v16h-19zM1312 723h19v15h-19zM1331 708h18v15h-18zM1349 693h19v15h-19zM1368 678h18v15h-18zM1386 663h19v15h-19z"/>
<path fill="#fec934" d="M865 1117h19v16h-19zM1126 1117h18v16h-18zM1200 1117h19v16h-19zM884 1102h18v15h-18zM1144 1102h19v15h-19zM1219 1102h18v15h-18zM828 1087h19v15h-19zM902 1087h19v15h-19zM1163 1087h19v15h-19zM1237 1087h19v15h-19zM847 1072h18v15h-18zM921 1072h19v15h-19zM1182 1072h18v15h-18zM1256 1072h19v15h-19zM865 1057h19v15h-19zM940 1057h18v15h-18zM1200 1057h19v15h-19zM1275 1057h18v15h-18zM884 1042h18v15h-18zM958 1042h19v15h-19zM1219 1042h18v15h-18zM1293 1042h19v15h-19zM902 1027h19v15h-19zM977 1027h19v15h-19zM1237 1027h19v15h-19zM921 1011h19v16h-19zM996 1011h18v16h-18zM1256 1011h19v16h-19zM940 996h18v15h-18zM1014 996h19v15h-19zM1275 996h18v15h-18zM958 981h19v15h-19zM1033 981h18v15h-18zM1293 981h19v15h-19zM977 966h19v15h-19zM1051 966h19v15h-19zM996 951h18v15h-18zM1070 951h19v15h-19zM1014 936h19v15h-19zM1089 936h18v15h-18zM1033 920h18v16h-18zM1107 920h19v16h-19zM1051 905h19v15h-19zM1126 905h18v15h-18zM1070 890h19v15h-19zM1144 890h19v15h-19zM828 875h19v15h-19zM1089 875h18v15h-18zM1163 875h19v15h-19zM847 860h18v15h-18zM1107 860h19v15h-19zM1182 860h18v15h-18zM865 845h19v15h-19zM1126 845h18v15h-18zM1200 845h19v15h-19zM884 829h18v16h-18zM1144 829h19v16h-19zM1219 829h18v16h-18zM828 814h19v15h-19zM902 814h19v15h-19zM1163 814h19v15h-19zM1237 814h19v15h-19zM847 799h18v15h-18zM921 799h19v15h-19zM1182 799h18v15h-18zM1256 799h19v15h-19zM865 784h19v15h-19zM940 784h18v15h-18zM1200 784h19v15h-19zM1275 784h18v15h-18zM884 769h18v15h-18zM958 769h19v15h-19zM1219 769h18v15h-18zM1293 769h19v15h-19zM902 754h19v15h-19zM977 754h19v15h-19zM1237 754h19v15h-19zM921 738h19v16h-19zM996 738h18v16h-18zM1256 738h19v16h-19z"/>
</g>
<g font-family='"Liberation Sans", sans-serif' fill="#262626" stroke="#262626" stroke-width="0.25" stroke-linejoin="round">
<path d="M131.69 478.75v-6M131.69 8.75v6M195.58 478.75v-6M195.58 8.75v6M259.47 478.75v-6M259.47 8.75v6M323.36 478.75v-6M323.36 8.75v6M387.25 478.75v-6M387.25 8.75v6M451.14 478.75v-6M451.14 8.75v6M515.03 478.75v-6M515.03 8.75v6M578.92 478.75v-6M578.92 8.75v6M642.81 478.75v-6M642.81 8.75v6M71 429.14h6M646 429.14h-6M71 376.92h6M646 376.92h-6M71 324.69h6M646 324.69h-6M71 272.47h6M646 272.47h-6M71 220.25h6M646 220.25h-6M71 168.03h6M646 168.03h-6M71 115.81h6M646 115.81h-6M71 63.58h6M646 63.58h-6M71 11.36h6M646 11.36h-6" stroke="#262626" stroke-width="1" fill="none"/>
<rect x="71" y="8.75" width="575" height="470" fill="none" stroke="#262626" stroke-width="1.2"/>
<text x="131.69" y="514.05" text-anchor="middle" font-size="23">10</text>
<text x="195.58" y="514.05" text-anchor="middle" font-size="23">20</text>
<text x="259.47" y="514.05" text-anchor="middle" font-size="23">30</text>
<text x="323.36" y="514.05" text-anchor="middle" font-size="23">40</text>
<text x="387.25" y="514.05" text-anchor="middle" font-size="23">50</text>
<text x="451.14" y="514.05" text-anchor="middle" font-size="23">60</text>
<text x="515.03" y="514.05" text-anchor="middle" font-size="23">70</text>
<text x="578.92" y="514.05" text-anchor="middle" font-size="23">80</text>
<text x="642.81" y="514.05" text-anchor="middle" font-size="23">90</text>
<text x="61.5" y="438.54" text-anchor="end" font-size="23">10</text>
<text x="61.5" y="386.32" text-anchor="end" font-size="23">20</text>
<text x="61.5" y="334.09" text-anchor="end" font-size="23">30</text>
<text x="61.5" y="281.87" text-anchor="end" font-size="23">40</text>
<text x="61.5" y="229.65" text-anchor="end" font-size="23">50</text>
<text x="61.5" y="177.43" text-anchor="end" font-size="23">60</text>
<text x="61.5" y="125.21" text-anchor="end" font-size="23">70</text>
<text x="61.5" y="72.98" text-anchor="end" font-size="23">80</text>
<text x="61.5" y="20.76" text-anchor="end" font-size="23">90</text>
<text x="357.5" y="548.95" text-anchor="middle" font-size="25">time (samples)</text>
<text transform="translate(23 245.05) rotate(-90)" text-anchor="middle" font-size="25" letter-spacing="0.9">time (samples)</text>
<path d="M888.91 478.75v-6M888.91 8.75v6M953.02 478.75v-6M953.02 8.75v6M1017.13 478.75v-6M1017.13 8.75v6M1081.24 478.75v-6M1081.24 8.75v6M1145.35 478.75v-6M1145.35 8.75v6M1209.46 478.75v-6M1209.46 8.75v6M1273.57 478.75v-6M1273.57 8.75v6M1337.68 478.75v-6M1337.68 8.75v6M1401.79 478.75v-6M1401.79 8.75v6M828 429.14h6M1405 429.14h-6M828 376.92h6M1405 376.92h-6M828 324.69h6M1405 324.69h-6M828 272.47h6M1405 272.47h-6M828 220.25h6M1405 220.25h-6M828 168.03h6M1405 168.03h-6M828 115.81h6M1405 115.81h-6M828 63.58h6M1405 63.58h-6M828 11.36h6M1405 11.36h-6" stroke="#262626" stroke-width="1" fill="none"/>
<rect x="828" y="8.75" width="577" height="470" fill="none" stroke="#262626" stroke-width="1.2"/>
<text x="888.91" y="514.05" text-anchor="middle" font-size="23">10</text>
<text x="953.02" y="514.05" text-anchor="middle" font-size="23">20</text>
<text x="1017.13" y="514.05" text-anchor="middle" font-size="23">30</text>
<text x="1081.24" y="514.05" text-anchor="middle" font-size="23">40</text>
<text x="1145.35" y="514.05" text-anchor="middle" font-size="23">50</text>
<text x="1209.46" y="514.05" text-anchor="middle" font-size="23">60</text>
<text x="1273.57" y="514.05" text-anchor="middle" font-size="23">70</text>
<text x="1337.68" y="514.05" text-anchor="middle" font-size="23">80</text>
<text x="1401.79" y="514.05" text-anchor="middle" font-size="23">90</text>
<text x="818.5" y="438.54" text-anchor="end" font-size="23">10</text>
<text x="818.5" y="386.32" text-anchor="end" font-size="23">20</text>
<text x="818.5" y="334.09" text-anchor="end" font-size="23">30</text>
<text x="818.5" y="281.87" text-anchor="end" font-size="23">40</text>
<text x="818.5" y="229.65" text-anchor="end" font-size="23">50</text>
<text x="818.5" y="177.43" text-anchor="end" font-size="23">60</text>
<text x="818.5" y="125.21" text-anchor="end" font-size="23">70</text>
<text x="818.5" y="72.98" text-anchor="end" font-size="23">80</text>
<text x="818.5" y="20.76" text-anchor="end" font-size="23">90</text>
<text x="1115.5" y="548.95" text-anchor="middle" font-size="25">time (samples)</text>
<text transform="translate(780 245.05) rotate(-90)" text-anchor="middle" font-size="25" letter-spacing="0.9">time (samples)</text>
<path d="M157.25 1132.65v-6M157.25 662.65v6M253.08 1132.65v-6M253.08 662.65v6M348.92 1132.65v-6M348.92 662.65v6M444.75 1132.65v-6M444.75 662.65v6M540.58 1132.65v-6M540.58 662.65v6M636.42 1132.65v-6M636.42 662.65v6M71 1062.15h6M646 1062.15h-6M71 983.82h6M646 983.82h-6M71 905.48h6M646 905.48h-6M71 827.15h6M646 827.15h-6M71 748.82h6M646 748.82h-6M71 670.48h6M646 670.48h-6" stroke="#262626" stroke-width="1" fill="none"/>
<rect x="71" y="662.65" width="575" height="470" fill="none" stroke="#262626" stroke-width="1.2"/>
<text x="157.25" y="1167.95" text-anchor="middle" font-size="23">35</text>
<text x="253.08" y="1167.95" text-anchor="middle" font-size="23">40</text>
<text x="348.92" y="1167.95" text-anchor="middle" font-size="23">45</text>
<text x="444.75" y="1167.95" text-anchor="middle" font-size="23">50</text>
<text x="540.58" y="1167.95" text-anchor="middle" font-size="23">55</text>
<text x="636.42" y="1167.95" text-anchor="middle" font-size="23">60</text>
<text x="61.5" y="1071.55" text-anchor="end" font-size="23">35</text>
<text x="61.5" y="993.22" text-anchor="end" font-size="23">40</text>
<text x="61.5" y="914.88" text-anchor="end" font-size="23">45</text>
<text x="61.5" y="836.55" text-anchor="end" font-size="23">50</text>
<text x="61.5" y="758.22" text-anchor="end" font-size="23">55</text>
<text x="61.5" y="679.88" text-anchor="end" font-size="23">60</text>
<text x="357.5" y="1202.85" text-anchor="middle" font-size="25">time (samples)</text>
<text transform="translate(23 898.95) rotate(-90)" text-anchor="middle" font-size="25" letter-spacing="0.9">time (samples)</text>
<path d="M837.31 1132.65v-6M837.31 662.65v6M930.37 1132.65v-6M930.37 662.65v6M1023.44 1132.65v-6M1023.44 662.65v6M1116.5 1132.65v-6M1116.5 662.65v6M1209.56 1132.65v-6M1209.56 662.65v6M1302.63 1132.65v-6M1302.63 662.65v6M1395.69 1132.65v-6M1395.69 662.65v6M828 1125.07h6M1405 1125.07h-6M828 1049.26h6M1405 1049.26h-6M828 973.46h6M1405 973.46h-6M828 897.65h6M1405 897.65h-6M828 821.84h6M1405 821.84h-6M828 746.04h6M1405 746.04h-6M828 670.23h6M1405 670.23h-6" stroke="#262626" stroke-width="1" fill="none"/>
<rect x="828" y="662.65" width="577" height="470" fill="none" stroke="#262626" stroke-width="1.2"/>
<text x="837.31" y="1167.95" text-anchor="middle" font-size="23">35</text>
<text x="930.37" y="1167.95" text-anchor="middle" font-size="23">40</text>
<text x="1023.44" y="1167.95" text-anchor="middle" font-size="23">45</text>
<text x="1116.5" y="1167.95" text-anchor="middle" font-size="23">50</text>
<text x="1209.56" y="1167.95" text-anchor="middle" font-size="23">55</text>
<text x="1302.63" y="1167.95" text-anchor="middle" font-size="23">60</text>
<text x="1395.69" y="1167.95" text-anchor="middle" font-size="23">65</text>
<text x="818.5" y="1134.47" text-anchor="end" font-size="23">35</text>
<text x="818.5" y="1058.66" text-anchor="end" font-size="23">40</text>
<text x="818.5" y="982.86" text-anchor="end" font-size="23">45</text>
<text x="818.5" y="907.05" text-anchor="end" font-size="23">50</text>
<text x="818.5" y="831.24" text-anchor="end" font-size="23">55</text>
<text x="818.5" y="755.44" text-anchor="end" font-size="23">60</text>
<text x="818.5" y="679.63" text-anchor="end" font-size="23">65</text>
<text x="1115.5" y="1202.85" text-anchor="middle" font-size="25">time (samples)</text>
<text transform="translate(780 898.95) rotate(-90)" text-anchor="middle" font-size="25" letter-spacing="0.9">time (samples)</text>
<text x="1115.2" y="650.25" text-anchor="middle" font-size="25" font-weight="bold" fill="#000" letter-spacing="-0.3">Cluster 1</text>
</g>
</svg>
</body>
</html>
